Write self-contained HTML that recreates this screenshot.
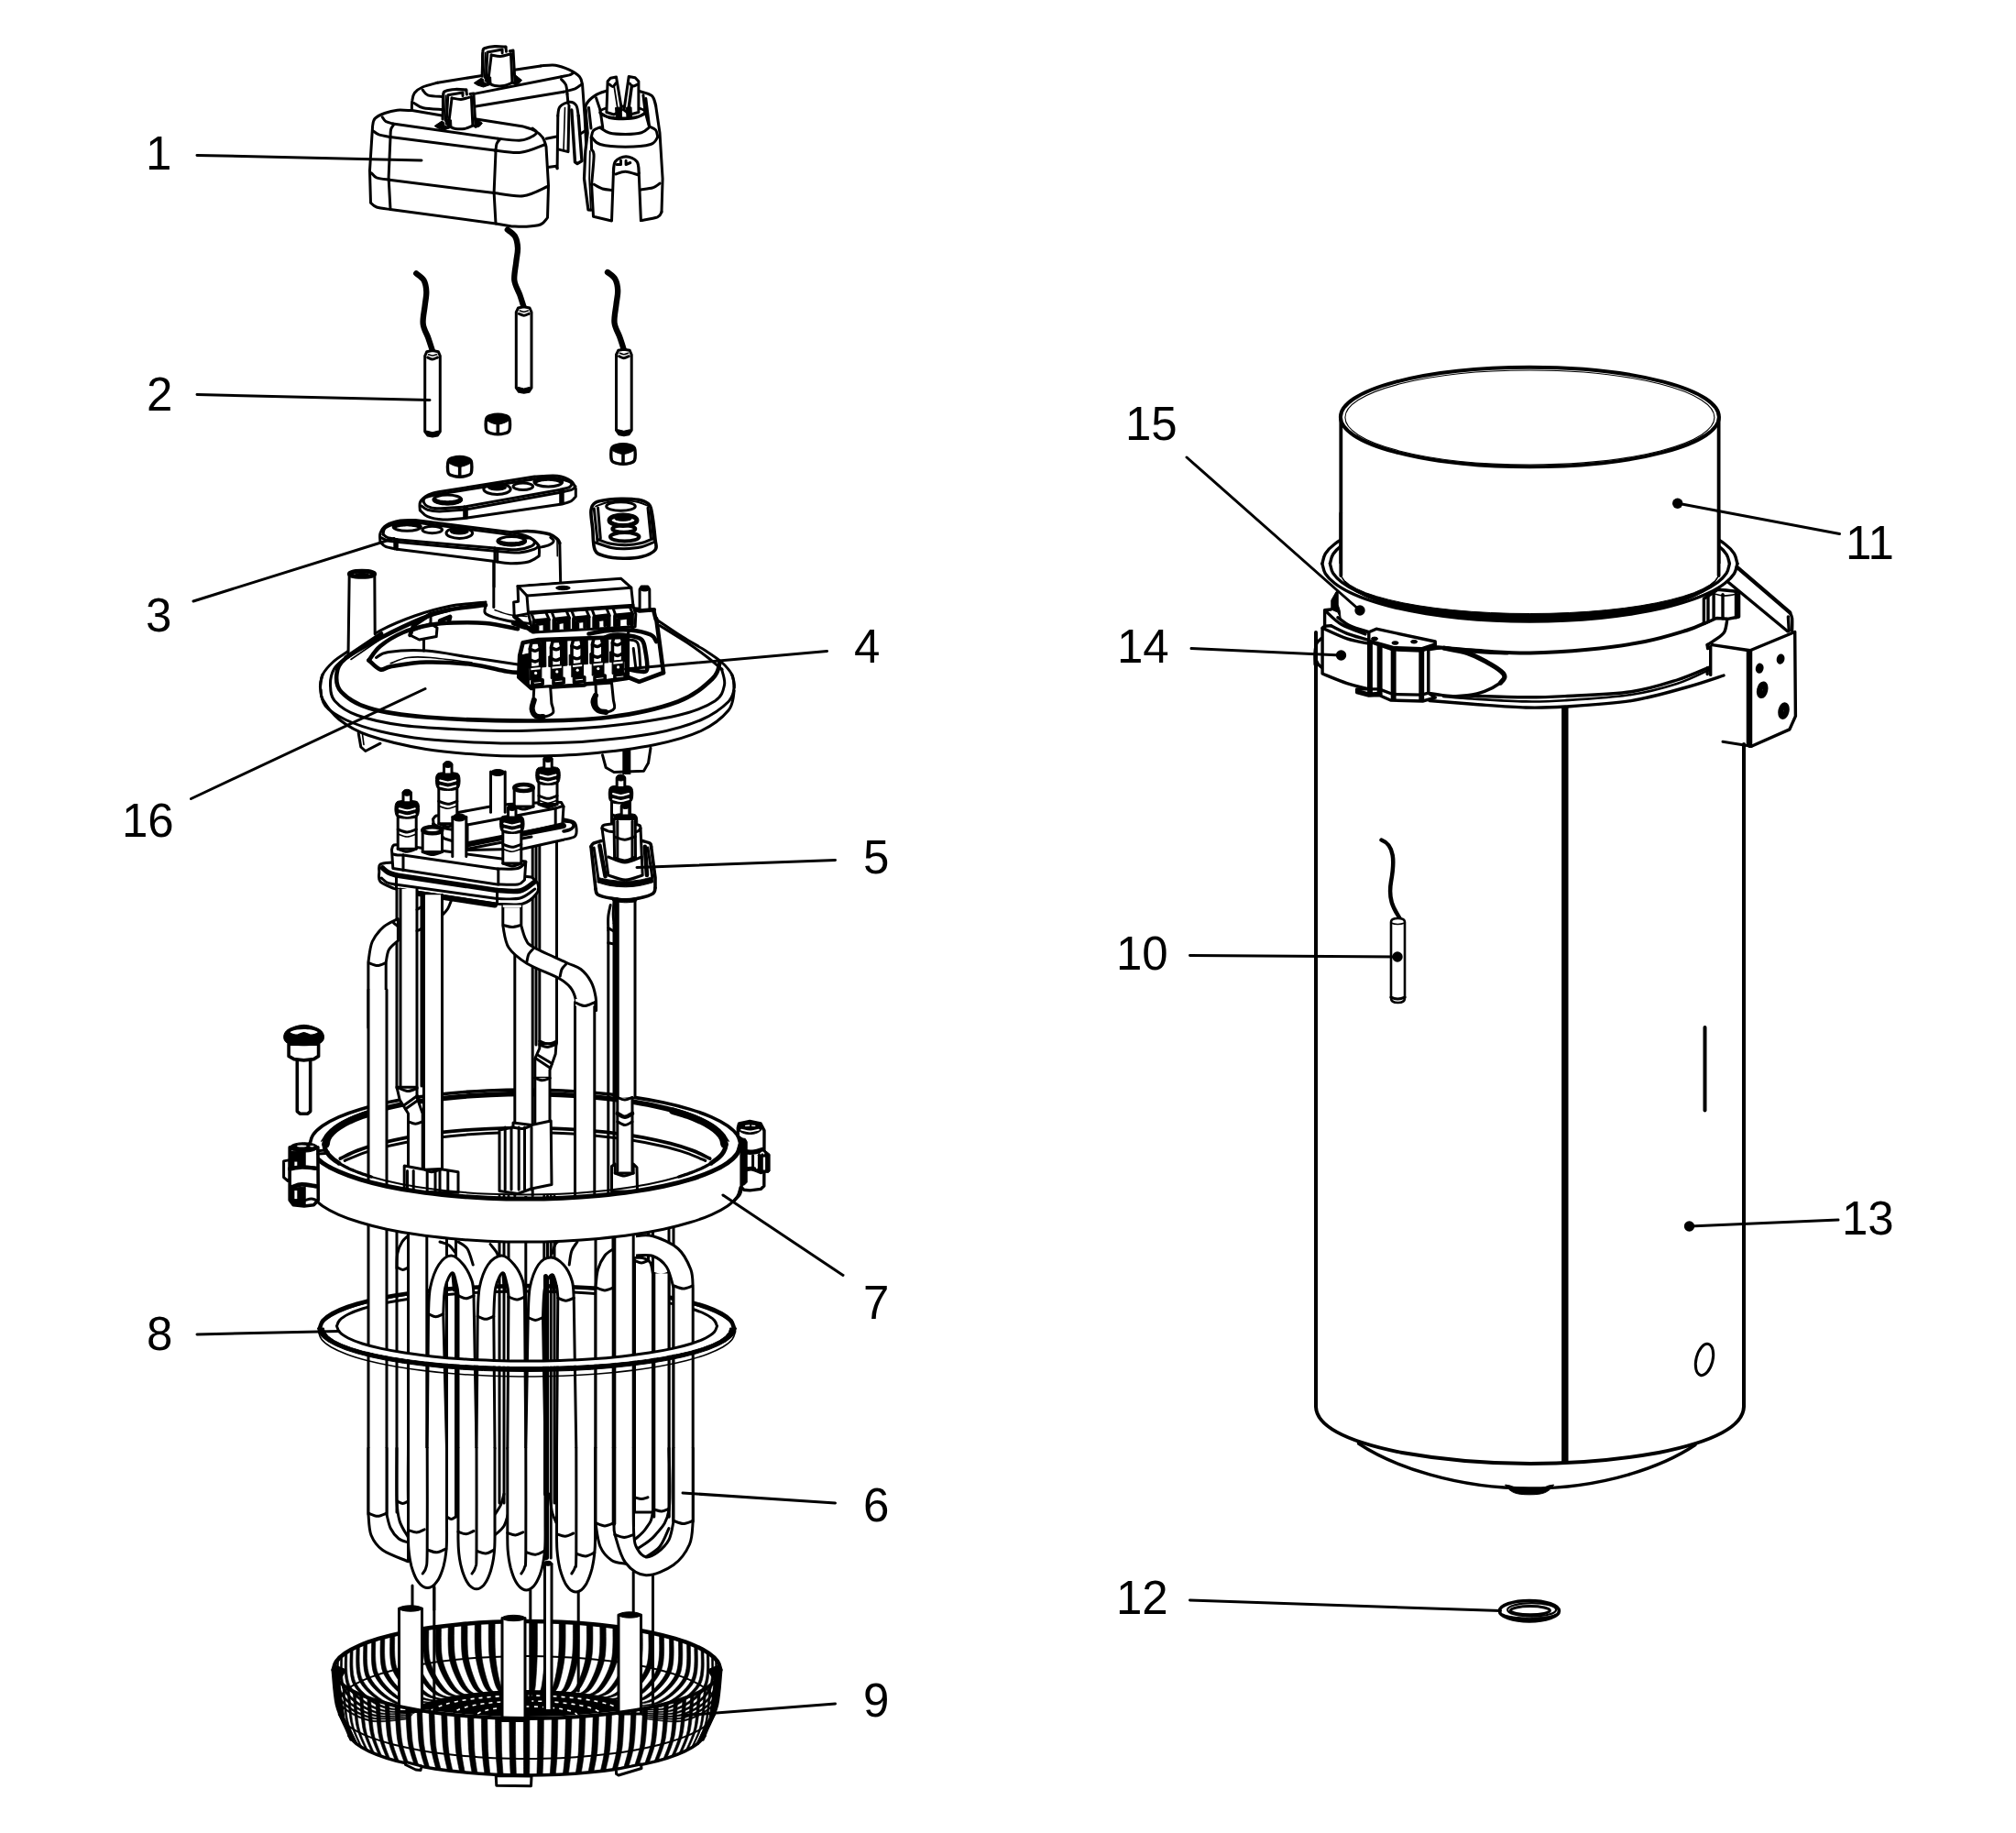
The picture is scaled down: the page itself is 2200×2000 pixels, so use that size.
<!DOCTYPE html>
<html><head><meta charset="utf-8">
<style>
html,body{margin:0;padding:0;background:#fff;}
body{width:2200px;height:2000px;overflow:hidden;font-family:"Liberation Sans",sans-serif;}
svg{display:block}
.l{fill:none;stroke:#000;stroke-width:3;stroke-linecap:round;stroke-linejoin:round}
.w{fill:#fff;stroke:#000;stroke-width:3;stroke-linecap:round;stroke-linejoin:round}
.n{fill:#fff;stroke:none}
.r .l,.r .w{stroke-width:3.4}
.k{fill:#000;stroke:#000;stroke-width:1;stroke-linejoin:round}
.t{font-family:"Liberation Sans",sans-serif;font-size:51px;fill:#000}
.ld{fill:none;stroke:#000;stroke-width:3;stroke-linecap:round}
</style></head><body>
<svg width="2200" height="2000" viewBox="0 0 2200 2000">
<rect width="2200" height="2000" fill="#fff"/>
<!--RING7, tubes, RING8, U-bends, BASKET-->
<path class="k" style="stroke-width:.6" d="M364,1819.2C364.7,1825.6 361.8,1847.5 368.3,1857.2C374.8,1867 390.1,1874.8 403.2,1877.9C416.4,1880.9 439.9,1875.9 447.2,1875.5L447.5,1874.6C440.2,1874.9 416.7,1879.7 403.6,1876.5C390.5,1873.3 375.3,1865.3 368.8,1855.5C362.2,1845.6 365.2,1823.8 364.5,1817.5Z"/>
<path class="k" style="stroke-width:.6" d="M365.4,1815.4C366.1,1821.7 363.1,1843.4 369.6,1853.4C376.1,1863.3 391.3,1871.5 404.4,1874.9C417.4,1878.2 440.7,1873.7 448,1873.5L448.6,1872.6C441.4,1872.7 418.2,1877 405.2,1873.5C392.2,1870 377.1,1861.6 370.6,1851.6C364.1,1841.6 367.1,1820 366.4,1813.6Z"/>
<path class="k" style="stroke-width:.6" d="M367.9,1811.5C368.6,1817.9 365.7,1839.5 372.1,1849.5C378.5,1859.6 393.5,1868.2 406.4,1871.9C419.3,1875.6 442.3,1871.5 449.5,1871.5L450.4,1870.6C443.3,1870.6 420.4,1874.4 407.6,1870.6C394.8,1866.8 379.9,1857.9 373.5,1847.8C367.2,1837.7 370.1,1816.1 369.4,1809.8Z"/>
<path class="k" style="stroke-width:.6" d="M371.5,1807.7C372.2,1814.1 369.3,1835.5 375.6,1845.7C381.9,1856 396.7,1865 409.3,1869C422,1872.9 444.7,1869.4 451.7,1869.5L452.9,1868.6C445.9,1868.4 423.5,1871.8 411,1867.7C398.4,1863.6 383.8,1854.3 377.6,1844.1C371.3,1833.8 374.2,1812.4 373.5,1806.1Z"/>
<path class="k" style="stroke-width:.6" d="M376.2,1804C376.9,1810.4 374.1,1831.7 380.2,1842C386.4,1852.4 400.8,1861.9 413.2,1866.1C425.6,1870.4 447.7,1867.3 454.6,1867.5L456.1,1866.7C449.2,1866.4 427.4,1869.2 415.2,1864.8C402.9,1860.5 388.7,1850.8 382.7,1840.4C376.6,1830 379.4,1808.7 378.7,1802.4Z"/>
<path class="k" style="stroke-width:.6" d="M382,1800.4C382.7,1806.8 379.9,1828 385.9,1838.4C391.9,1848.9 405.8,1858.8 417.9,1863.3C429.9,1867.9 451.4,1865.2 458.1,1865.6L459.8,1864.8C453.2,1864.3 432.1,1866.8 420.3,1862.1C408.4,1857.4 394.7,1847.4 388.8,1836.9C382.9,1826.3 385.6,1805.2 385,1798.9Z"/>
<path class="k" style="stroke-width:.6" d="M388.8,1797C389.4,1803.3 386.8,1824.3 392.6,1835C398.3,1845.6 411.8,1855.8 423.4,1860.6C435,1865.4 455.7,1863.2 462.2,1863.8L464.2,1863C457.9,1862.4 437.6,1864.4 426.2,1859.4C414.8,1854.5 401.6,1844.1 395.9,1833.4C390.2,1822.8 392.8,1801.8 392.2,1795.4Z"/>
<path class="k" style="stroke-width:.6" d="M396.6,1793.6C397.2,1799.9 394.7,1820.9 400.2,1831.6C405.7,1842.3 418.7,1853 429.8,1858C440.9,1863.1 460.7,1861.3 466.9,1862L469.2,1861.2C463.2,1860.5 443.8,1862.1 432.9,1856.9C422,1851.7 409.4,1840.9 404,1830.1C398.6,1819.3 401.1,1798.5 400.5,1792.1Z"/>
<path class="k" style="stroke-width:.6" d="M405.4,1790.4C406,1796.7 403.6,1817.5 408.8,1828.4C414.1,1839.3 426.3,1850.2 436.9,1855.6C447.5,1860.9 466.4,1859.5 472.2,1860.3L474.8,1859.6C469.1,1858.7 450.7,1859.9 440.4,1854.5C430.1,1849.1 418.1,1837.9 413,1827C407.9,1816.1 410.2,1795.3 409.7,1789Z"/>
<path class="k" style="stroke-width:.6" d="M415.1,1787.4C415.6,1793.7 413.4,1814.4 418.3,1825.4C423.3,1836.3 434.8,1847.7 444.8,1853.2C454.8,1858.8 472.6,1857.8 478.1,1858.7L480.9,1858C475.5,1857 458.3,1857.9 448.6,1852.2C438.9,1846.5 427.7,1835.1 422.8,1824.1C418,1813 420.2,1792.4 419.7,1786.1Z"/>
<path class="k" style="stroke-width:.6" d="M425.6,1784.5C426.1,1790.9 424,1811.4 428.6,1822.5C433.3,1833.6 444.1,1845.2 453.4,1851C462.7,1856.8 479.3,1856.2 484.5,1857.2L487.5,1856.6C482.5,1855.5 466.5,1855.9 457.5,1850.1C448.5,1844.2 438,1832.4 433.5,1821.3C429.1,1810.2 431.1,1789.6 430.6,1783.3Z"/>
<path class="k" style="stroke-width:.6" d="M437,1781.9C437.4,1788.2 435.5,1808.7 439.7,1819.9C444,1831.1 454,1843 462.6,1849C471.2,1855 486.6,1854.7 491.4,1855.8L494.6,1855.2C490,1854 475.2,1854.2 467,1848.1C458.7,1842 449.1,1830 445,1818.8C440.9,1807.5 442.8,1787.1 442.3,1780.8Z"/>
<path class="k" style="stroke-width:.6" d="M449,1779.5C449.5,1785.8 447.7,1806.2 451.6,1817.5C455.5,1828.7 464.6,1840.9 472.4,1847.1C480.3,1853.3 494.3,1853.3 498.7,1854.5L502.1,1854C497.9,1852.7 484.6,1852.6 477.1,1846.3C469.6,1840 460.9,1827.7 457.1,1816.4C453.4,1805.1 455.1,1784.8 454.7,1778.4Z"/>
<path class="k" style="stroke-width:.6" d="M461.8,1777.3C462.2,1783.6 460.6,1803.9 464.1,1815.3C467.6,1826.6 475.8,1839 482.8,1845.4C489.9,1851.7 502.5,1852 506.4,1853.4L510,1852.9C506.3,1851.5 494.4,1851.1 487.7,1844.7C481,1838.3 473.2,1825.7 469.9,1814.3C466.6,1802.9 468.1,1782.7 467.8,1776.3Z"/>
<path class="k" style="stroke-width:.6" d="M475.2,1775.3C475.5,1781.6 474.1,1801.9 477.2,1813.3C480.3,1824.7 487.5,1837.4 493.7,1843.9C499.9,1850.4 511,1850.9 514.5,1852.3L518.3,1851.9C515,1850.5 504.6,1849.8 498.8,1843.2C492.9,1836.7 486.2,1823.9 483.3,1812.5C480.4,1801 481.7,1780.8 481.4,1774.5Z"/>
<path class="k" style="stroke-width:.6" d="M489.1,1773.6C489.4,1779.9 488.1,1800.1 490.8,1811.6C493.5,1823.1 499.7,1835.9 505,1842.5C510.4,1849.2 520,1849.9 522.9,1851.4L526.8,1851.1C524.1,1849.6 515.2,1848.7 510.3,1842C505.3,1835.3 499.6,1822.4 497.1,1810.9C494.6,1799.4 495.8,1779.2 495.5,1772.9Z"/>
<path class="k" style="stroke-width:.6" d="M503.4,1772.1C503.7,1778.5 502.7,1798.6 504.9,1810.1C507.1,1821.7 512.3,1834.7 516.7,1841.4C521.2,1848.2 529.2,1849.1 531.6,1850.7L535.6,1850.4C533.4,1848.8 526.2,1847.8 522.1,1841C518.1,1834.2 513.4,1821.1 511.3,1809.6C509.3,1798 510.3,1777.9 510,1771.6Z"/>
<path class="k" style="stroke-width:.6" d="M518.2,1771C518.4,1777.3 517.6,1797.4 519.3,1809C521.1,1820.5 525.2,1833.7 528.7,1840.5C532.3,1847.4 538.6,1848.4 540.6,1850L544.7,1849.8C542.9,1848.2 537.4,1847 534.2,1840.2C531.1,1833.3 527.5,1820.1 525.9,1808.5C524.4,1796.9 525.1,1776.8 524.9,1770.5Z"/>
<path class="k" style="stroke-width:.6" d="M533.2,1770C533.4,1776.4 532.8,1796.4 534.1,1808C535.4,1819.7 538.4,1832.9 541,1839.8C543.6,1846.7 548.3,1847.9 549.7,1849.6L553.9,1849.4C552.6,1847.7 548.8,1846.5 546.6,1839.6C544.4,1832.6 541.9,1819.4 540.8,1807.7C539.7,1796.1 540.2,1776.1 540.1,1769.7Z"/>
<path class="k" style="stroke-width:.6" d="M548.5,1769.4C548.6,1775.8 548.2,1795.8 549.1,1807.4C549.9,1819.1 551.8,1832.4 553.4,1839.3C555.1,1846.3 558,1847.6 559,1849.2L563.2,1849.1C562.5,1847.5 560.3,1846.2 559.1,1839.2C557.9,1832.2 556.4,1818.9 555.8,1807.2C555.2,1795.6 555.5,1775.6 555.5,1769.2Z"/>
<path class="k" style="stroke-width:.6" d="M563.9,1769.1C564,1775.4 563.8,1795.4 564.2,1807.1C564.5,1818.7 565.3,1832.1 566,1839.1C566.7,1846.1 567.9,1847.4 568.3,1849L572.5,1849C572.4,1847.3 571.9,1846 571.7,1839C571.4,1832 571.1,1818.7 571,1807C570.9,1795.3 570.9,1775.3 570.9,1769Z"/>
<path class="k" style="stroke-width:.6" d="M579.4,1769C579.4,1775.3 579.5,1795.3 579.3,1807C579.2,1818.7 578.9,1832 578.6,1839C578.3,1846 577.8,1847.3 577.7,1849L581.9,1849C582.3,1847.4 583.6,1846.1 584.3,1839.1C585,1832.1 585.8,1818.7 586.2,1807.1C586.5,1795.4 586.3,1775.4 586.4,1769.1Z"/>
<path class="k" style="stroke-width:.6" d="M594.9,1769.2C594.8,1775.6 595.1,1795.6 594.5,1807.2C593.9,1818.9 592.4,1832.2 591.2,1839.2C589.9,1846.2 587.7,1847.5 587,1849.1L591.2,1849.2C592.2,1847.6 595.2,1846.3 596.8,1839.3C598.5,1832.4 600.4,1819.1 601.3,1807.4C602.1,1795.8 601.7,1775.8 601.8,1769.4Z"/>
<path class="k" style="stroke-width:.6" d="M610.2,1769.7C610.1,1776.1 610.6,1796.1 609.5,1807.7C608.4,1819.4 605.9,1832.6 603.7,1839.6C601.5,1846.5 597.6,1847.8 596.3,1849.4L600.5,1849.6C602,1847.9 606.6,1846.7 609.3,1839.8C611.9,1832.9 614.9,1819.7 616.2,1808.1C617.5,1796.4 616.9,1776.4 617.1,1770.1Z"/>
<path class="k" style="stroke-width:.6" d="M625.4,1770.5C625.2,1776.9 625.9,1796.9 624.4,1808.5C622.8,1820.1 619.2,1833.3 616,1840.2C612.9,1847.1 607.3,1848.2 605.5,1849.8L609.6,1850C611.6,1848.5 618,1847.4 621.5,1840.5C625.1,1833.7 629.2,1820.6 631,1809C632.7,1797.4 631.9,1777.3 632.1,1771Z"/>
<path class="k" style="stroke-width:.6" d="M640.3,1771.6C640.1,1777.9 641,1798 639,1809.6C636.9,1821.2 632.2,1834.2 628.2,1841C624.1,1847.8 616.8,1848.8 614.6,1850.4L618.5,1850.7C621,1849.1 629,1848.2 633.5,1841.4C638,1834.7 643.2,1821.7 645.4,1810.2C647.7,1798.6 646.6,1778.5 646.9,1772.2Z"/>
<path class="k" style="stroke-width:.6" d="M654.8,1772.9C654.6,1779.3 655.7,1799.4 653.2,1810.9C650.7,1822.4 645,1835.3 640,1842C635,1848.7 626.1,1849.6 623.4,1851.1L627.2,1851.4C630.2,1850 639.8,1849.2 645.2,1842.6C650.6,1835.9 656.8,1823.1 659.5,1811.6C662.2,1800.1 660.9,1779.9 661.2,1773.6Z"/>
<path class="k" style="stroke-width:.6" d="M668.9,1774.5C668.6,1780.9 669.9,1801.1 667,1812.5C664.1,1824 657.3,1836.7 651.5,1843.3C645.6,1849.8 635.2,1850.5 631.9,1851.9L635.7,1852.3C639.1,1850.9 650.3,1850.4 656.5,1843.9C662.8,1837.4 670,1824.8 673.1,1813.3C676.2,1801.9 674.8,1781.7 675.1,1775.3Z"/>
<path class="k" style="stroke-width:.6" d="M682.5,1776.4C682.2,1782.7 683.7,1803 680.4,1814.4C677,1825.8 669.3,1838.3 662.6,1844.7C655.9,1851.1 643.9,1851.5 640.2,1852.9L643.8,1853.4C647.7,1852.1 660.3,1851.8 667.4,1845.4C674.5,1839.1 682.7,1826.6 686.2,1815.3C689.7,1803.9 688.1,1783.6 688.5,1777.3Z"/>
<path class="k" style="stroke-width:.6" d="M695.6,1778.5C695.2,1784.8 696.9,1805.2 693.1,1816.5C689.4,1827.8 680.7,1840.1 673.2,1846.3C665.6,1852.6 652.2,1852.7 648.1,1854L651.5,1854.5C655.9,1853.3 669.9,1853.3 677.8,1847.1C685.6,1840.9 694.8,1828.8 698.7,1817.5C702.6,1806.2 700.8,1785.8 701.2,1779.5Z"/>
<path class="k" style="stroke-width:.6" d="M707.9,1780.8C707.5,1787.1 709.4,1807.6 705.3,1818.8C701.2,1830 691.5,1842.1 683.2,1848.1C675,1854.2 660.2,1854.1 655.6,1855.2L658.8,1855.8C663.6,1854.7 679,1855 687.6,1849C696.2,1843 706.2,1831.1 710.5,1819.9C714.8,1808.8 712.8,1788.3 713.3,1781.9Z"/>
<path class="k" style="stroke-width:.6" d="M719.6,1783.4C719.1,1789.7 721.2,1810.2 716.7,1821.4C712.2,1832.5 701.8,1844.2 692.7,1850.1C683.7,1856 667.6,1855.5 662.6,1856.6L665.7,1857.2C670.8,1856.2 687.5,1856.8 696.8,1851.1C706.1,1845.3 717,1833.7 721.6,1822.6C726.2,1811.5 724.1,1790.9 724.6,1784.6Z"/>
<path class="k" style="stroke-width:.6" d="M730.5,1786.1C730,1792.5 732.2,1813.1 727.4,1824.1C722.6,1835.1 711.3,1846.6 701.6,1852.2C691.9,1857.9 674.6,1857.1 669.2,1858L672,1858.7C677.6,1857.8 695.4,1858.8 705.4,1853.3C715.4,1847.7 727,1836.4 731.9,1825.4C736.9,1814.5 734.6,1793.8 735.1,1787.4Z"/>
<path class="k" style="stroke-width:.6" d="M740.6,1789.1C740,1795.4 742.4,1816.2 737.2,1827.1C732.1,1838 720.1,1849.1 709.8,1854.5C699.5,1860 681.1,1858.8 675.3,1859.6L677.9,1860.3C683.8,1859.6 702.7,1860.9 713.2,1855.6C723.8,1850.3 736.1,1839.3 741.4,1828.5C746.6,1817.6 744.2,1796.8 744.8,1790.5Z"/>
<path class="k" style="stroke-width:.6" d="M749.7,1792.2C749.1,1798.5 751.6,1819.4 746.2,1830.2C740.8,1841 728.1,1851.8 717.3,1857C706.4,1862.1 686.9,1860.5 680.9,1861.3L683.2,1862C689.4,1861.4 709.2,1863.1 720.4,1858.1C731.5,1853 744.4,1842.4 749.9,1831.7C755.5,1820.9 752.9,1800 753.5,1793.7Z"/>
<path class="k" style="stroke-width:.6" d="M757.9,1795.5C757.3,1801.8 759.9,1822.8 754.3,1833.5C748.6,1844.2 735.4,1854.6 724,1859.5C712.6,1864.4 692.2,1862.4 685.9,1863L687.9,1863.8C694.4,1863.3 715.1,1865.5 726.7,1860.7C738.3,1855.9 751.8,1845.6 757.6,1835C763.4,1824.4 760.7,1803.4 761.3,1797Z"/>
<path class="k" style="stroke-width:.6" d="M765.2,1798.9C764.6,1805.3 767.3,1826.4 761.4,1836.9C755.5,1847.5 741.7,1857.5 729.9,1862.2C718,1866.8 696.8,1864.4 690.2,1864.8L692,1865.7C698.7,1865.3 720.2,1867.9 732.2,1863.4C744.3,1858.9 758.3,1849 764.2,1838.5C770.2,1828 767.5,1806.9 768.1,1800.5Z"/>
<path class="k" style="stroke-width:.6" d="M771.4,1802.5C770.8,1808.8 773.5,1830.1 767.5,1840.5C761.4,1850.9 747.2,1860.5 734.9,1864.9C722.7,1869.3 700.8,1866.4 694,1866.7L695.5,1867.6C702.4,1867.3 724.5,1870.4 736.9,1866.2C749.3,1861.9 763.7,1852.5 769.9,1842.1C776,1831.8 773.2,1810.5 773.9,1804.1Z"/>
<path class="k" style="stroke-width:.6" d="M776.6,1806.2C775.9,1812.5 778.8,1833.9 772.5,1844.2C766.3,1854.4 751.7,1863.7 739.1,1867.7C726.6,1871.8 704.1,1868.5 697.1,1868.6L698.3,1869.5C705.4,1869.4 728,1873 740.7,1869C753.4,1865.1 768.2,1856 774.5,1845.8C780.8,1835.6 777.9,1814.2 778.6,1807.8Z"/>
<path class="k" style="stroke-width:.6" d="M780.7,1809.9C780,1816.2 782.9,1837.8 776.5,1847.9C770.2,1858 755.3,1866.9 742.5,1870.6C729.6,1874.4 706.8,1870.6 699.6,1870.6L700.5,1871.5C707.7,1871.6 730.7,1875.6 743.7,1872C756.6,1868.3 771.6,1859.7 778,1849.6C784.4,1839.5 781.5,1817.9 782.1,1811.6Z"/>
<path class="k" style="stroke-width:.6" d="M783.6,1813.7C782.9,1820 785.9,1841.7 779.5,1851.7C773,1861.7 757.9,1870.1 744.9,1873.6C731.9,1877.1 708.7,1872.8 701.4,1872.6L702,1873.5C709.3,1873.8 732.6,1878.3 745.7,1874.9C758.7,1871.6 773.9,1863.4 780.4,1853.4C786.9,1843.5 783.9,1821.8 784.6,1815.4Z"/>
<path class="k" style="stroke-width:.6" d="M785.5,1817.6C784.8,1823.9 787.8,1845.7 781.3,1855.6C774.8,1865.4 759.5,1873.4 746.4,1876.6C733.3,1879.8 709.9,1875 702.6,1874.7L702.8,1875.6C710.2,1876 733.6,1881 746.8,1877.9C759.9,1874.9 775.2,1867.1 781.7,1857.3C788.3,1847.5 785.3,1825.6 786,1819.3Z"/>
<path class="l" d="M368.8,1855.4C369.8,1853.9 372,1849.2 375.1,1846.3C378.2,1843.3 382.3,1840.4 387.4,1837.6C392.5,1834.8 398.6,1832.1 405.4,1829.6C412.3,1827.1 420.2,1824.7 428.6,1822.5C437.1,1820.4 446.5,1818.3 456.3,1816.6C466.1,1814.8 476.7,1813.3 487.5,1812C498.4,1810.7 509.9,1809.6 521.4,1808.8C533,1808 545,1807.5 557,1807.2C568.9,1806.9 581.1,1806.9 593,1807.2C605,1807.5 617,1808 628.6,1808.8C640.1,1809.6 651.6,1810.7 662.5,1812C673.3,1813.3 683.9,1814.8 693.7,1816.6C703.5,1818.3 712.9,1820.4 721.4,1822.5C729.8,1824.7 737.7,1827.1 744.6,1829.6C751.4,1832.1 757.5,1834.8 762.6,1837.6C767.7,1840.4 771.8,1843.3 774.9,1846.3C778,1849.2 780.2,1853.9 781.2,1855.4" style="stroke-width:2"/>
<clipPath id="rimclip"><ellipse cx="575" cy="1822" rx="209" ry="51"/></clipPath>
<g clip-path="url(#rimclip)"><ellipse cx="575" cy="1874" rx="130" ry="30" fill="#000"/>
<ellipse cx="575" cy="1872" rx="108" ry="22" fill="none" stroke="#fff" stroke-width="1.6" stroke-dasharray="4 5"/>
<ellipse cx="575" cy="1872" rx="82" ry="16" fill="none" stroke="#fff" stroke-width="1.6" stroke-dasharray="4 5"/>
<ellipse cx="575" cy="1872" rx="55" ry="10" fill="none" stroke="#fff" stroke-width="1.6" stroke-dasharray="4 5"/>
</g>
<path class="l" d="M363.8,1822C364.3,1820.5 364.8,1815.8 367,1812.8C369.1,1809.8 372.3,1806.8 376.5,1803.9C380.7,1801 385.9,1798.2 392.1,1795.5C398.2,1792.8 405.3,1790.3 413.2,1787.9C421,1785.6 429.8,1783.4 439.2,1781.4C448.6,1779.4 458.8,1777.6 469.4,1776.1C480,1774.6 491.3,1773.2 502.7,1772.2C514.2,1771.1 526.3,1770.3 538.3,1769.8C550.4,1769.3 562.8,1769 575,1769C587.2,1769 599.6,1769.3 611.7,1769.8C623.7,1770.3 635.8,1771.1 647.3,1772.2C658.7,1773.2 670,1774.6 680.6,1776.1C691.2,1777.6 701.4,1779.4 710.8,1781.4C720.2,1783.4 729,1785.6 736.8,1787.9C744.7,1790.3 751.8,1792.8 757.9,1795.5C764.1,1798.2 769.3,1801 773.5,1803.9C777.7,1806.8 780.9,1809.8 783,1812.8C785.2,1815.8 785.7,1820.5 786.2,1822" style="stroke-width:4.6"/>
<path class="n" d="M594.5,1706.2L602,1706.2L602,1865L594.5,1865Z"/>
<path class="l" d="M594.5,1706.2L594.5,1865"/>
<path class="l" d="M602,1706.2L602,1865"/>
<ellipse class="k" cx="598" cy="1705.8" rx="4.2" ry="2.5"/>
<path class="n" d="M450,1730L473.8,1730L473.8,1756.2L450,1756.2Z"/>
<path class="l" d="M450,1730L450,1756.2"/>
<path class="l" d="M473.8,1730L473.8,1756.2"/>
<path class="l" d="M473.8,1732.5L473.8,1867.5"/>
<path class="l" d="M578.8,1735L578.8,1870"/>
<path class="l" d="M691.2,1715L691.2,1760"/>
<path class="l" d="M712.5,1720L712.5,1860"/>
<path class="l" d="M631.2,1737L631.2,1845"/>
<path class="w" d="M435.5,1755L460.5,1755L460.5,1867.5L435.5,1867.5Z"/>
<ellipse class="k" cx="448" cy="1755" rx="12.5" ry="3.2"/>
<path class="w" d="M548,1765.5L573,1765.5L573,1877.5L548,1877.5Z"/>
<ellipse class="k" cx="560.5" cy="1765.5" rx="12.5" ry="3.2"/>
<path class="w" d="M675,1762L699.5,1762L699.5,1870L675,1870Z"/>
<ellipse class="k" cx="687.2" cy="1762" rx="12.2" ry="3.2"/>
<path class="k" style="stroke-width:.6" d="M786.2,1822.9C785.5,1829.3 784.5,1850.1 782,1860.9C779.4,1871.7 772.8,1883.4 771,1887.9L770.8,1889.4C772.6,1885 779.2,1873.4 781.8,1862.6C784.3,1851.8 785.3,1830.9 786,1824.6Z"/>
<path class="k" style="stroke-width:.6" d="M785.4,1826.8C784.7,1833.1 783.7,1854 781.1,1864.8C778.6,1875.6 772,1887.1 770.2,1891.5L769.5,1893.1C771.4,1888.7 777.9,1877.2 780.5,1866.5C783,1855.7 784,1834.8 784.7,1828.5Z"/>
<path class="k" style="stroke-width:.6" d="M783.4,1830.7C782.7,1837 781.7,1857.9 779.2,1868.7C776.7,1879.4 770.2,1890.7 768.4,1895.2L767.3,1896.7C769.1,1892.3 775.6,1881 778.1,1870.3C780.5,1859.6 781.5,1838.6 782.2,1832.3Z"/>
<path class="k" style="stroke-width:.6" d="M780.3,1834.5C779.6,1840.8 778.7,1861.7 776.2,1872.5C773.7,1883.2 767.3,1894.4 765.5,1898.8L764,1900.3C765.7,1895.9 772.1,1884.8 774.6,1874.1C777,1863.4 778,1842.4 778.7,1836.1Z"/>
<path class="k" style="stroke-width:.6" d="M776.1,1838.2C775.5,1844.5 774.5,1865.5 772.1,1876.2C769.7,1886.9 763.4,1897.9 761.6,1902.3L759.6,1903.8C761.4,1899.4 767.6,1888.4 770,1877.8C772.4,1867.1 773.3,1846.1 774,1839.8Z"/>
<path class="k" style="stroke-width:.6" d="M770.9,1841.9C770.2,1848.2 769.3,1869.2 766.9,1879.9C764.6,1890.5 758.4,1901.4 756.7,1905.7L754.3,1907.2C756,1902.9 762.1,1892 764.4,1881.4C766.7,1870.8 767.6,1849.7 768.3,1843.4Z"/>
<path class="k" style="stroke-width:.6" d="M764.5,1845.4C763.9,1851.7 763,1872.8 760.7,1883.4C758.5,1894 752.5,1904.8 750.9,1909.1L748,1910.5C749.7,1906.2 755.5,1895.5 757.8,1884.9C760,1874.3 760.9,1853.2 761.5,1846.9Z"/>
<path class="k" style="stroke-width:.6" d="M757.2,1848.8C756.6,1855.2 755.7,1876.2 753.5,1886.8C751.3,1897.4 745.6,1908.1 744.1,1912.3L740.8,1913.6C742.4,1909.4 748,1898.8 750.2,1888.2C752.3,1877.7 753.1,1856.6 753.7,1850.2Z"/>
<path class="k" style="stroke-width:.6" d="M748.9,1852.1C748.3,1858.4 747.5,1879.5 745.4,1890.1C743.3,1900.6 737.8,1911.2 736.3,1915.4L732.7,1916.7C734.2,1912.5 739.6,1902 741.6,1891.5C743.6,1880.9 744.5,1859.8 745,1853.5Z"/>
<path class="k" style="stroke-width:.6" d="M739.6,1855.2C739.1,1861.5 738.3,1882.7 736.3,1893.2C734.3,1903.7 729.2,1914.1 727.8,1918.3L723.8,1919.5C725.2,1915.4 730.2,1905 732.2,1894.5C734.1,1884 734.8,1862.8 735.4,1856.5Z"/>
<path class="k" style="stroke-width:.6" d="M729.5,1858.1C729,1864.5 728.2,1885.7 726.4,1896.1C724.5,1906.6 719.7,1916.9 718.3,1921.1L714.1,1922.2C715.4,1918.1 720.1,1907.8 721.9,1897.3C723.7,1886.9 724.4,1865.7 724.9,1859.3Z"/>
<path class="k" style="stroke-width:.6" d="M718.5,1860.9C718.1,1867.2 717.4,1888.4 715.6,1898.9C713.9,1909.4 709.4,1919.6 708.2,1923.7L703.6,1924.7C704.8,1920.6 709.1,1910.5 710.8,1900C712.5,1889.5 713.1,1868.3 713.6,1862Z"/>
<path class="k" style="stroke-width:.6" d="M706.8,1863.4C706.4,1869.8 705.7,1891 704.1,1901.4C702.6,1911.9 698.4,1922 697.3,1926.1L692.4,1927C693.5,1922.9 697.5,1912.9 699,1902.4C700.5,1892 701.1,1870.8 701.5,1864.4Z"/>
<path class="k" style="stroke-width:.6" d="M694.3,1865.7C693.9,1872.1 693.4,1893.3 691.9,1903.7C690.5,1914.2 686.8,1924.2 685.7,1928.3L680.6,1929.1C681.6,1925 685.1,1915.1 686.5,1904.7C687.9,1894.2 688.4,1873 688.8,1866.7Z"/>
<path class="k" style="stroke-width:.6" d="M681.3,1867.8C680.9,1874.1 680.4,1895.4 679.1,1905.8C677.8,1916.2 674.5,1926.1 673.6,1930.2L668.2,1931C669.1,1926.9 672.2,1917 673.4,1906.6C674.6,1896.2 675.1,1875 675.5,1868.6Z"/>
<path class="k" style="stroke-width:.6" d="M667.6,1869.6C667.3,1876 666.9,1897.3 665.7,1907.6C664.6,1918 661.7,1927.9 660.9,1931.9L655.3,1932.6C656.1,1928.6 658.8,1918.7 659.8,1908.3C660.9,1898 661.3,1876.7 661.6,1870.3Z"/>
<path class="k" style="stroke-width:.6" d="M653.5,1871.2C653.2,1877.5 652.8,1898.8 651.9,1909.2C650.9,1919.6 648.5,1929.4 647.8,1933.4L642,1934C642.6,1930 644.9,1920.2 645.8,1909.8C646.6,1899.4 647,1878.1 647.2,1871.8Z"/>
<path class="k" style="stroke-width:.6" d="M638.9,1872.5C638.7,1878.9 638.4,1900.2 637.6,1910.5C636.8,1920.9 634.8,1930.6 634.3,1934.7L628.3,1935.1C628.8,1931.1 630.6,1921.4 631.3,1911C632,1900.6 632.3,1879.3 632.5,1873Z"/>
<path class="k" style="stroke-width:.6" d="M624,1873.6C623.8,1879.9 623.6,1901.2 623,1911.6C622.4,1921.9 620.8,1931.6 620.4,1935.6L614.4,1936C614.8,1932 616.1,1922.3 616.6,1911.9C617.1,1901.6 617.3,1880.3 617.5,1873.9Z"/>
<path class="k" style="stroke-width:.6" d="M608.8,1874.3C608.7,1880.7 608.5,1902 608.1,1912.3C607.7,1922.7 606.6,1932.4 606.3,1936.4L600.2,1936.6C600.5,1932.6 601.3,1922.9 601.6,1912.6C602,1902.2 602.1,1880.9 602.2,1874.6Z"/>
<path class="k" style="stroke-width:.6" d="M593.4,1874.8C593.3,1881.1 593.3,1902.5 593,1912.8C592.8,1923.1 592.2,1932.8 592.1,1936.8L585.9,1936.9C586,1932.9 586.4,1923.3 586.5,1912.9C586.7,1902.6 586.7,1881.3 586.8,1874.9Z"/>
<path class="k" style="stroke-width:.6" d="M577.9,1875C577.9,1881.3 577.9,1902.7 577.9,1913C577.9,1923.3 577.8,1933 577.7,1937L571.6,1937C571.5,1933 571.4,1923.3 571.4,1913C571.3,1902.7 571.3,1881.3 571.3,1875Z"/>
<path class="k" style="stroke-width:.6" d="M562.5,1874.9C562.5,1881.2 562.6,1902.6 562.7,1912.9C562.9,1923.2 563.3,1932.9 563.4,1936.9L557.2,1936.8C557,1932.8 556.4,1923.1 556.2,1912.8C556,1902.4 555.9,1881.1 555.8,1874.8Z"/>
<path class="k" style="stroke-width:.6" d="M547.1,1874.5C547.2,1880.9 547.3,1902.2 547.6,1912.5C548,1922.9 548.8,1932.6 549.1,1936.6L543,1936.3C542.7,1932.3 541.6,1922.6 541.2,1912.3C540.8,1901.9 540.6,1880.6 540.5,1874.3Z"/>
<path class="k" style="stroke-width:.6" d="M531.8,1873.9C531.9,1880.2 532.1,1901.5 532.7,1911.9C533.2,1922.2 534.5,1931.9 534.9,1935.9L528.9,1935.6C528.5,1931.6 526.9,1921.9 526.3,1911.5C525.7,1901.2 525.5,1879.8 525.3,1873.5Z"/>
<path class="k" style="stroke-width:.6" d="M516.8,1872.9C517,1879.3 517.2,1900.6 517.9,1910.9C518.6,1921.3 520.5,1931 521,1935.1L515.1,1934.6C514.5,1930.6 512.5,1920.8 511.7,1910.5C510.9,1900.1 510.6,1878.8 510.4,1872.5Z"/>
<path class="k" style="stroke-width:.6" d="M502.1,1871.7C502.3,1878.1 502.6,1899.4 503.5,1909.7C504.4,1920.1 506.7,1929.9 507.3,1933.9L501.6,1933.4C500.9,1929.3 498.4,1919.5 497.4,1909.1C496.5,1898.8 496.1,1877.5 495.8,1871.1Z"/>
<path class="k" style="stroke-width:.6" d="M487.7,1870.3C488,1876.6 488.4,1897.9 489.5,1908.3C490.5,1918.6 493.3,1928.5 494,1932.5L488.4,1931.9C487.6,1927.8 484.7,1917.9 483.6,1907.6C482.5,1897.2 482,1875.9 481.7,1869.6Z"/>
<path class="k" style="stroke-width:.6" d="M473.9,1868.5C474.2,1874.9 474.7,1896.1 475.9,1906.5C477.1,1916.9 480.3,1926.8 481.2,1930.9L475.8,1930.1C474.9,1926.1 471.5,1916.1 470.2,1905.7C468.9,1895.3 468.4,1874 468.1,1867.7Z"/>
<path class="k" style="stroke-width:.6" d="M460.6,1866.6C460.9,1872.9 461.5,1894.1 462.9,1904.6C464.2,1915 467.8,1924.9 468.8,1929L463.7,1928.2C462.6,1924.1 458.9,1914 457.4,1903.6C456,1893.2 455.4,1872 455,1865.6Z"/>
<path class="k" style="stroke-width:.6" d="M447.9,1864.3C448.3,1870.7 448.9,1891.9 450.4,1902.3C452,1912.8 455.9,1922.8 457,1926.9L452.2,1926C451,1921.9 446.9,1911.7 445.3,1901.3C443.7,1890.9 443.1,1869.6 442.6,1863.3Z"/>
<path class="k" style="stroke-width:.6" d="M435.9,1861.9C436.3,1868.2 437,1889.4 438.7,1899.9C440.3,1910.3 444.7,1920.5 445.9,1924.6L441.3,1923.6C440.1,1919.4 435.5,1909.2 433.8,1898.8C432.1,1888.3 431.4,1867.1 430.9,1860.8Z"/>
<path class="k" style="stroke-width:.6" d="M424.6,1859.2C425.1,1865.5 425.8,1886.7 427.6,1897.2C429.4,1907.7 434.1,1918 435.4,1922.1L431.2,1921C429.8,1916.8 425,1906.5 423.1,1896C421.2,1885.5 420.5,1864.3 420,1858Z"/>
<path class="k" style="stroke-width:.6" d="M414.1,1856.4C414.7,1862.7 415.4,1883.8 417.4,1894.4C419.3,1904.9 424.3,1915.2 425.7,1919.4L421.8,1918.2C420.4,1914 415.2,1903.6 413.2,1893.1C411.2,1882.5 410.4,1861.4 409.9,1855.1Z"/>
<path class="k" style="stroke-width:.6" d="M404.5,1853.3C405.1,1859.6 405.9,1880.8 408,1891.3C410,1901.8 415.4,1912.3 416.8,1916.5L413.3,1915.2C411.8,1911 406.3,1900.5 404.2,1889.9C402.1,1879.4 401.3,1858.3 400.7,1851.9Z"/>
<path class="k" style="stroke-width:.6" d="M395.8,1850.1C396.5,1856.4 397.3,1877.5 399.5,1888.1C401.6,1898.7 407.2,1909.3 408.8,1913.5L405.6,1912.1C404,1907.9 398.3,1897.2 396.1,1886.7C393.9,1876.1 393,1855 392.4,1848.7Z"/>
<path class="k" style="stroke-width:.6" d="M388.1,1846.7C388.8,1853.1 389.6,1874.1 391.9,1884.7C394.1,1895.3 400,1906.1 401.6,1910.3L398.8,1908.9C397.2,1904.6 391.2,1893.8 388.9,1883.2C386.7,1872.6 385.8,1851.6 385.1,1845.2Z"/>
<path class="k" style="stroke-width:.6" d="M381.4,1843.2C382.1,1849.6 383,1870.6 385.3,1881.2C387.6,1891.9 393.7,1902.7 395.4,1907L393,1905.6C391.3,1901.2 385.2,1890.3 382.8,1879.7C380.4,1869 379.5,1848 378.8,1841.7Z"/>
<path class="k" style="stroke-width:.6" d="M375.7,1839.6C376.4,1845.9 377.4,1866.9 379.8,1877.6C382.2,1888.3 388.4,1899.3 390.1,1903.6L388.2,1902.1C386.4,1897.8 380.1,1886.7 377.7,1876C375.3,1865.3 374.3,1844.4 373.6,1838Z"/>
<path class="k" style="stroke-width:.6" d="M371.1,1835.9C371.8,1842.2 372.8,1863.2 375.2,1873.9C377.7,1884.6 384.1,1895.7 385.9,1900.1L384.3,1898.6C382.5,1894.2 376.1,1883 373.6,1872.3C371.2,1861.6 370.2,1840.6 369.5,1834.3Z"/>
<path class="k" style="stroke-width:.6" d="M367.6,1832.1C368.3,1838.4 369.3,1859.4 371.8,1870.1C374.3,1880.9 380.8,1892.1 382.6,1896.5L381.5,1895C379.7,1890.6 373.2,1879.2 370.7,1868.5C368.2,1857.7 367.2,1836.8 366.5,1830.5Z"/>
<path class="k" style="stroke-width:.6" d="M365.2,1828.3C365.9,1834.6 366.9,1855.5 369.5,1866.3C372,1877 378.6,1888.5 380.4,1892.9L379.7,1891.4C377.9,1886.9 371.3,1875.4 368.8,1864.6C366.3,1853.8 365.3,1832.9 364.6,1826.6Z"/>
<path class="k" style="stroke-width:.6" d="M364,1824.4C364.7,1830.7 365.7,1851.6 368.2,1862.4C370.8,1873.2 377.4,1884.8 379.2,1889.3L379,1887.7C377.2,1883.2 370.6,1871.6 368,1860.7C365.5,1849.9 364.5,1829.1 363.8,1822.7Z"/>
<path class="l" d="M780.2,1870.6C779.2,1872.1 777.1,1876.8 774,1879.7C770.9,1882.7 766.7,1885.6 761.7,1888.4C756.7,1891.2 750.6,1893.9 743.7,1896.4C736.9,1898.9 729.1,1901.3 720.7,1903.5C712.2,1905.6 702.9,1907.7 693.2,1909.4C683.4,1911.2 672.9,1912.7 662.1,1914C651.3,1915.3 639.8,1916.4 628.3,1917.2C616.8,1918 604.8,1918.5 593,1918.8C581.1,1919.1 568.9,1919.1 557,1918.8C545.2,1918.5 533.2,1918 521.7,1917.2C510.2,1916.4 498.7,1915.3 487.9,1914C477.1,1912.7 466.6,1911.2 456.8,1909.4C447.1,1907.7 437.8,1905.6 429.3,1903.5C420.9,1901.3 413.1,1898.9 406.3,1896.4C399.4,1893.9 393.3,1891.2 388.3,1888.4C383.3,1885.6 379.1,1882.7 376,1879.7C372.9,1876.8 370.8,1872.1 369.8,1870.6" style="stroke-width:2"/>
<path class="l" d="M786.2,1822C785.7,1823.5 785.2,1828.2 783,1831.2C780.9,1834.2 777.7,1837.2 773.5,1840.1C769.3,1843 764.1,1845.8 757.9,1848.5C751.8,1851.2 744.7,1853.7 736.8,1856.1C729,1858.4 720.2,1860.6 710.8,1862.6C701.4,1864.6 691.2,1866.4 680.6,1867.9C670,1869.4 658.7,1870.8 647.3,1871.8C635.8,1872.9 623.7,1873.7 611.7,1874.2C599.6,1874.7 587.2,1875 575,1875C562.8,1875 550.4,1874.7 538.3,1874.2C526.3,1873.7 514.2,1872.9 502.7,1871.8C491.3,1870.8 480,1869.4 469.4,1867.9C458.8,1866.4 448.6,1864.6 439.2,1862.6C429.8,1860.6 421,1858.4 413.2,1856.1C405.3,1853.7 398.2,1851.2 392.1,1848.5C385.9,1845.8 380.7,1843 376.5,1840.1C372.3,1837.2 369.1,1834.2 367,1831.2C364.8,1828.2 364.3,1823.5 363.8,1822" style="stroke-width:4"/>
<path class="l" d="M786.2,1822C785.5,1828.3 784.5,1849.2 782,1860C779.5,1870.8 773.5,1880.8 771,1887C768.5,1893.2 767.4,1895.7 766.7,1897.4" style="stroke-width:4.6"/>
<path class="l" d="M363.8,1822C364.5,1828.3 365.5,1849.2 368,1860C370.5,1870.8 376.5,1880.8 379,1887C381.5,1893.2 382.6,1895.7 383.3,1897.4" style="stroke-width:4.6"/>
<path class="l" d="M769.1,1894C767.8,1895.4 764.8,1899.8 761.1,1902.7C757.5,1905.5 752.8,1908.3 747.2,1910.9C741.7,1913.5 735.1,1916 727.9,1918.3C720.6,1920.6 712.4,1922.8 703.6,1924.7C694.8,1926.7 685.2,1928.5 675.2,1930C665.2,1931.5 654.5,1932.8 643.6,1933.8C632.8,1934.9 621.3,1935.7 609.9,1936.2C598.4,1936.7 586.6,1937 575,1937C563.4,1937 551.6,1936.7 540.1,1936.2C528.7,1935.7 517.2,1934.9 506.4,1933.8C495.5,1932.8 484.8,1931.5 474.8,1930C464.8,1928.5 455.2,1926.7 446.4,1924.7C437.6,1922.8 429.4,1920.6 422.1,1918.3C414.9,1916 408.3,1913.5 402.8,1910.9C397.2,1908.3 392.5,1905.5 388.9,1902.7C385.2,1899.8 382.2,1895.4 380.9,1894" style="stroke-width:3.4"/>
<path class="k" d="M785.1,1816.5L786.2,1822L782,1860L770.9,1888.7L759.2,1904.1L774,1874.6L780,1834.8L772,1822Z"/>
<path class="k" d="M364.9,1816.5L363.8,1822L368,1860L379.1,1888.7L390.8,1904.1L376,1874.6L370,1834.8L378,1822Z"/>
<path class="w" d="M541.2,1937.5L580,1938L579.5,1948.8L541.8,1948.2Z"/>
<path class="w" d="M443,1922.5L460,1927L459,1931.5L453.8,1931L442.5,1925.5Z"/>
<path class="w" d="M672.5,1930.5L699.5,1925L700,1929.5L675,1937L672.5,1935.5Z"/>
<path class="l" d="M349,1449C349.6,1447.7 350.2,1443.6 352.4,1441C354.7,1438.4 358.2,1435.8 362.6,1433.3C367.1,1430.8 372.7,1428.3 379.3,1426C385.8,1423.7 393.5,1421.5 401.9,1419.4C410.3,1417.4 419.7,1415.5 429.7,1413.8C439.8,1412.1 450.7,1410.5 462,1409.2C473.3,1407.8 485.4,1406.7 497.7,1405.8C510,1404.9 522.9,1404.2 535.8,1403.7C548.6,1403.2 561.9,1403 575,1403C588.1,1403 601.4,1403.2 614.2,1403.7C627.1,1404.2 640,1404.9 652.3,1405.8C664.6,1406.7 676.7,1407.8 688,1409.2C699.3,1410.5 710.2,1412.1 720.3,1413.8C730.3,1415.5 739.7,1417.4 748.1,1419.4C756.5,1421.5 764.2,1423.7 770.7,1426C777.3,1428.3 782.9,1430.8 787.4,1433.3C791.8,1435.8 795.3,1438.4 797.6,1441C799.8,1443.6 800.4,1447.7 801,1449" style="stroke-width:4.6"/>
<path class="l" d="M367.5,1447C368,1445.9 368.6,1442.6 370.7,1440.4C372.7,1438.2 375.9,1436.1 380,1434C384.1,1431.9 389.3,1429.9 395.3,1428C401.3,1426.1 408.3,1424.3 416,1422.6C423.8,1420.9 432.4,1419.3 441.6,1417.9C450.8,1416.5 460.8,1415.2 471.2,1414.1C481.7,1413 492.7,1412 504,1411.3C515.3,1410.5 527.1,1410 539,1409.6C550.8,1409.2 563,1409 575,1409C587,1409 599.2,1409.2 611,1409.6C622.9,1410 634.7,1410.5 646,1411.3C657.3,1412 668.3,1413 678.8,1414.1C689.2,1415.2 699.2,1416.5 708.4,1417.9C717.6,1419.3 726.2,1420.9 734,1422.6C741.7,1424.3 748.7,1426.1 754.7,1428C760.7,1429.9 765.9,1431.9 770,1434C774.1,1436.1 777.3,1438.2 779.3,1440.4C781.4,1442.6 782,1445.9 782.5,1447"/>
<path class="l" d="M347.5,1453C348.1,1451.6 348.7,1447.3 351,1444.5C353.2,1441.7 356.7,1438.9 361.2,1436.2C365.7,1433.6 371.4,1431 378,1428.5C384.6,1426 392.3,1423.7 400.7,1421.5C409.2,1419.3 418.7,1417.3 428.8,1415.5C438.9,1413.6 449.8,1412 461.2,1410.6C472.7,1409.1 484.8,1407.9 497.2,1407C509.6,1406 522.5,1405.2 535.5,1404.7C548.5,1404.3 561.8,1404 575,1404C588.2,1404 601.5,1404.3 614.5,1404.7C627.5,1405.2 640.4,1406 652.8,1407C665.2,1407.9 677.3,1409.1 688.8,1410.6C700.2,1412 711.1,1413.6 721.2,1415.5C731.3,1417.3 740.8,1419.3 749.3,1421.5C757.7,1423.7 765.4,1426 772,1428.5C778.6,1431 784.3,1433.6 788.8,1436.2C793.3,1438.9 796.8,1441.7 799,1444.5C801.3,1447.3 801.9,1451.6 802.5,1453" style="stroke-width:1.6"/>
<path class="l" d="M433,1305L433,1650"/>
<path class="l" d="M445.5,1305L445.5,1650"/>
<path class="l" d="M487.5,1305L487.5,1655"/>
<path class="l" d="M497.5,1305L497.5,1655"/>
<path class="l" d="M545,1305L545,1640"/>
<path class="l" d="M550,1305L550,1640"/>
<path class="l" d="M555,1305L555,1668"/>
<path class="l" d="M573.8,1305L573.8,1668"/>
<path class="l" d="M593.8,1305L593.8,1700"/>
<path class="l" d="M597.5,1305L597.5,1700"/>
<path class="l" d="M601.2,1305L601.2,1700"/>
<path class="l" d="M605,1305L605,1640"/>
<path class="l" d="M650,1305L650,1662"/>
<path class="l" d="M707.5,1305L707.5,1640"/>
<path class="l" d="M712.5,1305L712.5,1648"/>
<path class="l" d="M730,1305L730,1655"/>
<path class="l" d="M735,1305L735,1660"/>
<path class="l" d="M433,1383.8C433.1,1381 432.8,1372.3 433.8,1367.5C434.7,1362.7 436.8,1358.2 438.8,1355C440.7,1351.8 444.4,1349.2 445.5,1348"/>
<path class="l" d="M445.5,1383.8C445.8,1381.5 445.8,1374 447,1370C448.2,1366 451.6,1361.7 452.5,1360"/>
<path class="l" d="M433.8,1383C434.7,1383.4 437.5,1385.5 439.5,1385.5C441.5,1385.5 444.5,1383.4 445.5,1383"/>
<path class="l" d="M480,1355C481.7,1355.6 487.1,1356.7 490,1358.8C492.9,1360.8 496.2,1366 497.5,1367.5"/>
<path class="l" d="M500,1355C501.7,1356.2 507.3,1358.3 510,1362.5C512.7,1366.7 515.2,1377.1 516.2,1380"/>
<path class="l" d="M535,1357.5C536.2,1359.2 540.8,1363.8 542.5,1367.5C544.2,1371.2 544.6,1377.9 545,1380"/>
<path class="l" d="M602.5,1367.5C603.1,1365.8 604.6,1360 606.2,1357.5C607.9,1355 611.5,1353.3 612.5,1352.5"/>
<path class="l" d="M621.2,1380C621.7,1377.5 622.3,1369.2 623.8,1365C625.2,1360.8 629,1356.7 630,1355"/>
<path class="n" d="M402,1295L422,1295L422,1652L402,1652Z"/>
<path class="l" d="M402,1295L402,1652"/>
<path class="l" d="M422,1295L422,1652"/>
<path class="n" d="M445.5,1305L465.8,1305L465.8,1580.5L445.5,1580.5Z"/>
<path class="l" d="M445.5,1305L445.5,1580.5"/>
<path class="l" d="M465.8,1305L465.8,1580.5"/>
<path class="n" d="M670,1305L691.2,1305L691.2,1665L670,1665Z"/>
<path class="l" d="M670,1305L670,1665"/>
<path class="l" d="M691.2,1305L691.2,1665"/>
<path class="l" d="M670,1305L670,1665" style="stroke-width:4.6"/>
<path class="w" d="M756.2,1660L756.2,1405C755.8,1401.7 756.5,1392.1 753.8,1385C751,1377.9 746.9,1368.5 740,1362.5C733.1,1356.5 720.4,1351 712.5,1348.8C704.6,1346.5 695.8,1348.8 692.5,1348.8L692.5,1370C695.8,1370.1 706.7,1368.4 712.5,1370.5C718.3,1372.6 723.8,1376.8 727.5,1382.5C731.2,1388.2 733.8,1401.2 735,1405L735,1660Z"/>
<path class="n" d="M692,1347.5L694,1347.5L694,1371.5L692,1371.5Z"/>
<path class="l" d="M735.5,1403C737.2,1403.5 742.1,1406 745.5,1406C748.9,1406 754,1403.5 755.8,1403"/>
<path class="w" d="M712.5,1650L712.5,1390C712,1387.9 711.4,1380.4 709.5,1377.5C707.6,1374.6 704.1,1373.3 701.2,1372.5C698.4,1371.7 694,1372.5 692.5,1372.5L692.5,1650Z"/>
<path class="l" d="M713.8,1389.5C715,1389.8 718.6,1391.6 721.2,1391.5C723.9,1391.4 728.1,1389.4 729.5,1389"/>
<path class="n" d="M713.8,1389.5L730,1389.5L730,1655L713.8,1655Z"/>
<path class="l" d="M713.8,1389.5L713.8,1655"/>
<path class="l" d="M730,1389.5L730,1655"/>
<path class="l" d="M692.5,1375.5C693.8,1375.9 697.6,1378 700,1378C702.4,1378 705.8,1375.9 707,1375.5"/>
<path class="w" d="M650,1662L650,1405C650.4,1401.7 650.8,1390.8 652.5,1385C654.2,1379.2 657.1,1373.8 660,1370C662.9,1366.2 668.3,1363.8 670,1362.5L670,1662Z"/>
<path class="l" d="M650.5,1405C652.1,1405.5 656.8,1408 660,1408C663.2,1408 667.9,1405.5 669.5,1405"/>
<path class="n" d="M670,1305L691.2,1305L691.2,1665L670,1665Z"/>
<path class="l" d="M670,1305L670,1665"/>
<path class="l" d="M691.2,1305L691.2,1665"/>
<path class="l" d="M670,1305L670,1665" style="stroke-width:4.6"/>
<path class="n" d="M466.2,1580.5L467.5,1433.8C467.8,1429 467.6,1414 469.5,1405C471.4,1396 474.9,1385.8 478.8,1380C482.6,1374.2 487.9,1370 492.4,1370C496.9,1370 502,1375.4 505.8,1380C509.5,1384.6 513.1,1391.9 515,1397.5C516.9,1403.1 516.7,1411 517,1413.8L520,1580.5L500,1580.5L500,1412.5C499.8,1410.8 499.6,1406.5 498.5,1402.5C497.4,1398.5 495.8,1388.3 493.6,1388.8C491.5,1389.2 487.4,1397.5 485.8,1405C484.1,1412.5 484.1,1429 483.8,1433.8L487.5,1580.5Z"/>
<path class="l" d="M466.2,1580.5L467.5,1433.8C467.8,1429 467.6,1414 469.5,1405C471.4,1396 474.9,1385.8 478.8,1380C482.6,1374.2 487.9,1370 492.4,1370C496.9,1370 502,1375.4 505.8,1380C509.5,1384.6 513.1,1391.9 515,1397.5C516.9,1403.1 516.7,1411 517,1413.8L520,1580.5"/>
<path class="l" d="M500,1580.5L500,1412.5C499.8,1410.8 499.6,1406.5 498.5,1402.5C497.4,1398.5 495.8,1388.3 493.6,1388.8C491.5,1389.2 487.4,1397.5 485.8,1405C484.1,1412.5 484.1,1429 483.8,1433.8L487.5,1580.5"/>
<path class="l" d="M467.5,1433.8C468.9,1434.2 472.9,1436.8 475.6,1436.8C478.3,1436.8 482.4,1434.2 483.8,1433.8"/>
<path class="l" d="M500,1413.8C501.4,1414.2 505.7,1416.8 508.5,1416.8C511.3,1416.8 515.6,1414.2 517,1413.8"/>
<path class="l" d="M494.4,1390L495.9,1407.5" style="stroke-width:4"/>
<path class="n" d="M520,1580.5L521.2,1436.2C521.6,1431 521.4,1414.4 523.2,1405C525.1,1395.6 528.5,1385.8 532.5,1380C536.5,1374.2 542.6,1370 547.4,1370C552.2,1370 557.4,1375.4 561.2,1380C565.1,1384.6 568.6,1391.7 570.5,1397.5C572.4,1403.3 572.2,1412.1 572.5,1415L573.8,1580.5L553.8,1580.5L555,1413.8C554.8,1411.9 554.6,1406.7 553.5,1402.5C552.4,1398.3 550.8,1388.3 548.6,1388.8C546.5,1389.2 542.4,1397.1 540.8,1405C539.1,1412.9 539.1,1431 538.8,1436.2L540,1580.5Z"/>
<path class="l" d="M520,1580.5L521.2,1436.2C521.6,1431 521.4,1414.4 523.2,1405C525.1,1395.6 528.5,1385.8 532.5,1380C536.5,1374.2 542.6,1370 547.4,1370C552.2,1370 557.4,1375.4 561.2,1380C565.1,1384.6 568.6,1391.7 570.5,1397.5C572.4,1403.3 572.2,1412.1 572.5,1415L573.8,1580.5"/>
<path class="l" d="M553.8,1580.5L555,1413.8C554.8,1411.9 554.6,1406.7 553.5,1402.5C552.4,1398.3 550.8,1388.3 548.6,1388.8C546.5,1389.2 542.4,1397.1 540.8,1405C539.1,1412.9 539.1,1431 538.8,1436.2L540,1580.5"/>
<path class="l" d="M521.2,1436.2C522.7,1436.8 527.1,1439.2 530,1439.2C532.9,1439.2 537.3,1436.8 538.8,1436.2"/>
<path class="l" d="M555,1415C556.5,1415.5 560.8,1418 563.8,1418C566.7,1418 571,1415.5 572.5,1415"/>
<path class="l" d="M549.4,1390L550.9,1407.5" style="stroke-width:4"/>
<path class="n" d="M573.8,1580.5L576.2,1437.5C576.6,1432.1 576.4,1414.6 578.2,1405C580.1,1395.4 583.7,1385.5 587.5,1380C591.3,1374.5 596.5,1372 601.1,1372C605.7,1372 611.1,1375.8 615,1380C618.9,1384.2 622.4,1391.5 624.2,1397.5C626.1,1403.5 625.9,1413.1 626.2,1416.2L628.8,1580.5L607.5,1580.5L608.8,1415C608.5,1412.9 608.3,1406.5 607.2,1402.5C606.2,1398.5 604.5,1390.3 602.4,1390.8C600.2,1391.2 596.1,1397.2 594.5,1405C592.9,1412.8 592.8,1432.1 592.5,1437.5L595,1580.5Z"/>
<path class="l" d="M573.8,1580.5L576.2,1437.5C576.6,1432.1 576.4,1414.6 578.2,1405C580.1,1395.4 583.7,1385.5 587.5,1380C591.3,1374.5 596.5,1372 601.1,1372C605.7,1372 611.1,1375.8 615,1380C618.9,1384.2 622.4,1391.5 624.2,1397.5C626.1,1403.5 625.9,1413.1 626.2,1416.2L628.8,1580.5"/>
<path class="l" d="M607.5,1580.5L608.8,1415C608.5,1412.9 608.3,1406.5 607.2,1402.5C606.2,1398.5 604.5,1390.3 602.4,1390.8C600.2,1391.2 596.1,1397.2 594.5,1405C592.9,1412.8 592.8,1432.1 592.5,1437.5L595,1580.5"/>
<path class="l" d="M576.2,1437.5C577.6,1438 581.7,1440.5 584.4,1440.5C587.1,1440.5 591.1,1438 592.5,1437.5"/>
<path class="l" d="M608.8,1416.2C610.2,1416.8 614.6,1419.2 617.5,1419.2C620.4,1419.2 624.8,1416.8 626.2,1416.2"/>
<path class="l" d="M603.1,1392L604.6,1409.5" style="stroke-width:4"/>
<path class="l" d="M595.5,1392.5L595.5,1700" style="stroke-width:5"/>
<path class="l" d="M802.5,1453C801.9,1454.4 801.3,1458.7 799,1461.5C796.8,1464.3 793.3,1467.1 788.8,1469.8C784.3,1472.4 778.6,1475 772,1477.5C765.4,1480 757.7,1482.3 749.3,1484.5C740.8,1486.7 731.3,1488.7 721.2,1490.5C711.1,1492.4 700.2,1494 688.8,1495.4C677.3,1496.9 665.2,1498.1 652.8,1499C640.4,1500 627.5,1500.8 614.5,1501.3C601.5,1501.7 588.2,1502 575,1502C561.8,1502 548.5,1501.7 535.5,1501.3C522.5,1500.8 509.6,1500 497.2,1499C484.8,1498.1 472.7,1496.9 461.3,1495.4C449.8,1494 438.9,1492.4 428.8,1490.5C418.7,1488.7 409.2,1486.7 400.7,1484.5C392.3,1482.3 384.6,1480 378,1477.5C371.4,1475 365.7,1472.4 361.2,1469.8C356.7,1467.1 353.2,1464.3 351,1461.5C348.7,1458.7 348.1,1454.4 347.5,1453" style="stroke-width:1.6"/>
<path class="k" d="M803.5,1449L802.2,1454L798.5,1458.9L792.3,1463.7L783.7,1468.3L772.9,1472.8L759.9,1476.9L744.8,1480.8L727.9,1484.3L709.3,1487.4L689.2,1490.1L667.9,1492.4L645.6,1494.2L622.5,1495.5L598.9,1496.2L575,1496.5L551.1,1496.2L527.5,1495.5L504.4,1494.2L482.1,1492.4L460.8,1490.1L440.7,1487.4L422.1,1484.3L405.2,1480.8L390.1,1476.9L377.1,1472.8L366.3,1468.3L357.7,1463.7L351.5,1458.9L347.8,1454L346.5,1449L353.5,1449L354.7,1453.4L358.3,1457.8L364.3,1462.1L372.6,1466.3L383.2,1470.2L395.8,1474L410.4,1477.4L426.8,1480.6L444.8,1483.4L464.3,1485.8L484.9,1487.8L506.6,1489.4L528.9,1490.6L551.8,1491.3L575,1491.5L598.2,1491.3L621.1,1490.6L643.4,1489.4L665.1,1487.8L685.8,1485.8L705.2,1483.4L723.2,1480.6L739.6,1477.4L754.2,1474L766.8,1470.2L777.4,1466.3L785.7,1462.1L791.7,1457.8L795.3,1453.4L796.5,1449Z"/>
<path class="n" d="M796,1449L794.8,1453.4L791.2,1457.7L785.2,1462L776.9,1466.1L766.4,1470L753.8,1473.7L739.2,1477.1L722.9,1480.2L704.9,1483L685.5,1485.4L664.9,1487.4L643.3,1488.9L620.9,1490.1L598.1,1490.8L575,1491L551.9,1490.8L529.1,1490.1L506.7,1488.9L485.1,1487.4L464.5,1485.4L445.1,1483L427.1,1480.2L410.8,1477.1L396.2,1473.7L383.6,1470L373.1,1466.1L364.8,1462L358.8,1457.7L355.2,1453.4L354,1449L367.5,1447L368.6,1451L372,1454.9L377.7,1458.7L385.4,1462.5L395.3,1466L407.1,1469.3L420.8,1472.4L436.2,1475.2L453,1477.7L471.3,1479.9L490.6,1481.7L510.9,1483.1L531.9,1484.2L553.3,1484.8L575,1485L596.7,1484.8L618.1,1484.2L639.1,1483.1L659.4,1481.7L678.8,1479.9L697,1477.7L713.8,1475.2L729.2,1472.4L742.9,1469.3L754.7,1466L764.6,1462.5L772.3,1458.7L778,1454.9L781.4,1451L782.5,1447Z"/>
<path class="l" d="M782.5,1447C782,1448.1 781.4,1451.4 779.3,1453.6C777.3,1455.8 774.1,1457.9 770,1460C765.9,1462.1 760.7,1464.1 754.7,1466C748.7,1467.9 741.7,1469.7 734,1471.4C726.2,1473.1 717.6,1474.7 708.4,1476.1C699.2,1477.5 689.2,1478.8 678.8,1479.9C668.3,1481 657.3,1482 646,1482.7C634.7,1483.5 622.9,1484 611,1484.4C599.2,1484.8 587,1485 575,1485C563,1485 550.8,1484.8 539,1484.4C527.1,1484 515.3,1483.5 504,1482.7C492.7,1482 481.7,1481 471.3,1479.9C460.8,1478.8 450.8,1477.5 441.6,1476.1C432.4,1474.7 423.8,1473.1 416,1471.4C408.3,1469.7 401.3,1467.9 395.3,1466C389.3,1464.1 384.1,1462.1 380,1460C375.9,1457.9 372.7,1455.8 370.7,1453.6C368.6,1451.4 368,1448.1 367.5,1447"/>
<path class="l" d="M433,1580C433,1589.6 432.5,1624.2 433,1637.5C433.5,1650.8 434.2,1653.3 436.2,1660C438.3,1666.7 444,1674.6 445.5,1677.5"/>
<path class="l" d="M445.5,1580C445.5,1589.6 445,1625 445.5,1637.5C446,1650 447.2,1650.4 448.8,1655C450.3,1659.6 454,1663.3 455,1665"/>
<path class="l" d="M433.5,1638C434.5,1638.4 437.5,1640.5 439.5,1640.5C441.5,1640.5 444.5,1638.4 445.5,1638"/>
<path class="l" d="M487.5,1655C488.3,1655.4 490.8,1657.5 492.5,1657.5C494.2,1657.5 496.7,1655.4 497.5,1655"/>
<path class="l" d="M540,1652.5C541,1650.8 544.6,1646.2 546.2,1642.5C547.9,1638.8 549.4,1632.1 550,1630"/>
<path class="l" d="M540,1675C541.7,1673.3 547.5,1669.2 550,1665C552.5,1660.8 554.2,1652.5 555,1650"/>
<path class="l" d="M600,1630C600.4,1633.3 601.2,1644.6 602.5,1650C603.8,1655.4 606.7,1660.4 607.5,1662.5"/>
<path class="n" d="M402,1580L402,1652.5C402.5,1656.2 402.4,1668.5 405,1675C407.6,1681.5 410.8,1686.5 417.5,1691.2C424.2,1696 440.8,1701.7 445.5,1703.8L445.5,1683C443.8,1682.3 438.2,1681.3 435,1678.8C431.8,1676.2 428.4,1671.9 426.2,1667.5C424.1,1663.1 422.7,1655 422,1652.5L422,1580Z"/>
<path class="l" d="M402,1580L402,1652.5C402.5,1656.2 402.4,1668.5 405,1675C407.6,1681.5 410.8,1686.5 417.5,1691.2C424.2,1696 440.8,1701.7 445.5,1703.8L445.5,1683C443.8,1682.3 438.2,1681.3 435,1678.8C431.8,1676.2 428.4,1671.9 426.2,1667.5C424.1,1663.1 422.7,1655 422,1652.5L422,1580"/>
<path class="l" d="M402.5,1651.2C404.1,1651.8 408.8,1654.2 412,1654.2C415.2,1654.2 419.9,1651.8 421.5,1651.2"/>
<path class="n" d="M650,1580L650,1662.5C650.8,1666.7 652.1,1680.8 655,1687.5C657.9,1694.2 662.9,1699.4 667.5,1702.5C672.1,1705.6 680,1705.6 682.5,1706.2L682.5,1687.5C681.2,1686.2 677,1683.8 675,1680C673,1676.2 671.2,1667.5 670.5,1665L670,1580Z"/>
<path class="l" d="M650,1580L650,1662.5C650.8,1666.7 652.1,1680.8 655,1687.5C657.9,1694.2 662.9,1699.4 667.5,1702.5C672.1,1705.6 680,1705.6 682.5,1706.2L682.5,1687.5C681.2,1686.2 677,1683.8 675,1680C673,1676.2 671.2,1667.5 670.5,1665L670,1580"/>
<path class="l" d="M650.5,1662C652.1,1662.5 656.8,1665 660,1665C663.2,1665 667.9,1662.5 669.5,1662"/>
<path class="l" d="M692.5,1680C694.6,1677.9 701.7,1672.9 705,1667.5C708.3,1662.1 711.2,1662.1 712.5,1647.5C713.8,1632.9 712.5,1591.2 712.5,1580"/>
<path class="l" d="M695.5,1690C698.8,1687.5 709.2,1682.1 715,1675C720.8,1667.9 727.5,1663.3 730,1647.5C732.5,1631.7 730,1591.2 730,1580"/>
<path class="l" d="M692.5,1633.8C693.8,1634 697.6,1635.5 700,1635.5C702.4,1635.5 705.8,1634 707,1633.8"/>
<path class="l" d="M713.8,1647C715.1,1647.3 719.4,1649.1 722,1649C724.6,1648.9 728.2,1646.9 729.5,1646.5"/>
<path class="n" d="M756.2,1580L756.2,1660C755.6,1664.2 756,1677.1 752.5,1685C749,1692.9 742.9,1701.9 735,1707.5C727.1,1713.1 713.8,1719.2 705,1718.8C696.2,1718.3 688.1,1712.3 682.5,1705C676.9,1697.7 673.3,1682.1 671.2,1675C669.2,1667.9 670.2,1664.6 670,1662.5L670,1580L691.2,1580L691.2,1632.5C691.3,1639.6 691,1665.4 691.8,1675C692.5,1684.6 693.3,1686 695.5,1690C697.7,1694 701.3,1698.1 705,1698.8C708.7,1699.4 713.3,1696.9 717.5,1693.8C721.7,1690.6 727.1,1685.6 730,1680C732.9,1674.4 734.2,1663.3 735,1660L735,1580Z"/>
<path class="l" d="M756.2,1580L756.2,1660C755.6,1664.2 756,1677.1 752.5,1685C749,1692.9 742.9,1701.9 735,1707.5C727.1,1713.1 713.8,1719.2 705,1718.8C696.2,1718.3 688.1,1712.3 682.5,1705C676.9,1697.7 673.3,1682.1 671.2,1675C669.2,1667.9 670.2,1664.6 670,1662.5L670,1580"/>
<path class="l" d="M691.2,1580L691.2,1632.5C691.3,1639.6 691,1665.4 691.8,1675C692.5,1684.6 693.3,1686 695.5,1690C697.7,1694 701.3,1698.1 705,1698.8C708.7,1699.4 713.3,1696.9 717.5,1693.8C721.7,1690.6 727.1,1685.6 730,1680C732.9,1674.4 734.2,1663.3 735,1660L735,1580"/>
<path class="l" d="M735.5,1659.5C737.2,1660 742.1,1662.5 745.5,1662.5C748.9,1662.5 754,1660 755.8,1659.5"/>
<path class="l" d="M670.8,1674.5C672.5,1675 677.8,1677.5 681.2,1677.5C684.7,1677.5 689.8,1675 691.5,1674.5"/>
<path class="l" d="M670,1580L670,1662.5" style="stroke-width:4.6"/>
<path class="l" d="M705,1698.8C707.5,1696.9 715.8,1692.7 720,1687.5C724.2,1682.3 728.3,1670.8 730,1667.5"/>
<path class="n" d="M445.5,1580L445.5,1669.5C445.5,1671.2 445.4,1676.5 445.5,1680C445.6,1683.5 445.6,1686.9 445.9,1690.2C446.2,1693.6 446.6,1696.9 447.1,1700.1C447.6,1703.2 448.3,1706.3 449,1709.2C449.8,1712 450.7,1714.7 451.7,1717.1C452.6,1719.5 453.7,1721.8 454.8,1723.7C456,1725.5 457.2,1727.2 458.5,1728.5C459.7,1729.8 461.1,1730.8 462.4,1731.5C463.7,1732.2 465.1,1732.5 466.5,1732.5C467.9,1732.5 469.3,1732.2 470.6,1731.5C471.9,1730.8 473.3,1729.8 474.5,1728.5C475.8,1727.2 477,1725.5 478.2,1723.7C479.3,1721.8 480.4,1719.5 481.3,1717.1C482.3,1714.7 483.2,1712 484,1709.2C484.7,1706.3 485.4,1703.2 485.9,1700.1C486.4,1696.9 486.8,1693.6 487.1,1690.2C487.4,1686.9 487.4,1684.6 487.5,1680C487.6,1675.4 487.5,1665.4 487.5,1662.5L487.5,1580Z"/>
<path class="l" d="M445.5,1580L445.5,1669.5C445.5,1671.2 445.4,1676.5 445.5,1680C445.6,1683.5 445.6,1686.9 445.9,1690.2C446.2,1693.6 446.6,1696.9 447.1,1700.1C447.6,1703.2 448.3,1706.3 449,1709.2C449.8,1712 450.7,1714.7 451.7,1717.1C452.6,1719.5 453.7,1721.8 454.8,1723.7C456,1725.5 457.2,1727.2 458.5,1728.5C459.7,1729.8 461.1,1730.8 462.4,1731.5C463.7,1732.2 465.1,1732.5 466.5,1732.5C467.9,1732.5 469.3,1732.2 470.6,1731.5C471.9,1730.8 473.3,1729.8 474.5,1728.5C475.8,1727.2 477,1725.5 478.2,1723.7C479.3,1721.8 480.4,1719.5 481.3,1717.1C482.3,1714.7 483.2,1712 484,1709.2C484.7,1706.3 485.4,1703.2 485.9,1700.1C486.4,1696.9 486.8,1693.6 487.1,1690.2C487.4,1686.9 487.4,1684.6 487.5,1680C487.6,1675.4 487.5,1665.4 487.5,1662.5L487.5,1580"/>
<path class="l" d="M466.2,1580C466.2,1598.5 466.5,1669.6 466.2,1691.2C466,1712.9 465.8,1705.7 465,1710C464.2,1714.3 461.9,1715.8 461.2,1717"/>
<path class="l" d="M445.5,1669.5C447,1669.9 451.7,1672.1 454.6,1672C457.6,1671.9 461.8,1669.3 463.2,1668.8"/>
<path class="l" d="M467,1691.2C468.6,1691.7 473.6,1694 476.9,1693.8C480.2,1693.5 485.1,1690.4 486.8,1689.8"/>
<path class="n" d="M500,1580L500,1671.2C500,1672.7 499.9,1676.8 500,1680C500.1,1683.2 500.1,1687.1 500.4,1690.5C500.6,1693.9 501,1697.3 501.5,1700.6C502,1703.8 502.6,1707 503.4,1709.9C504.1,1712.8 504.9,1715.5 505.9,1718C506.8,1720.5 507.8,1722.7 508.9,1724.7C510,1726.6 511.1,1728.3 512.3,1729.7C513.5,1731 514.8,1732 516.1,1732.7C517.4,1733.4 518.7,1733.8 520,1733.8C521.3,1733.8 522.6,1733.4 523.9,1732.7C525.2,1732 526.5,1731 527.7,1729.7C528.9,1728.3 530,1726.6 531.1,1724.7C532.2,1722.7 533.2,1720.5 534.1,1718C535.1,1715.5 535.9,1712.8 536.6,1709.9C537.4,1707 538,1703.8 538.5,1700.6C539,1697.3 539.4,1693.9 539.6,1690.5C539.9,1687.1 539.9,1684.7 540,1680C540.1,1675.3 540,1665.4 540,1662.5L540,1580Z"/>
<path class="l" d="M500,1580L500,1671.2C500,1672.7 499.9,1676.8 500,1680C500.1,1683.2 500.1,1687.1 500.4,1690.5C500.6,1693.9 501,1697.3 501.5,1700.6C502,1703.8 502.6,1707 503.4,1709.9C504.1,1712.8 504.9,1715.5 505.9,1718C506.8,1720.5 507.8,1722.7 508.9,1724.7C510,1726.6 511.1,1728.3 512.3,1729.7C513.5,1731 514.8,1732 516.1,1732.7C517.4,1733.4 518.7,1733.8 520,1733.8C521.3,1733.8 522.6,1733.4 523.9,1732.7C525.2,1732 526.5,1731 527.7,1729.7C528.9,1728.3 530,1726.6 531.1,1724.7C532.2,1722.7 533.2,1720.5 534.1,1718C535.1,1715.5 535.9,1712.8 536.6,1709.9C537.4,1707 538,1703.8 538.5,1700.6C539,1697.3 539.4,1693.9 539.6,1690.5C539.9,1687.1 539.9,1684.7 540,1680C540.1,1675.3 540,1665.4 540,1662.5L540,1580"/>
<path class="l" d="M520,1580C520,1598.8 520.2,1670.8 520,1692.5C519.8,1714.2 519.6,1705.9 518.8,1710C517.9,1714.1 515.6,1715.8 515,1717"/>
<path class="l" d="M500,1671.2C501.5,1671.7 505.9,1673.9 508.8,1673.8C511.6,1673.6 515.6,1671 517,1670.5"/>
<path class="l" d="M520.8,1692.5C522.3,1692.9 526.9,1695.2 530,1695C533.1,1694.8 537.7,1691.7 539.2,1691"/>
<path class="n" d="M553.8,1580L553.8,1672.5C553.8,1673.8 553.7,1677 553.8,1680C553.8,1683 553.9,1687.2 554.1,1690.7C554.4,1694.2 554.8,1697.7 555.3,1701C555.8,1704.4 556.5,1707.6 557.2,1710.6C558,1713.5 558.8,1716.4 559.8,1718.9C560.7,1721.4 561.8,1723.7 562.9,1725.7C564,1727.7 565.2,1729.4 566.5,1730.8C567.7,1732.2 569,1733.2 570.4,1733.9C571.7,1734.6 573,1735 574.4,1735C575.7,1735 577.1,1734.6 578.4,1733.9C579.7,1733.2 581,1732.2 582.3,1730.8C583.5,1729.4 584.7,1727.7 585.8,1725.7C586.9,1723.7 588,1721.4 589,1718.9C589.9,1716.4 590.8,1713.5 591.5,1710.6C592.3,1707.6 592.9,1704.4 593.4,1701C593.9,1697.7 594.3,1694.2 594.6,1690.7C594.9,1687.2 594.9,1684.7 595,1680C595.1,1675.3 595,1665.4 595,1662.5L595,1580Z"/>
<path class="l" d="M553.8,1580L553.8,1672.5C553.8,1673.8 553.7,1677 553.8,1680C553.8,1683 553.9,1687.2 554.1,1690.7C554.4,1694.2 554.8,1697.7 555.3,1701C555.8,1704.4 556.5,1707.6 557.2,1710.6C558,1713.5 558.8,1716.4 559.8,1718.9C560.7,1721.4 561.8,1723.7 562.9,1725.7C564,1727.7 565.2,1729.4 566.5,1730.8C567.7,1732.2 569,1733.2 570.4,1733.9C571.7,1734.6 573,1735 574.4,1735C575.7,1735 577.1,1734.6 578.4,1733.9C579.7,1733.2 581,1732.2 582.3,1730.8C583.5,1729.4 584.7,1727.7 585.8,1725.7C586.9,1723.7 588,1721.4 589,1718.9C589.9,1716.4 590.8,1713.5 591.5,1710.6C592.3,1707.6 592.9,1704.4 593.4,1701C593.9,1697.7 594.3,1694.2 594.6,1690.7C594.9,1687.2 594.9,1684.7 595,1680C595.1,1675.3 595,1665.4 595,1662.5L595,1580"/>
<path class="l" d="M573.8,1580C573.8,1599 574,1672.1 573.8,1693.8C573.5,1715.4 573.3,1706.1 572.5,1710C571.7,1713.9 569.4,1715.8 568.8,1717"/>
<path class="l" d="M553.8,1672.5C555.2,1672.9 559.7,1675.1 562.5,1675C565.3,1674.9 569.4,1672.3 570.8,1671.8"/>
<path class="l" d="M574.5,1693.8C576.1,1694.2 581.1,1696.5 584.4,1696.2C587.7,1696 592.6,1692.9 594.2,1692.2"/>
<path class="n" d="M607.5,1580L607.5,1673.8C607.5,1674.8 607.4,1677.1 607.5,1680C607.6,1682.9 607.6,1687.5 607.9,1691.1C608.2,1694.8 608.6,1698.4 609.1,1701.8C609.6,1705.2 610.3,1708.6 611,1711.7C611.8,1714.7 612.7,1717.7 613.7,1720.3C614.6,1722.9 615.7,1725.3 616.8,1727.4C618,1729.5 619.2,1731.2 620.5,1732.7C621.7,1734.1 623.1,1735.2 624.4,1735.9C625.7,1736.6 627.1,1737 628.5,1737C629.9,1737 631.3,1736.6 632.6,1735.9C633.9,1735.2 635.3,1734.1 636.5,1732.7C637.8,1731.2 639,1729.5 640.2,1727.4C641.3,1725.3 642.4,1722.9 643.3,1720.3C644.3,1717.7 645.2,1714.7 646,1711.7C646.7,1708.6 647.4,1705.2 647.9,1701.8C648.4,1698.4 648.8,1694.8 649.1,1691.1C649.4,1687.5 649.4,1684.8 649.5,1680C649.6,1675.2 649.5,1665.4 649.5,1662.5L649.5,1580Z"/>
<path class="l" d="M607.5,1580L607.5,1673.8C607.5,1674.8 607.4,1677.1 607.5,1680C607.6,1682.9 607.6,1687.5 607.9,1691.1C608.2,1694.8 608.6,1698.4 609.1,1701.8C609.6,1705.2 610.3,1708.6 611,1711.7C611.8,1714.7 612.7,1717.7 613.7,1720.3C614.6,1722.9 615.7,1725.3 616.8,1727.4C618,1729.5 619.2,1731.2 620.5,1732.7C621.7,1734.1 623.1,1735.2 624.4,1735.9C625.7,1736.6 627.1,1737 628.5,1737C629.9,1737 631.3,1736.6 632.6,1735.9C633.9,1735.2 635.3,1734.1 636.5,1732.7C637.8,1731.2 639,1729.5 640.2,1727.4C641.3,1725.3 642.4,1722.9 643.3,1720.3C644.3,1717.7 645.2,1714.7 646,1711.7C646.7,1708.6 647.4,1705.2 647.9,1701.8C648.4,1698.4 648.8,1694.8 649.1,1691.1C649.4,1687.5 649.4,1684.8 649.5,1680C649.6,1675.2 649.5,1665.4 649.5,1662.5L649.5,1580"/>
<path class="l" d="M628.8,1580C628.8,1599.2 629,1673.8 628.8,1695.5C628.5,1717.2 628.3,1706.4 627.5,1710C626.7,1713.6 624.4,1715.8 623.8,1717"/>
<path class="l" d="M607.5,1673.8C609.1,1674.2 613.8,1676.4 616.9,1676.2C619.9,1676.1 624.3,1673.5 625.8,1673"/>
<path class="l" d="M629.5,1695.5C631.1,1695.9 635.9,1698.2 639.1,1698C642.3,1697.8 647.1,1694.7 648.8,1694"/>
<path class="l" d="M595.5,1580L595.5,1630" style="stroke-width:5"/>
<!--RING7 back-->
<path class="l" d="M338,1248.6C338.6,1246.9 339.2,1241.7 341.6,1238.3C343.9,1234.9 347.5,1231.5 352.2,1228.2C356.8,1225 362.7,1221.8 369.5,1218.8C376.3,1215.9 384.2,1213 393,1210.4C401.7,1207.7 411.5,1205.2 421.9,1203C432.4,1200.8 443.7,1198.8 455.5,1197.1C467.3,1195.3 479.8,1193.9 492.6,1192.7C505.4,1191.5 518.8,1190.6 532.2,1190C545.6,1189.4 559.4,1189.1 573,1189.1C586.6,1189.1 600.4,1189.4 613.8,1190C627.2,1190.6 640.6,1191.5 653.4,1192.7C666.2,1193.9 678.7,1195.3 690.5,1197.1C702.3,1198.8 713.6,1200.8 724.1,1203C734.5,1205.2 744.3,1207.7 753,1210.4C761.8,1213 769.7,1215.9 776.5,1218.8C783.3,1221.8 789.2,1225 793.8,1228.2C798.5,1231.5 802.1,1234.9 804.4,1238.3C806.8,1241.7 807.4,1246.9 808,1248.6" style="stroke-width:3.6"/>
<path class="l" d="M354,1248.6C354.6,1247 355.1,1242.2 357.3,1239C359.5,1235.9 362.9,1232.8 367.2,1229.8C371.5,1226.8 377,1223.9 383.3,1221.1C389.7,1218.3 397.1,1215.7 405.2,1213.2C413.4,1210.8 422.5,1208.5 432.2,1206.5C441.9,1204.4 452.5,1202.6 463.5,1201C474.5,1199.4 486.2,1198 498.1,1196.9C510,1195.8 522.5,1195 535,1194.4C547.5,1193.9 560.3,1193.6 573,1193.6C585.7,1193.6 598.5,1193.9 611,1194.4C623.5,1195 636,1195.8 647.9,1196.9C659.8,1198 671.5,1199.4 682.5,1201C693.5,1202.6 704.1,1204.4 713.8,1206.5C723.5,1208.5 732.6,1210.8 740.8,1213.2C748.9,1215.7 756.3,1218.3 762.7,1221.1C769,1223.9 774.5,1226.8 778.8,1229.8C783.1,1232.8 786.5,1235.9 788.7,1239C790.9,1242.2 791.4,1247 792,1248.6" style="stroke-width:5.5"/>
<path class="l" d="M350.8,1245.2C352,1243.6 354.3,1238.6 357.6,1235.5C360.9,1232.3 365.4,1229.2 370.9,1226.2C376.3,1223.3 382.9,1220.4 390.3,1217.7C397.7,1215 406.2,1212.5 415.3,1210.1C424.4,1207.8 434.5,1205.7 445.1,1203.8C455.7,1201.9 467.1,1200.3 478.8,1198.9C490.5,1197.5 502.8,1196.4 515.3,1195.5C527.8,1194.7 540.7,1194.1 553.6,1193.8C566.4,1193.5 579.6,1193.5 592.4,1193.8C605.3,1194.1 618.2,1194.7 630.7,1195.5C643.2,1196.4 655.5,1197.5 667.2,1198.9C678.9,1200.3 690.3,1201.9 700.9,1203.8C711.5,1205.7 721.6,1207.8 730.7,1210.1C739.8,1212.5 748.3,1215 755.7,1217.7C763.1,1220.4 769.7,1223.3 775.1,1226.2C780.6,1229.2 785.1,1232.3 788.4,1235.5C791.7,1238.6 794,1243.6 795.2,1245.2" style="stroke-width:1.4"/>
<path class="l" d="M356,1248.6C356.3,1247.5 356.5,1244.2 357.6,1242C358.7,1239.8 360.3,1237.6 362.5,1235.4C364.6,1233.3 367.3,1231.1 370.5,1229.1C373.7,1227 377.4,1225 381.5,1223C385.7,1221.1 390.3,1219.2 395.4,1217.3C400.5,1215.5 409.2,1213 412,1212.1" style="stroke-width:7.5"/>
<path class="l" d="M734,1212.1C736.8,1213 745.5,1215.5 750.6,1217.3C755.7,1219.2 760.3,1221.1 764.5,1223C768.6,1225 772.3,1227 775.5,1229.1C778.7,1231.1 781.4,1233.3 783.5,1235.4C785.7,1237.6 787.3,1239.8 788.4,1242C789.5,1244.2 789.7,1247.5 790,1248.6" style="stroke-width:7.5"/>
<path class="l" d="M371.4,1264.1C374.5,1262.7 382.8,1258.1 390,1255.4C397.1,1252.7 405.4,1250 414.4,1247.7C423.5,1245.3 433.5,1243.1 444,1241.1C454.6,1239.2 466,1237.5 477.8,1236.1C489.6,1234.6 502,1233.5 514.6,1232.6C527.2,1231.7 540.3,1231.1 553.3,1230.8C566.3,1230.5 579.7,1230.5 592.7,1230.8C605.7,1231.1 618.8,1231.7 631.4,1232.6C644,1233.5 656.4,1234.6 668.2,1236.1C680,1237.5 691.4,1239.2 702,1241.1C712.5,1243.1 722.5,1245.3 731.6,1247.7C740.6,1250 748.9,1252.7 756,1255.4C763.2,1258.1 771.5,1262.7 774.6,1264.1" style="stroke-width:3.8"/>
<path class="l" d="M376.2,1266.5C379.7,1265 389.3,1260.5 397.3,1257.8C405.4,1255 414.6,1252.5 424.6,1250.2C434.5,1247.9 445.5,1245.8 456.9,1244C468.4,1242.2 480.7,1240.6 493.3,1239.4C505.9,1238.1 519.2,1237.2 532.5,1236.6C545.7,1235.9 559.5,1235.6 573,1235.6C586.5,1235.6 600.3,1235.9 613.5,1236.6C626.8,1237.2 640.1,1238.1 652.7,1239.4C665.3,1240.6 677.6,1242.2 689.1,1244C700.5,1245.8 711.5,1247.9 721.4,1250.2C731.4,1252.5 740.6,1255 748.7,1257.8C756.7,1260.5 766.3,1265 769.8,1266.5"/>
<!--FLANGES 5 + tubes upper-->
<path class="n" d="M561.8,922.5L581.2,922.5L581.2,1305L561.8,1305Z"/>
<path class="l" d="M561.8,922.5L561.8,1305"/>
<path class="l" d="M581.2,922.5L581.2,1305"/>
<path class="l" d="M585,922.5L585,1140"/>
<path class="n" d="M588.8,902.5L607.5,902.5L607.5,1138L588.8,1138Z"/>
<path class="l" d="M588.8,902.5L588.8,1138"/>
<path class="l" d="M607.5,902.5L607.5,1138"/>
<path class="l" d="M588.8,1136C590.3,1136.5 595,1139 598.1,1139C601.2,1139 605.9,1136.5 607.5,1136"/>
<path class="w" d="M588.8,1138.8L607,1138.8L606.2,1150L600,1167.5L600,1176.2L583.8,1176.2L583.8,1155L588.8,1143.8Z"/>
<path class="l" d="M588.8,1140C590.2,1140.4 594.5,1142.6 597.5,1142.5C600.5,1142.4 605.4,1140 607,1139.5"/>
<path class="l" d="M585,1155L600,1165"/>
<path class="l" d="M587,1151.2L602.5,1160.5"/>
<path class="n" d="M583.8,1176.2L600,1176.2L600,1230L583.8,1230Z"/>
<path class="l" d="M583.8,1176.2L583.8,1230"/>
<path class="l" d="M600,1176.2L600,1230"/>
<path class="l" d="M583.8,1176.2C585.1,1176.7 589.2,1178.8 591.9,1178.8C594.6,1178.8 598.6,1176.7 600,1176.2"/>
<path class="w" d="M510,927.5L570,926.2L615,916.2C617.1,915.6 625.2,914.6 627.5,912.5C629.8,910.4 629.2,906.3 629,903.8C628.8,901.2 628.6,898.7 626.2,897C623.9,895.3 616.9,894.3 615,893.8L510,912.5Z"/>
<path class="l" d="M510,926.2L580,913"/>
<path class="l" d="M615,896C616.2,896.1 620.7,895.9 622.5,896.5C624.3,897.1 625.6,898.4 626,899.5C626.4,900.6 625.8,902 625,903C624.2,904 622.9,904.8 621.2,905.5C619.6,906.2 616,906.8 615,907" style="stroke-width:3.6"/>
<path class="w" d="M473.8,903.8L472.5,893.8C473.1,893.1 474.2,890.8 476.2,890C478.3,889.2 483.5,889.2 485,889L500,886.5L535,880L555,877.5L605,875L612.5,875.5L615,880L613.8,898.8L510,922.5L485,915Z"/>
<path class="l" d="M510,900L606.2,882"/>
<path class="l" d="M606.2,882C607.3,881.7 611,880.3 612.5,880C614,879.7 614.6,880 615,880"/>
<path class="l" d="M500,886.5L500,891.2L510,900L510,922.5"/>
<path class="l" d="M606.2,882L606.2,900"/>
<path class="l" d="M472.5,898.8C473.8,899.4 476.2,901.4 480,902.5C483.8,903.6 492.5,905 495,905.5"/>
<path class="l" d="M510,921.2L615,901" style="stroke-width:6"/>
<path class="w" d="M588,852L608,852L608,877.5L588,877.5Z"/>
<path class="l" d="M588,877.5C589.7,878 594.7,880.5 598,880.5C601.3,880.5 606.3,878 608,877.5"/>
<path class="l" d="M588,868.2C589.7,868.8 594.7,871.2 598,871.2C601.3,871.2 606.3,868.8 608,868.2"/>
<path class="l" d="M588,873.2C589.7,873.8 594.7,876.2 598,876.2C601.3,876.2 606.3,873.8 608,873.2" style="stroke-width:1.6"/>
<path class="k" d="M585.5,840C586.4,837.9 587.2,837.5 590.5,837C593.8,836.5 602.2,836.5 605.5,837C608.8,837.5 609.6,837.9 610.5,840C611.4,842.1 611.4,847 611,849.5C610.6,852 610.2,853.8 608,855C605.8,856.2 601.3,856.5 598,856.5C594.7,856.5 590.2,856.2 588,855C585.8,853.8 585.4,852 585,849.5C584.6,847 584.6,842.1 585.5,840Z"/>
<path class="l" d="M589.5,845.5C590.9,845.8 595.2,847.5 598,847.5C600.8,847.5 605.1,845.8 606.5,845.5" style="stroke:#fff;stroke-width:2"/>
<path class="l" d="M589.5,851.5C590.9,851.8 595.2,853.5 598,853.5C600.8,853.5 605.1,851.8 606.5,851.5" style="stroke:#fff;stroke-width:2"/>
<path class="w" d="M593.8,828.2L602.2,828.2L602.2,839L593.8,839Z"/>
<ellipse class="k" cx="598" cy="828" rx="5" ry="3.5"/>
<path class="n" d="M535.5,842L551.2,842L551.2,886.2L535.5,886.2Z"/>
<path class="l" d="M535.5,842L535.5,886.2"/>
<path class="l" d="M551.2,842L551.2,886.2"/>
<ellipse class="k" cx="543.2" cy="843" rx="7.8" ry="3.5"/>
<path class="w" d="M561.2,860L582,860L582,880L561.2,880Z"/>
<ellipse class="w" cx="571.5" cy="859.5" rx="10.2" ry="3.5" style="stroke-width:4.6"/>
<path class="l" d="M561.2,880C563,880.5 568,883 571.5,883C575,883 580.2,880.5 582,880"/>
<path class="w" d="M478.8,858L498.8,858L498.8,898.8L478.8,898.8Z"/>
<path class="l" d="M478.8,898.8C480.4,899.2 485.4,901.8 488.8,901.8C492.1,901.8 497.1,899.2 498.8,898.8"/>
<path class="l" d="M478.8,874.2C480.4,874.8 485.4,877.2 488.8,877.2C492.1,877.2 497.1,874.8 498.8,874.2"/>
<path class="l" d="M478.8,879.2C480.4,879.8 485.4,882.2 488.8,882.2C492.1,882.2 497.1,879.8 498.8,879.2" style="stroke-width:1.6"/>
<path class="k" d="M476.2,846C477.2,843.9 477.9,843.5 481.2,843C484.6,842.5 492.9,842.5 496.2,843C499.6,843.5 500.3,843.9 501.2,846C502.2,848.1 502.2,853 501.8,855.5C501.3,858 500.9,859.8 498.8,861C496.6,862.2 492.1,862.5 488.8,862.5C485.4,862.5 480.9,862.2 478.8,861C476.6,859.8 476.2,858 475.8,855.5C475.3,853 475.3,848.1 476.2,846Z"/>
<path class="l" d="M480.2,851.5C481.7,851.8 485.9,853.5 488.8,853.5C491.6,853.5 495.8,851.8 497.2,851.5" style="stroke:#fff;stroke-width:2"/>
<path class="l" d="M480.2,857.5C481.7,857.8 485.9,859.5 488.8,859.5C491.6,859.5 495.8,857.8 497.2,857.5" style="stroke:#fff;stroke-width:2"/>
<path class="w" d="M484.5,834.2L493,834.2L493,845L484.5,845Z"/>
<ellipse class="k" cx="488.8" cy="834" rx="5" ry="3.5"/>
<path class="w" d="M427.5,941C425.4,941.3 417.3,941.3 415,943C412.7,944.7 413.8,948.1 413.8,951.2C413.8,954.4 412.3,959 415,962C417.7,965 427.5,968.2 430,969.5L542.5,986.2C547.1,986.2 562.8,988.1 570,986.2C577.2,984.4 582.7,978.6 585.5,975C588.3,971.4 587.9,967.5 587,964.5C586.1,961.5 581.2,958.2 580,957Z"/>
<path class="l" d="M417.5,947C418.5,947.8 421.2,950.7 423.8,952C426.2,953.3 431,954.5 432.5,955" style="stroke-width:5.5"/>
<path class="l" d="M432.5,955L542.5,971.5" style="stroke-width:5.5"/>
<path class="l" d="M542.5,971.5C546.7,971.6 560.8,973.5 567.5,972C574.2,970.5 580.4,964.1 583,962.5" style="stroke-width:5.5"/>
<path class="l" d="M416.2,958C417.3,958.8 420,961.8 422.5,963C425,964.2 429.8,964.7 431.2,965"/>
<path class="l" d="M431.2,965L542.5,980.5"/>
<path class="l" d="M542.5,980.5C546.7,980.4 560.6,981.8 567.5,980C574.4,978.2 581,971.7 583.8,970"/>
<path class="l" d="M432.5,956.2L432.5,970"/>
<path class="l" d="M542.5,972.5L542.5,986.2"/>
<path class="l" d="M437.5,972L540,987.5" style="stroke-width:6"/>
<path class="w" d="M428.8,947.5L427.5,927C427.9,926.2 427.9,922.8 430,922C432.1,921.2 438.3,922.4 440,922.5L555,938L573.8,940L572.5,960C571.2,960.8 570,964.2 565,965C560,965.8 546.2,965 542.5,965Z"/>
<path class="l" d="M428.8,932C429.6,932.2 431.9,932.8 433.8,933C435.6,933.2 439,933 440,933"/>
<path class="l" d="M440,933L542.5,948"/>
<path class="l" d="M542.5,948C546.2,947.9 559.8,948.8 565,947.5C570.2,946.2 572.3,941.7 573.8,940.5"/>
<path class="l" d="M440,933L440,949.5"/>
<path class="l" d="M543.8,948L543.8,965"/>
<path class="w" d="M461.2,906.2L482.5,906.2L482.5,929.5L461.2,929.5Z"/>
<ellipse class="w" cx="471.8" cy="905.8" rx="10.5" ry="3.5" style="stroke-width:4.6"/>
<path class="l" d="M461.2,929.5C463,930 468.2,932.5 471.8,932.5C475.3,932.5 480.7,930 482.5,929.5"/>
<path class="n" d="M493.8,891.2L508.8,891.2L508.8,934.5L493.8,934.5Z"/>
<path class="l" d="M493.8,891.2L493.8,934.5"/>
<path class="l" d="M508.8,891.2L508.8,934.5"/>
<ellipse class="k" cx="501.2" cy="892" rx="7.5" ry="4"/>
<path class="w" d="M434.2,888.8L454.2,888.8L454.2,926.2L434.2,926.2Z"/>
<path class="l" d="M434.2,926.2C435.9,926.8 440.9,929.2 444.2,929.2C447.6,929.2 452.6,926.8 454.2,926.2"/>
<path class="l" d="M434.2,905C435.9,905.5 440.9,908 444.2,908C447.6,908 452.6,905.5 454.2,905"/>
<path class="l" d="M434.2,910C435.9,910.5 440.9,913 444.2,913C447.6,913 452.6,910.5 454.2,910" style="stroke-width:1.6"/>
<path class="k" d="M431.8,876.8C432.7,874.7 433.4,874.2 436.8,873.8C440.1,873.2 448.4,873.2 451.8,873.8C455.1,874.2 455.8,874.7 456.8,876.8C457.7,878.8 457.7,883.8 457.2,886.2C456.8,888.8 456.4,890.6 454.2,891.8C452.1,892.9 447.6,893.2 444.2,893.2C440.9,893.2 436.4,892.9 434.2,891.8C432.1,890.6 431.7,888.8 431.2,886.2C430.8,883.8 430.8,878.8 431.8,876.8Z"/>
<path class="l" d="M435.8,882.2C437.2,882.6 441.4,884.2 444.2,884.2C447.1,884.2 451.3,882.6 452.8,882.2" style="stroke:#fff;stroke-width:2"/>
<path class="l" d="M435.8,888.2C437.2,888.6 441.4,890.2 444.2,890.2C447.1,890.2 451.3,888.6 452.8,888.2" style="stroke:#fff;stroke-width:2"/>
<path class="w" d="M440,865L448.5,865L448.5,875.8L440,875.8Z"/>
<ellipse class="k" cx="444.2" cy="864.8" rx="5" ry="3.5"/>
<path class="w" d="M548.8,905L568.8,905L568.8,942L548.8,942Z"/>
<path class="l" d="M548.8,942C550.4,942.5 555.4,945 558.8,945C562.1,945 567.1,942.5 568.8,942"/>
<path class="l" d="M548.8,921.2C550.4,921.8 555.4,924.2 558.8,924.2C562.1,924.2 567.1,921.8 568.8,921.2"/>
<path class="l" d="M548.8,926.2C550.4,926.8 555.4,929.2 558.8,929.2C562.1,929.2 567.1,926.8 568.8,926.2" style="stroke-width:1.6"/>
<path class="k" d="M546.2,893C547.2,890.9 547.9,890.5 551.2,890C554.6,889.5 562.9,889.5 566.2,890C569.6,890.5 570.3,890.9 571.2,893C572.2,895.1 572.2,900 571.8,902.5C571.3,905 570.9,906.8 568.8,908C566.6,909.2 562.1,909.5 558.8,909.5C555.4,909.5 550.9,909.2 548.8,908C546.6,906.8 546.2,905 545.8,902.5C545.3,900 545.3,895.1 546.2,893Z"/>
<path class="l" d="M550.2,898.5C551.7,898.8 555.9,900.5 558.8,900.5C561.6,900.5 565.8,898.8 567.2,898.5" style="stroke:#fff;stroke-width:2"/>
<path class="l" d="M550.2,904.5C551.7,904.8 555.9,906.5 558.8,906.5C561.6,906.5 565.8,904.8 567.2,904.5" style="stroke:#fff;stroke-width:2"/>
<path class="w" d="M554.5,881.2L563,881.2L563,892L554.5,892Z"/>
<ellipse class="k" cx="558.8" cy="881" rx="5" ry="3.5"/>
<path class="l" d="M657.5,823.8L661.2,837.5L670,842.5L702.5,841.2L707.5,832.5L710,816.2"/>
<path class="l" d="M683.8,817.5L683.8,845" style="stroke-width:9;stroke-linecap:butt"/>
<path class="w" d="M667.5,872.5L687.5,872.5L687.5,936.2L667.5,936.2Z"/>
<path class="l" d="M667.5,936.2C669.2,936.8 674.2,939.2 677.5,939.2C680.8,939.2 685.8,936.8 687.5,936.2"/>
<path class="l" d="M667.5,888.8C669.2,889.2 674.2,891.8 677.5,891.8C680.8,891.8 685.8,889.2 687.5,888.8"/>
<path class="l" d="M667.5,893.8C669.2,894.2 674.2,896.8 677.5,896.8C680.8,896.8 685.8,894.2 687.5,893.8" style="stroke-width:1.6"/>
<path class="k" d="M665,860.5C665.9,858.4 666.7,858 670,857.5C673.3,857 681.7,857 685,857.5C688.3,858 689.1,858.4 690,860.5C690.9,862.6 690.9,867.5 690.5,870C690.1,872.5 689.7,874.3 687.5,875.5C685.3,876.7 680.8,877 677.5,877C674.2,877 669.7,876.7 667.5,875.5C665.3,874.3 664.9,872.5 664.5,870C664.1,867.5 664.1,862.6 665,860.5Z"/>
<path class="l" d="M669,866C670.4,866.3 674.7,868 677.5,868C680.3,868 684.6,866.3 686,866" style="stroke:#fff;stroke-width:2"/>
<path class="l" d="M669,872C670.4,872.3 674.7,874 677.5,874C680.3,874 684.6,872.3 686,872" style="stroke:#fff;stroke-width:2"/>
<path class="w" d="M673.2,848.8L681.8,848.8L681.8,859.5L673.2,859.5Z"/>
<ellipse class="k" cx="677.5" cy="848.5" rx="5" ry="3.5"/>
<path class="w" d="M672.5,903L692.5,903L692.5,936.2L672.5,936.2Z"/>
<path class="l" d="M672.5,936.2C674.2,936.8 679.2,939.2 682.5,939.2C685.8,939.2 690.8,936.8 692.5,936.2"/>
<path class="l" d="M672.5,919.2C674.2,919.8 679.2,922.2 682.5,922.2C685.8,922.2 690.8,919.8 692.5,919.2"/>
<path class="l" d="M672.5,924.2C674.2,924.8 679.2,927.2 682.5,927.2C685.8,927.2 690.8,924.8 692.5,924.2" style="stroke-width:1.6"/>
<path class="k" d="M670,891C670.9,888.9 671.7,888.5 675,888C678.3,887.5 686.7,887.5 690,888C693.3,888.5 694.1,888.9 695,891C695.9,893.1 695.9,898 695.5,900.5C695.1,903 694.7,904.8 692.5,906C690.3,907.2 685.8,907.5 682.5,907.5C679.2,907.5 674.7,907.2 672.5,906C670.3,904.8 669.9,903 669.5,900.5C669.1,898 669.1,893.1 670,891Z"/>
<path class="l" d="M674,896.5C675.4,896.8 679.7,898.5 682.5,898.5C685.3,898.5 689.6,896.8 691,896.5" style="stroke:#fff;stroke-width:2"/>
<path class="l" d="M674,902.5C675.4,902.8 679.7,904.5 682.5,904.5C685.3,904.5 689.6,902.8 691,902.5" style="stroke:#fff;stroke-width:2"/>
<path class="w" d="M678.2,879.2L686.8,879.2L686.8,890L678.2,890Z"/>
<ellipse class="k" cx="682.5" cy="879" rx="5" ry="3.5"/>
<path class="n" d="M645,923.8L647.5,920.2L656.2,917.5L656.9,903.1L660,900L677.5,898.8L696.2,900L699,903.1L701.2,917.5L709.4,920.2L710.6,923.8L715,957.5L715,968.8L712.5,975L697.5,980L682.5,981.9L666.2,980L652.5,976.2L650,970Z"/>
<path class="l" d="M656.2,917.5C654.8,918 649.4,919.2 647.5,920.2C645.6,921.3 645.4,923.2 645,923.8" style="stroke-width:3.6"/>
<path class="l" d="M645,923.8L650,970" style="stroke-width:3.6"/>
<path class="l" d="M650,970C650.4,971 649.8,974.6 652.5,976.2C655.2,977.9 661.2,979.1 666.2,980C671.2,980.9 677.3,981.9 682.5,981.9C687.7,981.9 692.5,981.1 697.5,980C702.5,978.9 709.6,976.9 712.5,975C715.4,973.1 714.6,969.8 715,968.8" style="stroke-width:3.6"/>
<path class="l" d="M715,968.8L715,957.5L710.6,923.8" style="stroke-width:3.6"/>
<path class="l" d="M710.6,923.8C710.4,923.2 710.9,921.3 709.4,920.2C707.8,919.2 702.6,918 701.2,917.5" style="stroke-width:3.6"/>
<path class="l" d="M648.1,925L653.1,960"/>
<path class="l" d="M654.4,922.5L660.6,956.2" style="stroke-width:4.6"/>
<path class="l" d="M706.9,925L711.9,957.5"/>
<path class="l" d="M703.8,923.8L706,955" style="stroke-width:4.6"/>
<path class="k" d="M652.5,957.5C654.8,958 661.2,959.6 666.2,960.2C671.2,960.9 677.3,961.5 682.5,961.5C687.7,961.5 692.6,961 697.5,960.2C702.4,959.5 709.5,957.4 711.9,956.9L712.8,962.8C710.2,963.4 702.5,965.7 697.5,966.5C692.5,967.3 687.7,967.8 682.5,967.8C677.3,967.8 671.4,967.3 666.2,966.5C661.1,965.7 654.3,963.4 651.9,962.8Z"/>
<path class="w" d="M663.8,955L656.9,903.1C657.4,902.6 656.6,900.7 660,900C663.4,899.3 671.5,898.8 677.5,898.8C683.5,898.8 692.7,899.3 696.2,900C699.8,900.7 698.5,902.6 699,903.1L701.2,955C698.1,955.8 688.8,960 682.5,960C676.2,960 666.9,955.8 663.8,955Z"/>
<path class="l" d="M663.8,935C666.8,936 675.8,941 681.9,941C688,941 697.2,936 700.2,935"/>
<path class="n" d="M670,895L693.2,895L693.5,935L681.9,938.8L670.6,936.2Z"/>
<path class="l" d="M670,895L670.6,936.2"/>
<path class="l" d="M673.8,896.2L673.8,937.2"/>
<path class="l" d="M690,896.2L690,937.2"/>
<path class="l" d="M693.2,895L693.5,935"/>
<path class="l" d="M670.6,913.1C672.5,913.6 678.1,916.3 681.9,916.2C685.6,916.2 691.4,913.3 693.2,912.8"/>
<path class="l" d="M670.6,936C672.5,936.5 678.1,939.2 681.9,939C685.7,938.8 691.6,935.7 693.5,935"/>
<path class="l" d="M657,903.8C658.1,904.3 661.6,906.2 663.8,906.9C665.9,907.5 668.8,907.6 669.8,907.8"/>
<path class="l" d="M693.5,907.8C694.1,907.5 696,907.2 696.9,906.5C697.8,905.8 698.6,904.2 699,903.8"/>
<path class="n" d="M673,982L693,982L693,1197L673,1197Z"/>
<path class="l" d="M673,982L673,1197"/>
<path class="l" d="M693,982L693,1197"/>
<path class="l" d="M673,982L673,1197" style="stroke-width:5.5"/>
<path class="l" d="M666.2,987.5C665.8,989.6 664.2,995.4 663.8,1000C663.3,1004.6 663.8,1012.5 663.8,1015"/>
<path class="l" d="M663.8,1015L663.8,1305"/>
<path class="l" d="M670,983.8C669.9,986 669.2,993.5 669.2,997.5C669.2,1001.5 669.9,1005.8 670,1007.5"/>
<path class="l" d="M670,1007.5L670,1305"/>
<path class="l" d="M663.8,1012.5L670,1016.2"/>
<path class="l" d="M663.8,1028.8L670,1030"/>
<path class="k" d="M666.2,979C669,979.3 677.3,980.8 682.5,980.8C687.7,980.8 695,979.3 697.5,979L693.5,984C691.7,984.1 686.6,984.8 682.5,984.8C678.4,984.7 671.2,983.7 669,983.5Z"/>
<path class="n" d="M673.8,1197.5L690,1197.5L690,1277.5L673.8,1277.5Z"/>
<path class="l" d="M673.8,1197.5L673.8,1277.5"/>
<path class="l" d="M690,1197.5L690,1277.5"/>
<path class="l" d="M673.8,1197.5C675.1,1197.9 679.2,1200.1 681.9,1200.1C684.6,1200.1 688.6,1197.9 690,1197.5"/>
<path class="l" d="M673.8,1215C675.1,1215.6 679.3,1218.8 682,1218.8C684.7,1218.8 688.7,1215.6 690,1215" style="stroke-width:4.6"/>
<path class="l" d="M673.8,1223.8C675.1,1224.4 679.3,1227.5 682,1227.5C684.7,1227.5 688.7,1224.4 690,1223.8"/>
<path class="w" d="M667.5,1272.5L671.2,1270L671.2,1280L691.2,1280L691.2,1270L695,1273.8L695.5,1300L667.5,1300Z"/>
<path class="l" d="M671.2,1280C672.9,1280.5 677.9,1283 681.2,1283C684.6,1283 689.6,1280.5 691.2,1280"/>
<path class="n" d="M433,970L455,970L455,1187L433,1187Z"/>
<path class="l" d="M433,970L433,1187"/>
<path class="l" d="M455,970L455,1187"/>
<path class="l" d="M437,970L437,1187"/>
<path class="w" d="M433,1186.2L455,1186.2L455,1197.5L461.2,1215L461.2,1226.2L445.5,1226.2L445.5,1215L436.2,1200Z"/>
<path class="l" d="M436.2,1187.5C437.8,1188 442.4,1190.5 445.5,1190.5C448.6,1190.5 453.4,1188 455,1187.5"/>
<path class="l" d="M442.5,1210L457.5,1199.5"/>
<path class="l" d="M440.5,1206.2L455.5,1195.5"/>
<path class="n" d="M445.5,1223.8L461.2,1223.8L461.2,1275L445.5,1275Z"/>
<path class="l" d="M445.5,1223.8L445.5,1275"/>
<path class="l" d="M461.2,1223.8L461.2,1275"/>
<path class="l" d="M445.5,1223.8C446.8,1224.2 450.8,1226.3 453.4,1226.3C456,1226.3 459.9,1224.2 461.2,1223.8"/>
<path class="n" d="M462.5,976.2L482.5,976.2L482.5,1275L462.5,1275Z"/>
<path class="l" d="M462.5,976.2L462.5,1275"/>
<path class="l" d="M482.5,976.2L482.5,1275"/>
<path class="l" d="M460,976.2L460,1185"/>
<path class="l" d="M455,992.5C455.5,992.2 457.1,991.2 458.1,990.6C459.2,990 460.7,989.3 461.2,989"/>
<path class="l" d="M455,1015.6C455.5,1015.4 457.1,1014.9 458.1,1014.4C459.2,1013.9 460.7,1013 461.2,1012.8"/>
<path class="l" d="M482.5,998.8C483.5,997.5 487.1,994 488.8,991.2C490.4,988.5 491.9,984 492.5,982.5"/>
<path class="w" d="M434.4,1002.5C431.8,1004 423.4,1007.1 418.8,1011.2C414.1,1015.4 409.1,1021 406.2,1027.5C403.4,1034 402.6,1046.2 401.9,1050L401.9,1121.2L421.2,1121.2L421.2,1050C421.8,1047.7 422.2,1040.2 424.4,1036.2C426.6,1032.3 432.7,1027.9 434.4,1026.2Z"/>
<path class="n" d="M401.9,1120L421.2,1120L421.2,1122.5L401.9,1122.5Z"/>
<path class="l" d="M402.5,1050.6C404.1,1051.1 408.8,1053.5 411.9,1053.5C414.9,1053.5 419.3,1051.1 420.8,1050.6"/>
<path class="l" d="M429.4,1006.9C429.8,1007.2 431.1,1008.1 431.9,1008.8C432.6,1009.4 433.4,1010.3 433.8,1010.6"/>
<path class="n" d="M402,1080L422,1080L422,1305L402,1305Z"/>
<path class="l" d="M402,1080L402,1305"/>
<path class="l" d="M422,1080L422,1305"/>
<path class="w" d="M441.2,1272L463.8,1276.2L480,1275.5L500,1278.8L500,1301.2L441.2,1300Z"/>
<path class="l" d="M444.5,1277.5L444.5,1300"/>
<path class="l" d="M451.2,1277.5L451.2,1300"/>
<path class="l" d="M466.2,1277.5L466.2,1300"/>
<path class="l" d="M475,1277.5L475,1300"/>
<path class="l" d="M480,1277.5L480,1300"/>
<path class="l" d="M488.8,1277.5L488.8,1300"/>
<path class="l" d="M463.8,1276.2C465,1276.7 468.1,1278.9 471.2,1278.8C474.4,1278.6 480.6,1276 482.5,1275.5"/>
<path class="w" d="M548.8,988.8L548.8,1010C549.8,1014 550.6,1026.9 555,1033.8C559.4,1040.6 565.8,1045.6 575,1051.2C584.2,1056.9 602.1,1063.1 610,1067.5C617.9,1071.9 619.5,1073.8 622.5,1077.5C625.5,1081.2 627.1,1085.8 628.1,1090C629.2,1094.2 628.6,1100.4 628.8,1102.5L650.6,1102.5C650.5,1100 650.9,1092.7 650,1087.5C649.1,1082.3 647.7,1076.2 645,1071.2C642.3,1066.2 638.3,1061 633.8,1057.5C629.2,1054 626,1054 617.5,1050C609,1046 589.8,1037.9 582.5,1033.8C575.2,1029.6 576,1029 573.8,1025C571.5,1021 569.6,1012.5 568.8,1010L568.8,988.8Z"/>
<path class="n" d="M548.8,987.5L568.8,987.5L568.8,990L548.8,990Z"/>
<path class="l" d="M549.4,1009.4C550.9,1009.7 555.6,1011.5 558.8,1011.5C561.9,1011.5 566.9,1009.7 568.5,1009.4"/>
<path class="l" d="M575,1049C575.3,1047.7 575.8,1043.5 576.9,1041.2C578,1039 580.7,1036.6 581.5,1035.6"/>
<path class="l" d="M611.2,1065.2C611.6,1064 612,1059.7 613.1,1057.5C614.2,1055.3 617,1052.8 617.8,1051.9"/>
<path class="l" d="M629,1096.2C630.6,1096.6 635.2,1098.5 638.8,1098.5C642.2,1098.5 648.1,1096.6 650,1096.2"/>
<path class="n" d="M627.5,1095L648.8,1095L648.8,1305L627.5,1305Z"/>
<path class="l" d="M627.5,1095L627.5,1305"/>
<path class="l" d="M648.8,1095L648.8,1305"/>
<path class="l" d="M627.5,1093.8C629.3,1094.3 634.6,1097.2 638.1,1097.2C641.7,1097.2 647,1094.3 648.8,1093.8"/>
<path class="n" d="M628,1090L648.2,1090L648.2,1097.5L628,1097.5Z"/>
<path class="l" d="M627.5,1093.8C629.2,1094.4 634.5,1097.5 638,1097.5C641.5,1097.5 647,1094.4 648.8,1093.8"/>
<path class="w" d="M545,1233L560,1230L560,1225L580,1227.5L601.2,1223L602,1292.5L580,1297L565,1302.5L545,1299.5Z"/>
<path class="l" d="M551.2,1230L551.2,1298"/>
<path class="l" d="M558,1230L558,1298"/>
<path class="l" d="M566.2,1230L566.2,1298"/>
<path class="l" d="M572.5,1230L572.5,1298"/>
<path class="l" d="M580,1230L580,1298"/>
<path class="l" d="M560,1230C561.7,1230.2 566.7,1231.8 570,1231.5C573.3,1231.2 578.3,1228.6 580,1228"/>
<!--RING7 front + lugs + screw-->
<path class="n" d="M808,1248.6L807.1,1253.8L804.4,1258.9L800,1264L793.8,1269L786,1273.7L776.5,1278.3L765.5,1282.7L753,1286.8L739.2,1290.7L724.1,1294.2L707.8,1297.3L690.5,1300.1L672.3,1302.5L653.4,1304.5L633.8,1306.1L613.8,1307.2L593.5,1307.9L573,1308.1L552.5,1307.9L532.2,1307.2L512.2,1306.1L492.6,1304.5L473.7,1302.5L455.5,1300.1L438.2,1297.3L421.9,1294.2L406.8,1290.7L393,1286.8L380.5,1282.7L369.5,1278.3L360,1273.7L352.2,1269L346,1264L341.6,1258.9L338.9,1253.8L338,1248.6L338,1295.6L338.9,1300.8L341.6,1305.9L346,1311L352.2,1316L360,1320.7L369.5,1325.3L380.5,1329.7L393,1333.8L406.8,1337.7L421.9,1341.2L438.2,1344.3L455.5,1347.1L473.7,1349.5L492.6,1351.5L512.2,1353.1L532.2,1354.2L552.5,1354.9L573,1355.1L593.5,1354.9L613.8,1354.2L633.8,1353.1L653.4,1351.5L672.3,1349.5L690.5,1347.1L707.8,1344.3L724.1,1341.2L739.2,1337.7L753,1333.8L765.5,1329.7L776.5,1325.3L786,1320.7L793.8,1316L800,1311L804.4,1305.9L807.1,1300.8L808,1295.6Z"/>
<path class="l" d="M808,1295.6C807.4,1297.3 806.8,1302.5 804.4,1305.9C802.1,1309.3 798.5,1312.7 793.8,1316C789.2,1319.2 783.3,1322.4 776.5,1325.3C769.7,1328.3 761.8,1331.2 753,1333.8C744.3,1336.5 734.5,1339 724.1,1341.2C713.6,1343.4 702.3,1345.4 690.5,1347.1C678.7,1348.9 666.2,1350.3 653.4,1351.5C640.6,1352.7 627.2,1353.6 613.8,1354.2C600.4,1354.8 586.6,1355.1 573,1355.1C559.4,1355.1 545.6,1354.8 532.2,1354.2C518.8,1353.6 505.4,1352.7 492.6,1351.5C479.8,1350.3 467.3,1348.9 455.5,1347.1C443.7,1345.4 432.4,1343.4 421.9,1341.2C411.5,1339 401.7,1336.5 393,1333.8C384.2,1331.2 376.3,1328.3 369.5,1325.3C362.7,1322.4 356.8,1319.2 352.2,1316C347.5,1312.7 343.9,1309.3 341.6,1305.9C339.2,1302.5 338.6,1297.3 338,1295.6"/>
<path class="l" d="M808,1248.6C807.4,1250.3 806.8,1255.5 804.4,1258.9C802.1,1262.3 798.5,1265.7 793.8,1269C789.2,1272.2 783.3,1275.4 776.5,1278.3C769.7,1281.3 761.8,1284.2 753,1286.8C744.3,1289.5 734.5,1292 724.1,1294.2C713.6,1296.4 702.3,1298.4 690.5,1300.1C678.7,1301.9 666.2,1303.3 653.4,1304.5C640.6,1305.7 627.2,1306.6 613.8,1307.2C600.4,1307.8 586.6,1308.1 573,1308.1C559.4,1308.1 545.6,1307.8 532.2,1307.2C518.8,1306.6 505.4,1305.7 492.6,1304.5C479.8,1303.3 467.3,1301.9 455.5,1300.1C443.7,1298.4 432.4,1296.4 421.9,1294.2C411.5,1292 401.7,1289.5 393,1286.8C384.2,1284.2 376.3,1281.3 369.5,1278.3C362.7,1275.4 356.8,1272.2 352.2,1269C347.5,1265.7 343.9,1262.3 341.6,1258.9C339.2,1255.5 338.6,1250.3 338,1248.6" style="stroke-width:5"/>
<path class="l" d="M792,1248.6C791.4,1250.2 790.9,1255 788.7,1258.2C786.5,1261.3 783.1,1264.4 778.8,1267.4C774.5,1270.4 769,1273.3 762.7,1276.1C756.3,1278.9 748.9,1281.5 740.8,1284C732.6,1286.4 723.5,1288.7 713.8,1290.7C704.1,1292.8 693.5,1294.6 682.5,1296.2C671.5,1297.8 659.8,1299.2 647.9,1300.3C636,1301.4 623.5,1302.2 611,1302.8C598.5,1303.3 585.7,1303.6 573,1303.6C560.3,1303.6 547.5,1303.3 535,1302.8C522.5,1302.2 510,1301.4 498.1,1300.3C486.2,1299.2 474.5,1297.8 463.5,1296.2C452.5,1294.6 441.9,1292.8 432.2,1290.7C422.5,1288.7 413.4,1286.4 405.2,1284C397.1,1281.5 389.7,1278.9 383.3,1276.1C377,1273.3 371.5,1270.4 367.2,1267.4C362.9,1264.4 359.5,1261.3 357.3,1258.2C355.1,1255 354.6,1250.2 354,1248.6" style="stroke-width:2"/>
<path class="l" d="M791.2,1243.8C791.3,1244.5 791.9,1246.7 792,1248.1C792,1249.6 791.9,1251 791.5,1252.4C791.1,1253.9 790.4,1255.3 789.6,1256.7C788.7,1258.2 787.7,1259.6 786.4,1261C785.1,1262.4 783.6,1263.8 781.9,1265.1C780.1,1266.5 777,1268.5 776.1,1269.2" style="stroke-width:5"/>
<path class="l" d="M776.1,1269.2C775.3,1269.6 773.1,1271 771.5,1271.8C769.9,1272.7 768.2,1273.6 766.4,1274.4C764.6,1275.3 762.7,1276.1 760.7,1276.9C758.8,1277.7 756.7,1278.6 754.6,1279.4C752.4,1280.2 750.2,1280.9 747.9,1281.7C745.6,1282.5 742,1283.6 740.8,1284" style="stroke-width:3.4"/>
<path class="l" d="M369.9,1269.2C369,1268.5 365.9,1266.5 364.1,1265.1C362.4,1263.8 360.9,1262.4 359.6,1261C358.3,1259.6 357.3,1258.2 356.4,1256.7C355.6,1255.3 354.9,1253.9 354.5,1252.4C354.1,1251 354,1249.6 354,1248.1C354.1,1246.7 354.7,1244.5 354.8,1243.8" style="stroke-width:5"/>
<path class="l" d="M405.2,1284C404,1283.6 400.4,1282.5 398.1,1281.7C395.8,1280.9 393.6,1280.2 391.4,1279.4C389.3,1278.6 387.2,1277.7 385.3,1276.9C383.3,1276.1 381.4,1275.3 379.6,1274.4C377.8,1273.6 376.1,1272.7 374.5,1271.8C372.9,1271 370.7,1269.6 369.9,1269.2" style="stroke-width:3.4"/>
<path class="w" d="M309.6,1266.9L316.2,1265.6L316.2,1285.9L314.2,1288.5L309.6,1284.6Z"/>
<path class="w" d="M316.2,1251.9L346.9,1251.9L347.3,1309.5L342.4,1314.7L331.9,1316L320.1,1314.7L316.2,1309.5Z" style="stroke-width:3.6"/>
<ellipse class="k" cx="331.6" cy="1251.9" rx="15.3" ry="5.2"/>
<ellipse class="n" cx="329.3" cy="1250.5" rx="5.2" ry="1"/>
<ellipse class="n" cx="340.4" cy="1250.8" rx="2.4" ry="0.8"/>
<path class="k" d="M316.2,1255.8L333.2,1257.1L333.2,1274.1L316.2,1275.4Z"/>
<path class="n" d="M321.4,1267.6L324.3,1267.6L324.3,1275.4L321.4,1275.4Z"/>
<path class="l" d="M316.2,1275.4C318.4,1275.1 324.5,1273.6 329.3,1273.5C334.1,1273.3 342.4,1274.5 345,1274.8" style="stroke-width:4.6"/>
<path class="l" d="M318.8,1295.1C320.5,1294.6 324.9,1292.5 329.3,1292.4C333.6,1292.3 342.4,1294.1 345,1294.4" style="stroke-width:4.6"/>
<path class="k" d="M316.2,1296.4L333.2,1295.1L333.2,1314.7L320.1,1314.7L316.2,1309.5Z"/>
<path class="n" d="M321.4,1299L324.3,1299L324.3,1308.1L321.4,1308.1Z"/>
<path class="l" d="M333.2,1309.5C334.3,1309.2 337.8,1308.1 339.7,1308.1C341.7,1308.1 344.1,1309.2 345,1309.5"/>
<path class="l" d="M346.9,1255.8L354.1,1255.1L358.1,1257.1"/>
<path class="l" d="M346.9,1259.1L355.5,1258.4"/>
<path class="w" d="M805.3,1230.6L806.5,1226L818.3,1223.5L830.1,1226L834,1233.6L833.8,1294L830.1,1297.4L818.3,1298.9L811.8,1298.2L809.1,1295.5L809.1,1242.8L805.3,1239.7Z" style="stroke-width:3.4"/>
<ellipse class="k" cx="818.3" cy="1230.6" rx="13.1" ry="7"/>
<path class="l" d="M809.1,1232.7C810.7,1233 815.2,1234.5 818.3,1234.5C821.4,1234.5 826.3,1233 827.9,1232.7" style="stroke:#fff;stroke-width:1.8"/>
<path class="l" d="M813.7,1228.4C814.5,1228.3 816.6,1228 818.3,1228C820,1228 822.8,1228.3 823.7,1228.4" style="stroke:#fff;stroke-width:1.4;stroke-dasharray:4 3"/>
<path class="k" d="M807.2,1241.6L813.3,1242.4L815.2,1245.8L815.2,1290.1L812.6,1292.8L809.5,1293.6L809.1,1242.8Z"/>
<path class="l" d="M815.2,1257.1C816.6,1257.1 820.5,1257.3 823.3,1256.9C826,1256.5 830.3,1255 831.7,1254.6" style="stroke-width:5.5"/>
<path class="l" d="M812.6,1276C814,1275.9 818,1274.8 821,1275.2C824,1275.7 828.9,1278.1 830.5,1278.7" style="stroke-width:5"/>
<path class="k" d="M827.1,1260.4L828.6,1258.1L834,1254.4L840.1,1259.4L840.1,1277.9L838.5,1279.4L828.6,1279.1L827.1,1277.9Z"/>
<path class="n" d="M832.8,1262.6L835.1,1262.6L835.1,1276.4L832.8,1276.4Z"/>
<path class="n" d="M825,1261.1L826.7,1261.1L826.7,1275.2L825,1275.2Z"/>
<path class="l" d="M821.6,1260.7L821.6,1275.2"/>
<path class="l" d="M830.1,1258.7C830.5,1258.4 831.5,1257.3 832.1,1257.3C832.6,1257.3 833.3,1258.4 833.6,1258.7" style="stroke:#fff;stroke-width:1.6"/>
<path class="l" d="M809.1,1295.5C808.9,1296.8 809.1,1300.5 807.6,1303.1C806.1,1305.7 801.6,1309.8 800.4,1311.2"/>
<path class="w" d="M324.3,1156.3L338.7,1156.3L338.7,1212.6L335.8,1215.2L327.3,1215.2L324.3,1212.6Z" style="stroke-width:3.6"/>
<path class="w" d="M315.1,1139.3L347.6,1139.3L347.6,1152.4L342.4,1155.6L331.6,1156.9L320.8,1155.6L315.1,1152.4Z" style="stroke-width:3.6"/>
<path class="k" d="M310.3,1128.1C311.2,1126 312.6,1123.9 316.2,1122.3C319.7,1120.6 326.5,1118.3 331.6,1118.3C336.8,1118.3 343.4,1120.6 346.9,1122.3C350.5,1123.9 351.9,1126 352.8,1128.1C353.8,1130.3 353.7,1133.5 352.6,1135.3C351.5,1137.2 349.8,1138.4 346.3,1139.3C342.8,1140.2 336.5,1140.8 331.6,1140.8C326.7,1140.8 320.3,1140.2 316.8,1139.3C313.3,1138.4 311.6,1137.2 310.6,1135.3C309.5,1133.5 309.4,1130.3 310.3,1128.1Z"/>
<path class="n" d="M316.8,1126.2C316.9,1125.4 321.6,1124.1 324,1123.6C326.5,1123 329,1122.9 331.6,1122.9C334.2,1122.9 337.3,1123 339.7,1123.6C342.2,1124.1 346.6,1125.4 346.6,1126.2C346.6,1127 341.5,1128.4 339.7,1128.5C338,1128.7 337.2,1127.7 335.8,1127.2C334.5,1126.8 333,1125.9 331.6,1125.9C330.2,1125.9 328.7,1126.8 327.3,1127.2C325.9,1127.7 325.1,1128.7 323.4,1128.5C321.6,1128.4 316.7,1127 316.8,1126.2Z"/>
<!--LID 16 + terminal block 4-->
<path class="n" d="M349.5,750L352,736.2L363.8,722L380,710.5L415,688L452.5,672L490,661.5L530,657L565,650L690,662.5L715,675L745,695L770,710L787.5,722.5L798.8,736.2L801.2,750L801.2,755L795,775L765,797.5L715,812.5L640,822.5L575.2,825L527.5,823.8L465,817.5L402.5,802.5L370,785L352,762.5L349.5,750Z"/>
<path class="l" d="M391.2,800L393.8,815L398.8,819.5L415,811.2"/>
<path class="l" d="M395.5,801.2L397,812.5" style="stroke-width:1.6"/>
<path class="l" d="M350,752.5C350.4,754.4 349.2,758.3 352.5,763.8C355.8,769.2 361.7,778.5 370,785C378.3,791.5 386.7,797.1 402.5,802.5C418.3,807.9 444.2,814 465,817.5C485.8,821 509.1,822.5 527.5,823.8C545.9,825 556.5,825.2 575.2,825C594,824.8 616.7,824.6 640,822.5C663.3,820.4 694.2,816.7 715,812.5C735.8,808.3 751.7,803.8 765,797.5C778.3,791.2 789,782.3 795,775C801,767.7 800.2,757.3 801.2,753.8"/>
<path class="l" d="M352,736.2C351.6,738.5 349,744.4 349.5,750C350,755.6 350.3,764.1 355,770C359.7,775.9 367.5,780.8 377.5,785.5C387.5,790.2 400.4,794.5 415,798C429.6,801.5 446.2,804.5 465,806.5C483.8,808.5 509.1,809.5 527.5,810.2C545.9,811 556.5,811.2 575.2,811C594,810.8 616.7,810.8 640,809C663.3,807.2 694.2,803.9 715,800C735.8,796.1 751.7,791.2 765,785.5C778.3,779.8 789,771.6 795,765.5C801,759.4 800.6,753.6 801.2,748.8C801.9,743.9 799.2,738.3 798.8,736.2"/>
<path class="l" d="M349.5,750C349.9,747.7 349.6,740.9 352,736.2C354.4,731.6 359.1,726.3 363.8,722C368.4,717.7 371.5,716.2 380,710.5C388.5,704.8 402.9,694.4 415,688C427.1,681.6 440,676.4 452.5,672C465,667.6 477.1,664 490,661.5C502.9,659 523.3,657.8 530,657"/>
<path class="l" d="M715,675C720,678.3 735.8,689.2 745,695C754.2,700.8 762.9,705.4 770,710C777.1,714.6 782.7,718.1 787.5,722.5C792.3,726.9 796.5,731.7 798.8,736.2C801,740.8 800.8,747.7 801.2,750"/>
<path class="l" d="M377.5,717.5C375.3,719.6 367.3,725 364.5,730C361.7,735 360.3,741.7 360.5,747.5C360.7,753.3 360.6,759.5 365.5,765C370.4,770.5 377.6,776.1 390,780.5C402.4,784.9 419.2,788.8 440,791.5C460.8,794.2 492.5,795.5 515,796.5C537.5,797.5 550.2,798 575.2,797.2C600.2,796.5 637.5,794.8 665,792C692.5,789.2 720.8,785 740,780.5C759.2,776 771.6,770.5 780,765C788.4,759.5 789.2,753.3 790.5,747.5C791.8,741.7 788,732.9 787.5,730"/>
<path class="l" d="M530,660C523.3,660.9 501.7,663 490,665.5C478.3,668 472.5,669.9 460,675C447.5,680.1 428.8,689.1 415,696.2C401.2,703.4 385.4,711.5 377.5,718C369.6,724.5 368.3,728.8 367.5,735C366.7,741.2 366.7,748.8 372.5,755C378.3,761.2 387.1,767.9 402.5,772.5C417.9,777.1 436.2,780.2 465,782.5C493.8,784.8 541.9,786.5 575.2,786.5C608.6,786.5 637.5,786 665,782.5C692.5,779 721.2,772.5 740,765.5C758.8,758.5 769.9,747.6 777.5,740.5C785.1,733.4 784.2,725.9 785.5,723" style="stroke-width:4.6"/>
<path class="l" d="M720,682.5C725,685.6 741.2,695.4 750,701.2C758.8,707.1 766.2,712.6 772.5,717.5C778.8,722.4 785.4,728.3 788,730.5"/>
<path class="n" d="M381.2,626.2L408.8,626.2L409.2,695L380,715Z"/>
<path class="l" d="M381.2,627L380,715.5"/>
<path class="l" d="M408.8,627L409.2,692"/>
<ellipse class="w" cx="395" cy="626.2" rx="13.8" ry="3.2" style="stroke-width:4.6"/>
<ellipse class="k" cx="395" cy="626.2" rx="7.5" ry="1.5"/>
<path class="l" d="M377.5,717.5L416.2,691.5" style="stroke-width:4.6"/>
<path class="l" d="M383,719.5L418,695.5" style="stroke-width:1.6"/>
<path class="l" d="M402.5,720.5C404.6,717.9 408.8,710.1 415,705C421.2,699.9 430.8,693.9 440,690C449.2,686.1 460.8,683.5 470,681.8C479.2,680 485,679.8 495,679.5C505,679.2 518.3,678.9 530,680C541.7,681.1 559.2,685.2 565,686.2" style="stroke-width:4.6"/>
<path class="l" d="M402.5,720.5C404.6,722.2 410.8,729.4 415,730.5C419.2,731.6 419.2,728.3 427.5,727C435.8,725.7 450.4,722.8 465,722.5C479.6,722.2 500.4,723.3 515,725C529.6,726.7 543.7,731 552.5,732.5C561.3,734 565.4,733.8 568,734" style="stroke-width:4.6"/>
<path class="l" d="M410.5,717.5C412.7,716.5 414.7,712.8 423.8,711.5C432.8,710.2 449.8,709 465,710C480.2,711 498.3,715 515,717.5C531.7,720 556.7,723.8 565,725"/>
<path class="l" d="M426.2,723.8C429.4,722.7 437.7,718.5 445,717.5C452.3,716.5 458.3,716.6 470,717.5C481.7,718.4 507.5,722.1 515,723" style="stroke-width:1.6"/>
<path class="l" d="M447.5,693L451.2,682.5L470,670L490,665.5" style="stroke-width:4.6"/>
<path class="l" d="M447.5,693L457.5,698L476.2,694.5L477,685L470,680.5L470,670"/>
<path class="l" d="M451.2,687.5L470,680.5"/>
<path class="l" d="M462.5,698L462.5,710"/>
<path class="l" d="M480,677.5L491.2,673L490,677.5" style="stroke-width:4.6"/>
<path class="l" d="M530,661.2C530.1,662.7 526.8,667.4 530.5,670C534.2,672.6 544.2,675.2 552.5,677C560.8,678.8 575.4,679.9 580,680.5"/>
<path class="l" d="M540,665.5C542.5,666.3 549.2,669.3 555,670.5C560.8,671.7 571.7,672.2 575,672.5" style="stroke-width:1.6"/>
<path class="l" d="M538.8,600L538.8,662.5"/>
<path class="l" d="M560,680C561.7,680.6 566.7,682.7 570,683.8C573.3,684.8 578.3,685.8 580,686.2" style="stroke-width:4.6"/>
<path class="w" d="M691.2,663.8L713.8,665.2L716.2,675L724,734L697.5,743.8L685.6,739L685.6,690L691.2,685Z"/>
<path class="l" d="M642.5,691.5C645.8,690.9 655,688.8 662.5,688.1C670,687.5 679.6,686.8 687.5,687.5C695.4,688.2 705.2,690.4 710,692.5C714.8,694.6 715.2,698.8 716.2,700" style="stroke-width:4.6"/>
<path class="l" d="M656.2,697.8C658.3,696.9 663.5,693.4 668.8,692.8C674,692.1 682.3,692.9 687.5,693.8C692.7,694.6 697.3,695.5 700,697.8C702.7,700 702.7,702.1 703.8,707.5C704.8,712.9 706.9,725.8 706.2,730C705.6,734.2 703.5,732.7 700,732.8C696.5,732.8 687.5,730.7 685,730.2" style="stroke-width:4.6"/>
<path class="l" d="M675,696.9C677.1,697.1 684,697.2 687.5,698.1C691,699.1 694.4,697.6 696.2,702.5C698.1,707.4 698.3,723.3 698.8,727.5"/>
<path class="l" d="M691.2,707.5L693.8,728.8"/>
<path class="l" d="M685.6,739L697.5,743.8L724,734" style="stroke-width:4.6"/>
<path class="l" d="M716.2,675L724,734" style="stroke-width:4.6"/>
<path class="w" d="M698.1,666.2L698.1,643.1L700,640L706.9,640L708.8,643.1L709,666.2Z"/>
<ellipse class="k" cx="703.5" cy="642.2" rx="4.8" ry="2.8"/>
<path class="l" d="M692.5,665L698.1,666.5L713.8,665.2" style="stroke-width:4.6"/>
<path class="l" d="M712.5,666.2L715,676.2"/>
<path class="w" d="M565,639.4L677.5,631.2L688.8,641.2L691.2,663.1L576.9,669.4L561.2,672.5L560.6,656.9L565.6,656.2Z"/>
<path class="l" d="M565,639.4L575,650L688.8,641.2"/>
<path class="l" d="M575,650L576.5,669"/>
<path class="l" d="M576.9,668.1L691,660.2"/>
<path class="l" d="M561.2,672.5L579.4,688.1" style="stroke-width:4.6"/>
<ellipse class="k" cx="614.4" cy="641.5" rx="7.8" ry="2.2"/>
<path class="w" d="M576.5,669L691,661.9L693.8,670L693.1,683.8L581.2,690Z"/>
<path class="l" d="M580,669.4L595.6,667.8L599.4,676.2L583.1,677.8Z"/>
<path class="l" d="M582.9,688.8L582.9,678.1L598.1,676.5L598.1,687.2" style="stroke-width:5"/>
<path class="l" d="M586.6,688.8L586.6,681.2L594.4,680L594.4,687.5" style="stroke-width:3.6"/>
<path class="l" d="M602.1,667.5L617.8,665.9L621.5,674.4L605.2,675.9Z"/>
<path class="l" d="M605,686.9L605,676.2L620.2,674.6L620.2,685.4" style="stroke-width:5"/>
<path class="l" d="M608.8,686.9L608.8,679.4L616.5,678.1L616.5,685.6" style="stroke-width:3.6"/>
<path class="l" d="M623.8,666.2L639.4,664.6L643.1,673.1L626.9,674.6Z"/>
<path class="l" d="M626.6,685.6L626.6,675L641.9,673.4L641.9,684.1" style="stroke-width:5"/>
<path class="l" d="M630.4,685.6L630.4,678.1L638.1,676.9L638.1,684.4" style="stroke-width:3.6"/>
<path class="l" d="M645.9,664.6L661.5,663L665.2,671.5L649,673Z"/>
<path class="l" d="M648.8,684L648.8,673.4L664,671.8L664,682.5" style="stroke-width:5"/>
<path class="l" d="M652.5,684L652.5,676.5L660.2,675.2L660.2,682.8" style="stroke-width:3.6"/>
<path class="l" d="M668.8,663.1L686.9,661.5L690.6,670L671.9,671.5Z"/>
<path class="l" d="M671.6,682.5L671.6,671.9L689.4,670.2L689.4,681" style="stroke-width:5"/>
<path class="l" d="M675.4,682.5L675.4,675L685.6,673.8L685.6,681.2" style="stroke-width:3.6"/>
<path class="w" d="M567.2,715.2L570.6,701.2L587.5,698.1L682.5,695L684.4,740L662.5,743.1L660,745L640,746.2L637.5,747.5L618.1,748.5L595,750L580,751L566.2,738.8Z" style="stroke-width:4.6"/>
<path class="k" d="M567.2,715.2L576.9,713.1L577.5,748.8L566.2,738.8Z"/>
<path class="k" d="M590.4,700L595.6,699.5L595.9,727.5L590.4,728Z"/>
<path class="k" d="M575.6,717.5L578.6,717.2L578.6,728.8L575.6,729Z"/>
<path class="l" d="M578.4,727.5L578.4,707.5L580,701.2L588.1,700.6L589.6,707.5L589.6,726.9" style="stroke-width:3.6"/>
<path class="l" d="M578.4,708.1C579.3,708.5 582.2,710.4 584.1,710.2C586,710.1 588.7,708 589.6,707.5" style="stroke-width:3.6"/>
<path class="l" d="M578.4,720C579.3,720.3 582.2,722 584.1,721.9C586,721.8 588.7,719.9 589.6,719.5" style="stroke-width:3.6"/>
<path class="k" d="M578.1,727.8L590.9,726.5L590.9,740.6L578.1,741.9Z"/>
<path class="n" d="M579.4,729L589.6,728L589.6,730.2L579.4,731.2Z"/>
<ellipse class="n" cx="584.6" cy="734.4" rx="1.6" ry="1.6"/>
<path class="w" d="M580.9,743.1L592.1,741.9L592.1,746.5L580.9,747.8Z" style="stroke-width:3.6"/>
<path class="k" d="M613.5,698.5L618.8,698L619,726L613.5,726.5Z"/>
<path class="k" d="M598.8,716L601.8,715.8L601.8,727.2L598.8,727.5Z"/>
<path class="l" d="M601.5,726L601.5,706L603.1,699.8L611.2,699.1L612.8,706L612.8,725.4" style="stroke-width:3.6"/>
<path class="l" d="M601.5,706.6C602.5,707 605.4,708.9 607.2,708.8C609.1,708.6 611.8,706.5 612.8,706" style="stroke-width:3.6"/>
<path class="l" d="M601.5,718.5C602.5,718.8 605.4,720.5 607.2,720.4C609.1,720.3 611.8,718.4 612.8,718" style="stroke-width:3.6"/>
<path class="k" d="M601.2,726.2L614,725L614,739.1L601.2,740.4Z"/>
<path class="n" d="M602.5,727.5L612.8,726.5L612.8,728.8L602.5,729.8Z"/>
<ellipse class="n" cx="607.8" cy="732.9" rx="1.6" ry="1.6"/>
<path class="w" d="M604,741.6L615.2,740.4L615.2,745L604,746.2Z" style="stroke-width:3.6"/>
<path class="k" d="M636,696.9L641.2,696.4L641.5,724.4L636,724.9Z"/>
<path class="k" d="M621.2,714.4L624.2,714.1L624.2,725.6L621.2,725.9Z"/>
<path class="l" d="M624,724.4L624,704.4L625.6,698.1L633.8,697.5L635.2,704.4L635.2,723.8" style="stroke-width:3.6"/>
<path class="l" d="M624,705C625,705.4 627.9,707.2 629.8,707.1C631.6,707 634.3,704.8 635.2,704.4" style="stroke-width:3.6"/>
<path class="l" d="M624,716.9C625,717.2 627.9,718.8 629.8,718.8C631.6,718.7 634.3,716.8 635.2,716.4" style="stroke-width:3.6"/>
<path class="k" d="M623.8,724.6L636.5,723.4L636.5,737.5L623.8,738.8Z"/>
<path class="n" d="M625,725.9L635.2,724.9L635.2,727.1L625,728.1Z"/>
<ellipse class="n" cx="630.2" cy="731.2" rx="1.6" ry="1.6"/>
<path class="w" d="M626.5,740L637.8,738.8L637.8,743.4L626.5,744.6Z" style="stroke-width:3.6"/>
<path class="k" d="M658.5,695.2L663.8,694.8L664,722.8L658.5,723.2Z"/>
<path class="k" d="M643.8,712.8L646.8,712.5L646.8,724L643.8,724.2Z"/>
<path class="l" d="M646.5,722.8L646.5,702.8L648.1,696.5L656.2,695.9L657.8,702.8L657.8,722.1" style="stroke-width:3.6"/>
<path class="l" d="M646.5,703.4C647.5,703.7 650.4,705.6 652.2,705.5C654.1,705.4 656.8,703.2 657.8,702.8" style="stroke-width:3.6"/>
<path class="l" d="M646.5,715.2C647.5,715.6 650.4,717.2 652.2,717.1C654.1,717 656.8,715.1 657.8,714.8" style="stroke-width:3.6"/>
<path class="k" d="M646.2,723L659,721.8L659,735.9L646.2,737.1Z"/>
<path class="n" d="M647.5,724.2L657.8,723.2L657.8,725.5L647.5,726.5Z"/>
<ellipse class="n" cx="652.8" cy="729.6" rx="1.6" ry="1.6"/>
<path class="w" d="M649,738.4L660.2,737.1L660.2,741.8L649,743Z" style="stroke-width:3.6"/>
<path class="k" d="M680.4,693.5L685.6,693L685.9,721L680.4,721.5Z"/>
<path class="k" d="M665.6,711L668.6,710.8L668.6,722.2L665.6,722.5Z"/>
<path class="l" d="M668.4,721L668.4,701L670,694.8L678.1,694.1L679.6,701L679.6,720.4" style="stroke-width:3.6"/>
<path class="l" d="M668.4,701.6C669.3,702 672.2,703.9 674.1,703.8C676,703.6 678.7,701.5 679.6,701" style="stroke-width:3.6"/>
<path class="l" d="M668.4,713.5C669.3,713.8 672.2,715.5 674.1,715.4C676,715.3 678.7,713.4 679.6,713" style="stroke-width:3.6"/>
<path class="k" d="M668.1,721.2L680.9,720L680.9,734.1L668.1,735.4Z"/>
<path class="n" d="M669.4,722.5L679.6,721.5L679.6,723.8L669.4,724.8Z"/>
<ellipse class="n" cx="674.6" cy="727.9" rx="1.6" ry="1.6"/>
<path class="w" d="M670.9,736.6L682.1,735.4L682.1,740L670.9,741.2Z" style="stroke-width:3.6"/>
<path class="w" d="M600.6,748.8L601.9,767.5C602.1,769.2 605.1,775.3 603.5,777.8C601.9,780.2 596,782 592.5,782C589,782 584.5,780.2 582.8,777.8C581,775.3 582,769.2 581.9,767.5L582.8,750Z"/>
<path class="l" d="M582.8,763.8C582.4,765.4 580.2,770.8 580.6,773.8C581,776.7 583,779.9 585,781.2C587,782.6 591.2,782 592.5,782.1" style="stroke-width:6"/>
<path class="w" d="M667.5,745L669.4,763.8C669.5,765.3 671.6,770.9 670.2,773.1C668.9,775.3 664.3,777.1 661.2,776.9C658.2,776.7 653.6,774.5 651.9,771.9C650.1,769.3 650.8,763 650.6,761.2L650,746.2Z"/>
<path class="l" d="M650,758.8C649.6,760 647.1,763.5 647.5,766.2C647.9,769 650.2,773.2 652.5,775C654.8,776.8 659.8,776.7 661.2,777" style="stroke-width:6"/>
<!--sensors, nuts, plates-->
<path class="l" d="M454.2,298.3C455.6,299.6 460.6,302.5 462.5,305.8C464.4,309.2 465.1,313.8 465.3,318.3C465.5,322.9 464.3,327.5 463.7,333.3C463.1,339.2 461,347.4 461.7,353.3C462.3,359.3 465.8,364.2 467.5,369.2C469.2,374.1 471.2,380.7 472,383" style="stroke-width:6.3"/>
<path class="w" d="M463.7,388.3L465.8,383.7L472,382.5L478.3,383.7L480.3,388.3L480.3,470.8L477.5,475L472,476L466.7,475L463.7,470.8Z"/>
<path class="l" d="M466.7,390C467.6,390.3 470.2,392 472,392C473.8,392 476.6,390.3 477.5,390"/>
<path class="l" d="M467.5,386.7C468.2,386.9 470.5,388 472,388C473.5,388 475.9,386.9 476.7,386.7" style="stroke-width:1.6"/>
<path class="k" d="M465.3,470L472,471.7L478.7,470L477.5,475L472,476L466.7,475Z"/>
<path class="l" d="M553.8,250.7C555.2,251.9 560.3,254.8 562.2,258.2C564,261.5 564.8,266.1 565,270.7C565.2,275.2 563.9,279.8 563.3,285.7C562.7,291.5 560.7,299.7 561.3,305.7C562,311.6 565.4,316.6 567.2,321.5C568.9,326.4 570.9,333 571.7,335.3" style="stroke-width:6.3"/>
<path class="w" d="M563.3,340.7L565.5,336L571.7,334.8L578,336L580,340.7L580,423.2L577.2,427.3L571.7,428.3L566.3,427.3L563.3,423.2Z"/>
<path class="l" d="M566.3,342.3C567.2,342.7 569.9,344.3 571.7,344.3C573.5,344.3 576.2,342.7 577.2,342.3"/>
<path class="l" d="M567.2,339C567.9,339.2 570.1,340.3 571.7,340.3C573.2,340.3 575.6,339.2 576.3,339" style="stroke-width:1.6"/>
<path class="k" d="M565,422.3L571.7,424L578.3,422.3L577.2,427.3L571.7,428.3L566.3,427.3Z"/>
<path class="l" d="M663,297C664.4,298.2 669.5,301.2 671.3,304.5C673.2,307.8 674,312.4 674.2,317C674.4,321.6 673.1,326.2 672.5,332C671.9,337.8 669.9,346 670.5,352C671.1,358 674.6,362.9 676.3,367.8C678.1,372.8 680.1,379.4 680.8,381.7" style="stroke-width:6.3"/>
<path class="w" d="M672.5,387L674.7,382.3L680.8,381.2L687.2,382.3L689.2,387L689.2,469.5L686.3,473.7L680.8,474.7L675.5,473.7L672.5,469.5Z"/>
<path class="l" d="M675.5,388.7C676.4,389 679,390.7 680.8,390.7C682.6,390.7 685.4,389 686.3,388.7"/>
<path class="l" d="M676.3,385.3C677.1,385.6 679.3,386.7 680.8,386.7C682.4,386.7 684.7,385.6 685.5,385.3" style="stroke-width:1.6"/>
<path class="k" d="M674.2,468.7L680.8,470.3L687.5,468.7L686.3,473.7L680.8,474.7L675.5,473.7Z"/>
<path class="w" d="M530.8,456.7C529.9,459.4 529.9,466.9 530.8,469.7C531.8,472.4 534.6,472.3 536.7,473C538.8,473.7 541.1,473.8 543.3,473.8C545.6,473.8 547.9,473.7 550,473C552.1,472.3 554.9,472.4 555.8,469.7C556.8,466.9 556.8,459.4 555.8,456.7C554.9,453.9 552.1,453.8 550,453C547.9,452.2 545.6,452.2 543.3,452.2C541.1,452.2 538.8,452.2 536.7,453C534.6,453.8 531.8,453.9 530.8,456.7Z" style="stroke-width:3.4"/>
<path class="k" d="M530.8,456.7C531.4,455.5 534.6,453.8 536.7,453C538.8,452.2 541.1,452.2 543.3,452.2C545.6,452.2 547.9,452.2 550,453C552.1,453.8 555.3,455.5 555.8,456.7C556.4,457.8 555.4,458.9 553.3,460C551.2,461.1 546.7,463 543.3,463C540,463 535.4,461.1 533.3,460C531.2,458.9 530.3,457.8 530.8,456.7Z"/>
<path class="l" d="M543.3,461.7L543.3,473" style="stroke-width:3.6"/>
<path class="w" d="M489.2,503C488.2,505.8 488.2,513.3 489.2,516C490.1,518.7 492.9,518.6 495,519.3C497.1,520 499.4,520.2 501.7,520.2C503.9,520.2 506.2,520 508.3,519.3C510.4,518.6 513.2,518.7 514.2,516C515.1,513.3 515.1,505.8 514.2,503C513.2,500.2 510.4,500.1 508.3,499.3C506.2,498.6 503.9,498.5 501.7,498.5C499.4,498.5 497.1,498.6 495,499.3C492.9,500.1 490.1,500.2 489.2,503Z" style="stroke-width:3.4"/>
<path class="k" d="M489.2,503C489.7,501.8 492.9,500.1 495,499.3C497.1,498.6 499.4,498.5 501.7,498.5C503.9,498.5 506.2,498.6 508.3,499.3C510.4,500.1 513.6,501.8 514.2,503C514.7,504.2 513.8,505.3 511.7,506.3C509.6,507.4 505,509.3 501.7,509.3C498.3,509.3 493.8,507.4 491.7,506.3C489.6,505.3 488.6,504.2 489.2,503Z"/>
<path class="l" d="M501.7,508L501.7,519.3" style="stroke-width:3.6"/>
<path class="w" d="M667.5,489.2C666.5,491.9 666.5,499.4 667.5,502.2C668.5,504.9 671.2,504.8 673.3,505.5C675.4,506.2 677.8,506.3 680,506.3C682.2,506.3 684.6,506.2 686.7,505.5C688.8,504.8 691.5,504.9 692.5,502.2C693.5,499.4 693.5,491.9 692.5,489.2C691.5,486.4 688.8,486.2 686.7,485.5C684.6,484.8 682.2,484.7 680,484.7C677.8,484.7 675.4,484.8 673.3,485.5C671.2,486.2 668.5,486.4 667.5,489.2Z" style="stroke-width:3.4"/>
<path class="k" d="M667.5,489.2C668.1,488 671.2,486.2 673.3,485.5C675.4,484.8 677.8,484.7 680,484.7C682.2,484.7 684.6,484.8 686.7,485.5C688.8,486.2 691.9,488 692.5,489.2C693.1,490.3 692.1,491.4 690,492.5C687.9,493.6 683.3,495.5 680,495.5C676.7,495.5 672.1,493.6 670,492.5C667.9,491.4 666.9,490.3 667.5,489.2Z"/>
<path class="l" d="M680,494.2L680,505.5" style="stroke-width:3.6"/>
<path class="n" d="M539.2,613.3L558.3,580.8L583.3,580L605,585L610.8,591.7L611.7,634.3L565,638L539.2,640Z"/>
<path class="l" d="M558.3,580.8C560.3,580.6 565.8,579.8 570,579.7C574.2,579.5 578.3,579.4 583.3,580C588.3,580.6 595.8,581.6 600,583C604.2,584.4 606.5,586.8 608.3,588.3C610.1,589.9 610.4,591.8 610.8,592.5" style="stroke-width:3.6"/>
<path class="l" d="M610.8,592.5L611.7,635.3"/>
<path class="l" d="M608,590L608.3,606.7" style="stroke-width:1.6"/>
<path class="l" d="M588.3,597.5C590.1,597 596.5,595.9 599.2,594.7C601.8,593.5 603.9,591.7 604.2,590.3C604.4,588.9 601.4,587 600.8,586.3"/>
<path class="w" d="M458.3,556.7C458.4,555.1 457.3,550.2 458.7,547.5C460.1,544.8 463.4,542.1 466.7,540.3C469.9,538.5 476.4,537.3 478.3,536.7L583.3,520C587.5,519.9 601.7,518.3 608.3,519.2C615,520 620,522.6 623.3,525C626.7,527.4 627.5,531.9 628.3,533.3L628.3,541.7C627.5,542.5 625.8,545.3 623.3,546.7C620.8,548.1 615,549.4 613.3,550L508.3,565.3C504.2,565.6 490.3,567.3 483.3,567C476.4,566.7 470.8,565.4 466.7,563.7C462.5,561.9 459.7,557.8 458.3,556.7Z"/>
<path class="l" d="M462,547.5C462.6,548.2 463.4,550.8 465.8,552C468.3,553.2 469.9,554.5 476.7,554.7C483.5,554.8 501.7,553.3 506.7,553"/>
<path class="l" d="M506.7,553L611.7,534.2"/>
<path class="l" d="M611.7,534.2C613.3,533.7 619.6,532.4 621.7,531.3C623.8,530.2 623.8,528.1 624.2,527.5"/>
<path class="l" d="M460,552C461.1,552.7 463.3,555.3 466.7,556.3C470,557.3 473.1,558.1 480,558C486.9,557.9 503.3,556.3 508,556"/>
<path class="l" d="M508,556L613,537"/>
<path class="l" d="M613,537C614.9,536.5 621.7,535.2 624.2,534.2C626.7,533.1 627.4,531.4 628,530.8"/>
<path class="l" d="M462,547.5C462.4,546.8 461.4,544.4 464.2,543C466.9,541.6 476,539.8 478.3,539.2"/>
<path class="l" d="M478.3,539.2L583.3,522.7"/>
<path class="l" d="M583.3,522.7C587.5,522.6 601.9,521.5 608.3,522C614.7,522.5 619,524.9 621.7,525.8C624.3,526.8 623.8,527.2 624.2,527.5"/>
<path class="l" d="M506.7,553.3L506.7,565.3"/>
<path class="l" d="M509.3,553L509.3,565"/>
<path class="l" d="M611.7,534.7L611.7,549.7"/>
<path class="l" d="M614.2,534.2L614.2,549.2"/>
<ellipse class="l" cx="488.3" cy="545" rx="15.3" ry="5"/>
<path class="l" d="M502.5,545.5C502.4,545.6 502,545.9 501.6,546.2C501.3,546.4 500.8,546.6 500.3,546.8C499.9,547 499.3,547.2 498.7,547.4C498.1,547.6 497.4,547.7 496.7,547.9C496.1,548 495.3,548.2 494.5,548.3C493.8,548.4 492.9,548.5 492.1,548.5C491.3,548.6 490.5,548.6 489.6,548.7C488.8,548.7 487.9,548.7 487.1,548.7C486.2,548.6 485.4,548.6 484.5,548.5C483.7,548.5 482.9,548.4 482.1,548.3C481.4,548.2 480.6,548 479.9,547.9C479.2,547.7 478.6,547.6 478,547.4C477.4,547.2 476.8,547 476.3,546.8C475.8,546.6 475.4,546.4 475,546.2C474.7,545.9 474.3,545.6 474.2,545.5" style="stroke-width:5"/>
<ellipse class="l" cx="542.5" cy="533.7" rx="14.7" ry="5.7"/>
<ellipse class="k" cx="542.5" cy="532" rx="10" ry="3"/>
<ellipse class="l" cx="570.8" cy="530.8" rx="10.8" ry="3.7"/>
<ellipse class="l" cx="598.3" cy="526" rx="15.3" ry="5"/>
<path class="l" d="M584.2,525.5C584.3,525.4 584.7,525.1 585,524.8C585.4,524.6 585.8,524.4 586.3,524.2C586.8,524 587.4,523.8 588,523.6C588.6,523.4 589.2,523.3 589.9,523.1C590.6,523 591.4,522.8 592.1,522.7C592.9,522.6 593.7,522.5 594.5,522.5C595.4,522.4 596.2,522.4 597.1,522.3C597.9,522.3 598.8,522.3 599.6,522.3C600.5,522.4 601.3,522.4 602.1,522.5C602.9,522.5 603.8,522.6 604.5,522.7C605.3,522.8 606.1,523 606.7,523.1C607.4,523.3 608.1,523.4 608.7,523.6C609.3,523.8 609.9,524 610.3,524.2C610.8,524.4 611.3,524.6 611.6,524.8C612,525.1 612.4,525.4 612.5,525.5" style="stroke-width:5"/>
<path class="w" d="M415,591.7C415,590 413.9,584.8 415,581.7C416.1,578.6 418.1,575.3 421.7,573C425.3,570.7 431.4,568.9 436.7,568C441.9,567.1 450.6,567.6 453.3,567.5L558.3,580.8C561.4,581.7 571.8,583.5 576.7,585.8C581.5,588.2 585.6,591.5 587.5,595C589.4,598.5 588.2,604.7 588.3,606.7C586.4,607.7 581.9,611.7 576.7,613C571.4,614.3 562.8,614.8 556.7,614.7C550.6,614.6 542.8,612.9 540,612.5L433.3,599.2C431.2,598.7 423.9,597.6 420.8,596.3C417.8,595.1 416,592.4 415,591.7Z"/>
<path class="l" d="M418,583C418.9,583.6 420.8,585.7 423.3,586.7C425.9,587.6 431.7,588.3 433.3,588.7"/>
<path class="l" d="M433.3,588.7L540,598"/>
<path class="l" d="M540,598C543.9,598.3 556.7,600 563.3,599.7C570,599.3 576.7,597.3 580,595.8C583.3,594.4 583.6,592.4 583.3,590.8C583.1,589.3 579.2,587.4 578.3,586.7"/>
<path class="l" d="M415.8,586.7C417.1,587.2 420.6,589.2 423.3,590C426.1,590.8 431,591.1 432.5,591.3"/>
<path class="l" d="M432.5,591.3L540.8,601.3"/>
<path class="l" d="M540.8,601.3C545.1,601.6 559.6,603.4 566.7,603C573.8,602.6 579.8,600.5 583.3,599.2C586.9,597.8 587.2,595.7 588,595"/>
<path class="l" d="M418,583C418.5,581.8 417.7,577.9 420.8,575.8C423.9,573.7 431.2,571.3 436.7,570.3C442.1,569.4 450.6,570.1 453.3,570"/>
<path class="l" d="M453.3,570L556.7,583.3"/>
<path class="l" d="M556.7,583.3C559.4,583.9 569.7,586.1 573.3,586.7C576.9,587.2 577.5,586.7 578.3,586.7"/>
<path class="l" d="M430.8,588.3L430.8,598.7"/>
<path class="l" d="M433.3,588.7L433.3,599.2"/>
<path class="l" d="M540,598.3L540,612.5"/>
<path class="l" d="M542.7,598.7L542.7,613"/>
<ellipse class="l" cx="444.2" cy="575" rx="15" ry="4.2"/>
<path class="l" d="M430.3,574.6C430.5,574.5 430.8,574.1 431.2,574C431.5,573.8 431.9,573.6 432.4,573.4C432.9,573.2 433.4,573.1 434,572.9C434.6,572.8 435.3,572.6 435.9,572.5C436.6,572.4 437.4,572.3 438.1,572.2C438.9,572.1 439.7,572 440.5,572C441.3,571.9 442.1,571.9 442.9,571.8C443.7,571.8 444.6,571.8 445.4,571.8C446.2,571.9 447.1,571.9 447.9,572C448.7,572 449.5,572.1 450.2,572.2C451,572.3 451.7,572.4 452.4,572.5C453.1,572.6 453.7,572.8 454.3,572.9C454.9,573.1 455.4,573.2 455.9,573.4C456.4,573.6 456.8,573.8 457.2,574C457.5,574.1 457.9,574.5 458,574.6" style="stroke-width:5"/>
<ellipse class="l" cx="471.7" cy="578" rx="10.8" ry="3.7"/>
<ellipse class="l" cx="501.3" cy="581.7" rx="14.3" ry="5.7"/>
<ellipse class="k" cx="501.3" cy="580" rx="10" ry="3"/>
<ellipse class="l" cx="558.3" cy="590.3" rx="15.3" ry="4.7"/>
<path class="l" d="M572.5,590.7C572.4,590.9 572,591.2 571.6,591.4C571.3,591.6 570.8,591.9 570.3,592.1C569.9,592.3 569.3,592.4 568.7,592.6C568.1,592.8 567.4,592.9 566.7,593.1C566.1,593.2 565.3,593.3 564.5,593.4C563.8,593.5 562.9,593.6 562.1,593.7C561.3,593.8 560.5,593.8 559.6,593.8C558.8,593.8 557.9,593.8 557.1,593.8C556.2,593.8 555.4,593.8 554.5,593.7C553.7,593.6 552.9,593.5 552.1,593.4C551.4,593.3 550.6,593.2 549.9,593.1C549.2,592.9 548.6,592.8 548,592.6C547.4,592.4 546.8,592.3 546.3,592.1C545.8,591.9 545.4,591.6 545,591.4C544.7,591.2 544.3,590.9 544.2,590.7" style="stroke-width:5"/>
<path class="l" d="M539.2,613.7L539.2,640"/>
<path class="w" d="M645,556.7C645.6,551.9 646.7,550.3 650,548.3C653.3,546.4 660,545.7 665,545C670,544.3 674.7,544.1 680,544.2C685.3,544.2 692.2,544.5 696.7,545.3C701.1,546.2 704.3,547.3 706.7,549.2C709,551.1 709.4,550.1 710.8,556.7C712.2,563.2 714.3,581.1 715,588.3C715.7,595.6 717.5,596.8 715,600C712.5,603.2 705.8,606 700,607.5C694.2,609 686.7,609.3 680,609.2C673.3,609 665.1,608.2 660,606.7C654.9,605.1 651.4,605 649.2,600C646.9,595 647.4,583.9 646.7,576.7C646,569.4 644.4,561.4 645,556.7Z" style="stroke-width:3.6"/>
<path class="l" d="M648.3,555L652,590"/>
<path class="l" d="M652.5,554.2L655.3,587.5"/>
<path class="l" d="M707,554.2L710.3,586.7"/>
<path class="l" d="M710,555.8L713.3,588.3"/>
<path class="l" d="M652,588.3C654.4,589.2 661.4,592.3 666.7,593.3C671.9,594.4 677.8,594.8 683.3,594.7C688.9,594.5 695.3,593.6 700,592.5C704.7,591.4 709.7,588.8 711.7,588"/>
<path class="l" d="M650,592C652.8,592.9 661.4,596.4 666.7,597.5C671.9,598.6 676.1,598.8 681.7,598.7C687.2,598.5 694.6,597.9 700,596.7C705.4,595.4 711.7,592.2 714,591.3"/>
<path class="l" d="M650,552.5C652.2,551.8 658.3,549 663.3,548C668.3,547 674.4,546.7 680,546.7C685.6,546.7 691.9,547 696.7,548C701.4,549 706.4,551.8 708.3,552.5" style="stroke-width:1.8"/>
<ellipse class="l" cx="677.5" cy="552.5" rx="15.8" ry="4.7"/>
<ellipse class="l" cx="680" cy="567.7" rx="15" ry="5.7" style="stroke-width:5"/>
<ellipse class="k" cx="680" cy="566" rx="9.2" ry="2.3"/>
<ellipse class="l" cx="680.8" cy="577" rx="12.5" ry="3.7" style="stroke-width:4"/>
<ellipse class="l" cx="681.7" cy="585.8" rx="15.8" ry="4.7" style="stroke-width:4"/>
<!--PART 1 caps-->
<path class="n" d="M449.4,120L449.8,110L452.5,101.2L461.2,95L477.5,90.2L525,82.5L561.9,76.2L590,71.9L606.2,71.2L621.2,76.2L632.5,83.8L635.6,92.5L638.1,127.5L640,165L635,175.6L630,178.5L608.1,183.8L597.8,182.5L552.5,177.5L449.4,152.5Z"/>
<path class="l" d="M449.4,120C449.4,118.3 449.2,113.1 449.8,110C450.3,106.9 450.6,103.8 452.5,101.2C454.4,98.8 457.1,96.8 461.2,95C465.4,93.2 474.8,91 477.5,90.2"/>
<path class="l" d="M477.5,90.2L526.2,82.5"/>
<path class="l" d="M561.5,76.2L590,71.9"/>
<path class="l" d="M590,71.9C592.7,71.8 601,70.5 606.2,71.2C611.5,72 616.9,74.2 621.2,76.2C625.6,78.3 630.1,81 632.5,83.8C634.9,86.5 635.1,91 635.6,92.5"/>
<path class="l" d="M635.6,92.5L638.1,127.5L640,165L643.1,195"/>
<path class="l" d="M461.2,98.1C462.2,99.1 463.1,102.5 466.9,103.8C470.6,105 480.9,105.3 483.8,105.6"/>
<path class="l" d="M518.8,102.1L612.5,83.8"/>
<path class="l" d="M612.5,83.8C614,83.4 619.1,82.5 621.2,81.9C623.4,81.2 624.6,80.1 625.2,79.8"/>
<path class="l" d="M451.9,112.5C453.5,113.4 456.7,116.6 461.9,117.8C467.1,118.9 479.6,119.3 483.1,119.6"/>
<path class="l" d="M519.4,115.9L615,100.2"/>
<path class="l" d="M615,100.2C617.1,99.7 624.3,98.2 627.5,96.9C630.7,95.5 633.2,93 634.4,92.2"/>
<path class="l" d="M612.5,86.5C613.3,87.5 616.4,89.8 617.5,92.5C618.6,95.2 618.8,100.8 619,102.5"/>
<path class="l" d="M619,102.5L620,113.1"/>
<path class="l" d="M596.2,151.2L607.5,149"/>
<path class="l" d="M597.8,182.5L607.2,181.2L608.1,183.8"/>
<path class="l" d="M608.1,183.8L608.8,126.2"/>
<path class="l" d="M608.8,126.2C609.1,124.6 608.9,119 611,116.5C613.1,114 618.3,111.5 621.2,111.2C624.2,111 627.1,112.5 628.8,115C630.4,117.5 630.8,124.4 631.2,126.2"/>
<path class="l" d="M631.2,126.2L635,175.6L630,178.5L627.5,176.9L623.8,120" style="stroke-width:3.4"/>
<path class="l" d="M610,163.1L620,165.6L621,115"/>
<path class="l" d="M615,164.4L616.5,117.5" style="stroke-width:1.6"/>
<path class="l" d="M633.1,146.2L638.1,143.1"/>
<path class="n" d="M526.2,83.1L526.9,56.2L530,52.2L540,50.6L551.9,51.2L552.5,56L560,55L561.5,76.2L562.2,90L552.5,94L540,94L532.5,91.2L527.5,90Z"/>
<path class="l" d="M526.2,83.1C526.3,80.9 526.5,74.5 526.6,70C526.7,65.5 526.4,59.2 526.9,56.2C527.3,53.3 527.2,53.4 529.4,52.5C531.6,51.6 536.2,50.8 540,50.6C543.8,50.4 549.9,51.1 551.9,51.2" style="stroke-width:3.2"/>
<path class="l" d="M551.9,51.2L552.5,56.2"/>
<path class="l" d="M556.2,55.8L560,55L561.2,76.2L562,90" style="stroke-width:3"/>
<path class="l" d="M532.5,90L536.2,60"/>
<path class="l" d="M536.2,60C537.9,60.2 542.7,61.7 546.2,61.5C549.8,61.3 555.6,59.2 557.5,58.8"/>
<path class="l" d="M557.5,58.8L559,90"/>
<path class="l" d="M532.8,90.6C534,91.1 537.1,93 540,93.5C542.9,94 546.8,94.1 550,93.5C553.2,92.9 557.8,90.6 559.4,90"/>
<path class="l" d="M530.2,88.1L531.9,56.9L548.1,54L548.1,57.8"/>
<path class="l" d="M528.5,85L529.5,57.5" style="stroke-width:1.6"/>
<path class="k" d="M517.2,90.6L525.2,85.2L527.5,86.5L528.1,90L535,92.5L527.5,95L521.2,93.1Z"/>
<path class="k" d="M562.5,81.9L569.5,87.5L566.5,91L561.9,92.5L559.4,90.6L563.1,88.8Z"/>
<path class="k" d="M529.4,83.8L535.6,84L536,91.2L531.2,90.6Z"/>
<path class="w" d="M404.5,221.2L403.5,186.2L406.6,137.5C407,136.1 406.9,131.7 409.1,129.4C411.3,127 415.7,125 419.8,123.5C423.8,122 428.5,120.7 433.5,120.2C438.5,119.8 447,120.6 449.8,120.6L483.5,126.2L519.8,130L571,138.1C573.1,138.9 580,140.5 583.5,142.5C587,144.5 590.2,147.1 592.2,150C594.3,152.9 595.4,158.3 596,160L598.5,202.5L597.5,237.5C596.2,238.8 593.8,243.4 589.8,245C585.8,246.6 578.7,246.9 573.5,247.2C568.3,247.6 561,247 558.5,247L541,244L426,228.5C423.5,228.1 414.6,227.2 411,226C407.4,224.8 405.6,222 404.5,221.2Z"/>
<path class="l" d="M417.2,127.8C417.9,128.5 419.1,131.3 421,132.5C422.9,133.7 427.5,134.6 428.8,135"/>
<path class="l" d="M428.8,135L543.5,151.2"/>
<path class="l" d="M543.5,151.2C547.7,151.6 562,153.6 568.5,153.1C575,152.6 579.4,149.7 582.2,148.1C585.1,146.6 585.6,145.1 585.4,143.8C585.2,142.4 581.7,140.6 581,140"/>
<path class="l" d="M406.6,142.5C407.8,143.2 410.3,145.7 413.5,146.9C416.7,148 423.9,149.1 426,149.5"/>
<path class="l" d="M426,149.5L539.8,164"/>
<path class="l" d="M539.8,164C544.5,164.4 559.3,167.3 568.5,166.2C577.7,165.2 590.6,159 595,157.5"/>
<path class="l" d="M430,135.6C429.4,136.6 427.3,138.9 426.6,141.2C426,143.6 426.1,148.5 426,150"/>
<path class="l" d="M426,150L424.1,193.8L426,228.2"/>
<path class="l" d="M546,151.5C545.3,152.4 542.8,154.6 542,156.9C541.2,159.1 541.2,163.6 541,165"/>
<path class="l" d="M541,165L539.1,210.2L541,244"/>
<path class="l" d="M405.4,188.8C406.3,189.6 407.8,192.5 411,193.8C414.2,195 422.5,195.8 424.8,196.2"/>
<path class="l" d="M424.8,196.2L539.1,210.6"/>
<path class="l" d="M539.1,210.6C544.4,211.1 561.3,214.9 571,213.8C580.7,212.6 593.1,205.2 597.5,203.5"/>
<path class="n" d="M483.1,130L483.8,103.1L486.9,99.1L496.9,97.5L508.8,98.1L509.4,102.9L516.9,101.9L518.4,123.1L519.1,136.9L509.4,140.9L496.9,140.9L489.4,138.1L484.4,136.9Z"/>
<path class="l" d="M483.1,130C483.2,127.8 483.4,121.4 483.5,116.9C483.6,112.4 483.3,106 483.8,103.1C484.2,100.2 484.1,100.3 486.2,99.4C488.4,98.4 493.1,97.7 496.9,97.5C500.6,97.3 506.8,98 508.8,98.1" style="stroke-width:3.2"/>
<path class="l" d="M508.8,98.1L509.4,103.1"/>
<path class="l" d="M513.1,102.6L516.9,101.9L518.1,123.1L518.9,136.9" style="stroke-width:3"/>
<path class="l" d="M489.4,136.9L493.1,106.9"/>
<path class="l" d="M493.1,106.9C494.8,107.1 499.6,108.6 503.1,108.4C506.7,108.2 512.5,106.1 514.4,105.6"/>
<path class="l" d="M514.4,105.6L515.9,136.9"/>
<path class="l" d="M489.6,137.5C490.8,138 494,139.9 496.9,140.4C499.8,140.9 503.6,141 506.9,140.4C510.1,139.8 514.7,137.5 516.2,136.9"/>
<path class="l" d="M487.1,135L488.8,103.8L505,100.9L505,104.6"/>
<path class="l" d="M485.4,131.9L486.4,104.4" style="stroke-width:1.6"/>
<path class="k" d="M474.1,137.5L482.1,132.1L484.4,133.4L485,136.9L491.9,139.4L484.4,141.9L478.1,140Z"/>
<path class="k" d="M519.4,128.8L526.4,134.4L523.4,137.9L518.8,139.4L516.2,137.5L520,135.6Z"/>
<path class="k" d="M486.2,130.6L492.5,130.9L492.9,138.1L488.1,137.5Z"/>
<path class="n" d="M639.4,122.5L641.2,110L650,103.5L662.5,99L697.5,99.5L712.5,104.4L716,115L720,145L723.1,195L722,231.2L717.5,236.9L699.4,240.6L697.5,190L695,177.5L683.1,170.8L671.9,177.5L669.4,190L667.5,241L647.5,236.2L644.4,229.4L641.9,228.8L637.5,195L639,165L641.2,145Z"/>
<path class="l" d="M639.4,123.8C639.4,122.1 638,117.1 639.8,113.8C641.5,110.4 646.2,106.2 650,103.8C653.8,101.3 660.4,99.8 662.5,99" style="stroke-width:3.2"/>
<path class="l" d="M697.5,99.5C699.8,100.3 708.2,101.8 711.2,104.4C714.3,107 714.9,113.2 715.6,115" style="stroke-width:3.2"/>
<path class="l" d="M715.6,115L720,145L723.1,195L722,231.2"/>
<path class="l" d="M722,231.2C721.2,232.2 721.3,235.3 717.5,236.9C713.7,238.4 702.4,240 699.4,240.6"/>
<path class="l" d="M699.4,240.6L697.2,188.8"/>
<path class="l" d="M697.2,188.8C696.9,186.7 697.4,179.2 695,176.2C692.6,173.2 687,170.8 683.1,170.8C679.2,170.8 673.8,173.2 671.5,176.2C669.2,179.2 669.7,186.7 669.4,188.8" style="stroke-width:3.2"/>
<path class="l" d="M669.4,188.8L667.5,241L647.5,236.2L645.6,201.2"/>
<path class="l" d="M645.6,201.2C646,196 648.1,176.4 648.1,170C648.1,163.6 646,164.3 645.6,163.1"/>
<path class="l" d="M645.6,163.1L645.2,150"/>
<path class="l" d="M639,120L641.2,145L638.8,165L637.5,195L641.9,228.8L644.8,229.2" style="stroke-width:3.2"/>
<path class="l" d="M642.5,117.5L645,140"/>
<path class="l" d="M643.8,165L643.1,195L644.8,229.2" style="stroke-width:1.8"/>
<path class="l" d="M645.2,150C645.6,148.8 645.9,144.4 647.5,142.5C649.1,140.6 653.8,139.4 655,138.8"/>
<path class="l" d="M708.8,138.1C709.9,138.8 714.1,140 715.6,141.9C717.1,143.8 717.4,148.1 717.8,149.4"/>
<path class="l" d="M646,150C647.5,151.2 648.9,155.8 655,157.5C661.1,159.2 673.3,160.2 682.5,160.2C691.7,160.2 704.1,159.3 710,157.5C715.9,155.7 716.5,150.7 717.8,149.4"/>
<path class="l" d="M655,120L657.8,139.5"/>
<path class="l" d="M703.5,119.8L708.5,138.1"/>
<path class="l" d="M655.6,139.8C657.2,140.6 660.5,143.9 665,145C669.5,146.1 676.7,146.5 682.5,146.5C688.3,146.5 695.7,146 700,144.8C704.3,143.5 707.1,140 708.5,139"/>
<ellipse class="w" cx="679.4" cy="122.5" rx="24.5" ry="6.5"/>
<path class="l" d="M650.6,106.9L655,120"/>
<path class="l" d="M704.8,107.5L708.5,137.5"/>
<path class="l" d="M701.9,103.8L703.8,119.4"/>
<path class="w" d="M661.9,122.5L663.1,88.8L666.2,85.2L672.5,84L678.5,120L670,125Z"/>
<path class="w" d="M696.9,122.5L696.9,88.8L693.1,84.8L686.2,83.5L681,120L687.5,125Z"/>
<path class="l" d="M664.8,91.9C665.4,92.3 667.5,94.6 668.8,94.4C670,94.2 671.7,91.2 672.2,90.6"/>
<path class="l" d="M687.2,91.2C687.8,91.7 689.2,93.8 690.6,94C692,94.2 694.8,92.5 695.6,92.2"/>
<path class="l" d="M670,93.1L674,118.8" style="stroke-width:1.8"/>
<path class="l" d="M689.4,93.8L686,118.8" style="stroke-width:3.4"/>
<path class="k" d="M671.5,117.5L678.1,116.9L678.5,128.8L672.5,129.8Z"/>
<path class="k" d="M683.5,117.2L689,116.9L689.5,128.8L684,129.8Z"/>
<path class="l" d="M655,123.1C656.7,124 660.8,127.4 665,128.5C669.2,129.6 675,129.8 680,129.8C685,129.7 691,129.2 695,128.1C699,127 702.3,124 703.8,123.1" style="stroke-width:3"/>
<path class="l" d="M648.1,201.2C649.7,202 654.2,205 657.5,206C660.8,207 666.4,207.2 668.1,207.5"/>
<path class="l" d="M699.4,207C701.6,206.6 709,205.9 712.5,204.8C716,203.6 719,200.8 720.2,200"/>
<path class="l" d="M671.9,190C673.6,189.5 678.4,187.1 682.5,187.2C686.6,187.4 694,190.2 696.2,190.8"/>
<path class="l" d="M673.1,179.5L677.5,179.5L677.5,175.2" style="stroke-width:3"/>
<path class="l" d="M683.1,175.2L683.1,179.5L687.8,177.5" style="stroke-width:3"/>
<g class="r">
<!--RIGHT ASSEMBLY-->
<path class="w" d="M1436,690L1436,1535C1437,1560 1480,1575 1530,1585C1620,1601 1720,1601 1810,1585C1860,1575 1902,1560 1903,1535L1903,812" style="stroke-width:4"/>
<path class="l" d="M1482.5,1575C1520,1600 1590,1624 1669,1624C1750,1624 1815,1600 1850,1576.5"/>
<path class="k" d="M1642.6,1620C1648,1629 1655,1630.8 1669,1630.8C1683,1630.8 1690,1629 1695.6,1620L1690,1621C1682,1625.5 1656,1625.5 1648,1621Z"/>
<path class="l" d="M1707.8,765L1707.8,1597" style="stroke-width:7.4;stroke-linecap:butt"/>
<path class="l" d="M1860.5,1121L1860.5,1211.5" style="stroke-width:4"/>
<ellipse class="l" cx="1860" cy="1483.5" rx="9" ry="17.5" transform="rotate(14 1860 1483.5)" style="stroke-width:3"/>
<ellipse class="l" cx="1668.9" cy="1757.7" rx="32.5" ry="11.2" style="stroke-width:3.6"/>
<path class="k" d="M1640,1761C1648,1772 1690,1772 1698,1761C1688,1766.5 1650,1766.5 1640,1761Z"/>
<ellipse class="l" cx="1671.6" cy="1756.4" rx="26.5" ry="7.2" style="stroke-width:2.2"/>
<ellipse class="l" cx="1669.9" cy="1757.2" rx="21.5" ry="4.6" style="stroke-width:3"/>
<path class="l" d="M1507.5,916.5C1522,922 1522,940 1518,962C1514,985 1524,995 1528,1003" style="stroke-width:4.5"/>
<path class="w" d="M1518,1006Q1518,1002 1525.5,1002Q1533,1002 1533,1006L1533,1089Q1533,1094 1525.5,1094Q1518,1094 1518,1089Z" style="stroke-width:2.6"/>
<path class="l" d="M1518,1007Q1525,1010 1533,1007" style="stroke-width:1.6"/>
<path class="l" d="M1518,1088Q1525,1092 1533,1088" style="stroke-width:3"/>
<path class="l" d="M1442.9,615C1443.5,613.2 1444.1,607.7 1446.3,604.1C1448.6,600.5 1452.1,596.9 1456.6,593.5C1461,590 1466.7,586.7 1473.2,583.5C1479.8,580.3 1487.5,577.3 1495.9,574.5C1504.3,571.7 1513.8,569.1 1523.8,566.7C1533.9,564.4 1544.8,562.3 1556.2,560.4C1567.5,558.6 1579.6,557 1591.9,555.8C1604.3,554.6 1617.2,553.6 1630.1,553C1643,552.3 1656.3,552 1669.4,552C1682.5,552 1695.8,552.3 1708.7,553C1721.6,553.6 1734.5,554.6 1746.9,555.8C1759.2,557 1771.3,558.6 1782.7,560.4C1794,562.3 1804.9,564.4 1815,566.7C1825,569.1 1834.5,571.7 1842.9,574.5C1851.3,577.3 1859,580.3 1865.6,583.5C1872.1,586.7 1877.8,590 1882.2,593.5C1886.7,596.9 1890.2,600.5 1892.5,604.1C1894.7,607.7 1895.3,613.2 1895.9,615"/>
<path class="l" d="M1451.4,615C1452,613.3 1452.5,608.1 1454.7,604.8C1456.9,601.4 1460.2,598 1464.5,594.8C1468.9,591.6 1474.3,588.5 1480.6,585.5C1486.9,582.5 1494.3,579.7 1502.4,577.1C1510.5,574.5 1519.6,572 1529.3,569.8C1538.9,567.6 1549.5,565.6 1560.4,563.9C1571.3,562.2 1583,560.7 1594.8,559.6C1606.7,558.4 1619.1,557.5 1631.5,556.9C1644,556.3 1656.8,556 1669.4,556C1682,556 1694.8,556.3 1707.3,556.9C1719.7,557.5 1732.1,558.4 1744,559.6C1755.8,560.7 1767.5,562.2 1778.4,563.9C1789.3,565.6 1799.9,567.6 1809.5,569.8C1819.2,572 1828.3,574.5 1836.4,577.1C1844.5,579.7 1851.9,582.5 1858.2,585.5C1864.5,588.5 1869.9,591.6 1874.3,594.8C1878.6,598 1881.9,601.4 1884.1,604.8C1886.3,608.1 1886.8,613.3 1887.4,615"/>
<path class="w" d="M1462.5,455L1462.5,628C1500,690 1840,690 1876.2,628L1876.2,455Z" style="stroke:none"/>
<path class="l" d="M1463.3,455L1463.3,628M1875.6,455L1875.6,628" style="stroke-width:3.8"/>
<ellipse class="w" cx="1669.4" cy="455" rx="206.5" ry="54.3" style="stroke-width:4"/>
<ellipse class="l" cx="1669.4" cy="455.5" rx="201.5" ry="51.5" style="stroke-width:1.1"/>
</g>
<g class="r">
<!--CLAMP / COLLAR-->
<path class="n" d="M1442,615L1445,666.2L1443,684.5L1443,733.8L1495,752.5L1560,764.5L1607,768.3L1665,772L1708,771L1780,764.6L1840,750L1881,737L1903,700L1896,615Z"/>
<path class="n" d="M1462.5,560L1462.5,628C1500,690 1840,690 1876.2,628L1876.2,560Z"/>
<path class="l" d="M1463.3,560L1463.3,628M1875.6,560L1875.6,628" style="stroke-width:3.8"/>
<path class="l" d="M1895.9,615C1895.3,616.8 1894.7,622.3 1892.5,625.9C1890.2,629.5 1886.7,633.1 1882.2,636.5C1877.8,640 1872.1,643.3 1865.6,646.5C1859,649.7 1851.3,652.7 1842.9,655.5C1834.5,658.3 1825,660.9 1815,663.3C1804.9,665.6 1794,667.7 1782.7,669.6C1771.3,671.4 1759.2,673 1746.9,674.2C1734.5,675.4 1721.6,676.4 1708.7,677C1695.8,677.7 1682.5,678 1669.4,678C1656.3,678 1643,677.7 1630.1,677C1617.2,676.4 1604.3,675.4 1591.9,674.2C1579.6,673 1567.5,671.4 1556.2,669.6C1544.8,667.7 1533.9,665.6 1523.8,663.3C1513.8,660.9 1504.3,658.3 1495.9,655.5C1487.5,652.7 1479.8,649.7 1473.2,646.5C1466.7,643.3 1461,640 1456.6,636.5C1452.1,633.1 1448.6,629.5 1446.3,625.9C1444.1,622.3 1443.5,616.8 1442.9,615"/>
<path class="l" d="M1887.4,615C1886.8,616.7 1886.3,622 1884.1,625.4C1881.9,628.8 1878.6,632.3 1874.3,635.5C1869.9,638.8 1864.5,642 1858.2,645C1851.9,648 1844.5,650.9 1836.4,653.6C1828.3,656.2 1819.2,658.7 1809.5,661C1799.9,663.2 1789.3,665.2 1778.4,667C1767.5,668.7 1755.8,670.2 1744,671.4C1732.1,672.6 1719.7,673.5 1707.3,674.1C1694.8,674.7 1682,675 1669.4,675C1656.8,675 1644,674.7 1631.5,674.1C1619.1,673.5 1606.7,672.6 1594.8,671.4C1583,670.2 1571.3,668.7 1560.4,667C1549.5,665.2 1538.9,663.2 1529.3,661C1519.6,658.7 1510.5,656.2 1502.4,653.6C1494.3,650.9 1486.9,648 1480.6,645C1474.3,642 1468.9,638.8 1464.5,635.5C1460.2,632.3 1456.9,628.8 1454.7,625.4C1452.5,622 1452,616.7 1451.4,615"/>
<path class="k" d="M1462.8,624L1463.9,628.8L1467.3,633.5L1472.9,638.1L1480.7,642.5L1490.5,646.8L1502.3,650.7L1515.9,654.4L1531.2,657.8L1548,660.8L1566.1,663.4L1585.4,665.6L1605.6,667.3L1626.4,668.5L1647.8,669.3L1669.4,669.5L1691,669.3L1712.4,668.5L1733.2,667.3L1753.4,665.6L1772.7,663.4L1790.8,660.8L1807.6,657.8L1822.9,654.4L1836.5,650.7L1848.3,646.8L1858.1,642.5L1865.9,638.1L1871.5,633.5L1874.9,628.8L1876,624L1876,624L1874.9,629.7L1871.5,635.3L1865.9,640.8L1858.1,646.2L1848.3,651.2L1836.5,656L1822.9,660.5L1807.6,664.5L1790.8,668.1L1772.7,671.2L1753.4,673.8L1733.2,675.8L1712.4,677.3L1691,678.2L1669.4,678.5L1647.8,678.2L1626.4,677.3L1605.6,675.8L1585.4,673.8L1566.1,671.2L1548,668.1L1531.2,664.5L1515.9,660.5L1502.3,656L1490.5,651.2L1480.7,646.2L1472.9,640.8L1467.3,635.3L1463.9,629.7L1462.8,624Z"/>
<path class="l" d="M1567.5,706.2C1576.2,707 1602.9,709.5 1620,710.5C1637.1,711.5 1651.2,712.8 1670,712.5C1688.8,712.2 1711.7,710.8 1732.5,708.8C1753.3,706.7 1777.1,703.5 1795,700C1812.9,696.5 1829.2,691.3 1840,688C1850.8,684.7 1854.6,682.5 1860,680C1865.4,677.5 1870.4,674.2 1872.5,673" style="stroke-width:4"/>
<path class="l" d="M1560,757.5C1567.8,757.8 1589.5,758.7 1607,759.2C1624.5,759.8 1648.2,760.7 1665,760.8C1681.8,760.9 1688.8,760.6 1708,759.6C1727.2,758.6 1759.7,757.6 1780,754.7C1800.3,751.8 1815.8,746.5 1830,742C1844.2,737.5 1859.6,730.3 1865.5,728"/>
<path class="l" d="M1560,764.5C1567.8,765.1 1589.5,767 1607,768.3C1624.5,769.5 1648.2,771.5 1665,772C1681.8,772.5 1688.8,772.2 1708,771C1727.2,769.8 1758,768.1 1780,764.6C1802,761.1 1823.2,754.6 1840,750C1856.8,745.4 1874.2,739.2 1881,737"/>
<path class="l" d="M1575,760C1580.3,760.4 1592,761.6 1607,762.5C1622,763.4 1648.2,765.1 1665,765.4C1681.8,765.7 1688.8,765.4 1708,764.2C1727.2,763 1759.7,761 1780,758C1800.3,755 1815.8,750.5 1830,746C1844.2,741.5 1859.2,733.5 1865,731" style="stroke-width:2.6"/>
<path class="l" d="M1442.5,696.2C1441.6,697.2 1438.1,699.2 1436.9,701.9C1435.6,704.6 1435.3,708.6 1435,712.5C1434.7,716.4 1435.1,722.9 1435.1,725"/>
<path class="l" d="M1436,720C1436.5,720.8 1437.6,723.5 1438.8,725C1439.9,726.5 1442.4,728.1 1443.1,728.8"/>
<path class="l" d="M1452.5,665L1445.6,665.6L1445.6,685"/>
<path class="l" d="M1448.1,668.1C1450.7,670.3 1456.8,677.3 1463.8,681.2C1470.7,685.2 1485.6,690.1 1490,691.9"/>
<path class="l" d="M1460,673.8C1462.3,675.3 1468.1,680.5 1473.8,683.1C1479.4,685.8 1490.4,688.6 1493.8,689.8" style="stroke-width:3.6"/>
<path class="k" d="M1458.1,645.6L1452.8,655L1452.8,665L1459.8,668.1L1463.1,675L1462.2,666.2L1460.2,660L1460.2,645.6Z"/>
<path class="w" d="M1443.1,685.2C1447.6,687.2 1461.6,694 1470,696.9C1478.4,699.7 1489.8,701.4 1493.8,702.2L1493.8,751.9L1493.8,751.9C1489.8,750.8 1478.4,748.4 1470,745.6C1461.6,742.8 1447.6,736.8 1443.1,735Z"/>
<path class="l" d="M1452.5,682.8C1455.8,684.3 1465.4,689.6 1472.5,692.2C1479.6,694.9 1491.2,697.7 1495,698.8"/>
<path class="l" d="M1443.1,685.2L1445.6,683.1L1452.5,682.8"/>
<path class="w" d="M1493.8,698.8L1493.8,689.8L1501.9,686.2L1566.2,700L1566.2,705L1558.8,708.8L1558.8,756.2L1566.2,761.2L1552.5,765L1517.5,764L1505,758.5L1493.8,759L1480.6,755.6L1480.6,751.9L1493.8,751.9Z"/>
<path class="l" d="M1495,699.4L1520,706.5L1551.2,707.8L1566.2,702.8"/>
<path class="l" d="M1493.8,700L1520,708.8L1550.6,710L1558.8,707.5"/>
<path class="l" d="M1493.8,700L1493.8,757.8"/>
<path class="l" d="M1496.2,700.8L1496.2,757.8"/>
<path class="l" d="M1504.4,703.2L1504.4,757.8"/>
<path class="l" d="M1506.9,703.9L1506.9,757.8"/>
<path class="l" d="M1519.4,708.5L1519.4,763.1"/>
<path class="l" d="M1521.9,708.5L1521.9,763.1"/>
<path class="l" d="M1550,710L1550,764"/>
<path class="l" d="M1552.5,710L1552.5,764"/>
<path class="l" d="M1493.8,751.9L1505,751.9L1520,757.5L1551.2,758.1L1558.8,756.2"/>
<path class="l" d="M1480.6,753.5L1493.8,757.2L1505,756.5"/>
<ellipse class="k" cx="1500" cy="696.9" rx="3.5" ry="1.8"/>
<ellipse class="k" cx="1522.5" cy="701.5" rx="3.5" ry="1.8"/>
<ellipse class="k" cx="1543.1" cy="700.2" rx="3.5" ry="1.8"/>
<path class="w" d="M1558.8,708.8C1561.7,708.5 1569.2,706.6 1576.2,707.2C1583.3,707.9 1593.5,710 1601.2,712.5C1609,715 1616.4,719.2 1622.5,722.5C1628.6,725.8 1634.9,729.8 1638.1,732.5C1641.4,735.2 1642,736.7 1641.9,738.8C1641.8,740.8 1641.1,742.4 1637.5,745C1633.9,747.6 1626,752.1 1620,754.4C1614,756.7 1607.5,757.9 1601.2,758.8C1595,759.6 1589.6,759.8 1582.5,759.4C1575.4,759 1562.7,756.8 1558.8,756.2Z"/>
<path class="l" d="M1576.2,707.2C1580.4,708.1 1593.5,710 1601.2,712.5C1609,715 1616.4,719.2 1622.5,722.5C1628.6,725.8 1634.9,729.8 1638.1,732.5C1641.4,735.2 1642,736.7 1641.9,738.8C1641.8,740.8 1638.2,744 1637.5,745" style="stroke-width:5.2"/>
<path class="l" d="M1576.2,707C1581.5,707.7 1596,710 1607.5,711C1619,712 1638.8,712.5 1645,712.8"/>
<path class="w" d="M1859.4,680.6L1859.4,653.2L1870.1,646.3L1874.7,643.2L1897.6,645.5L1897.6,673L1885.4,675.3L1873.2,674.5Z"/>
<path class="l" d="M1864,650.9L1864,678.4"/>
<path class="l" d="M1870.1,647L1870.1,674.5"/>
<path class="l" d="M1880,648.6L1880,674.8"/>
<path class="l" d="M1894.5,647.8L1894.5,673.8"/>
<path class="l" d="M1870.1,647.8C1871.9,648.2 1876.7,650.1 1880.8,650.1C1884.9,650.1 1893.5,648.9 1894.5,647.8C1895.6,646.7 1890.1,644.4 1886.9,643.7C1883.7,643 1877.4,643.7 1875.4,643.7" style="stroke-width:1.6"/>
<path class="l" d="M1884.6,677.6C1884.1,679.6 1883.7,686.4 1881.6,689.8C1879.4,693.2 1874.7,695.9 1871.6,698.2C1868.6,700.5 1864.6,702.7 1863.2,703.6"/>
<path class="l" d="M1863.2,703.6L1863.7,707.4" style="stroke-width:3.6"/>
<path class="l" d="M1866.7,705.1L1866.7,736.4"/>
<path class="l" d="M1863.2,728.8L1863.2,735.6"/>
<path class="l" d="M1895.6,618.8L1953.3,668.4" style="stroke-width:4.2"/>
<path class="l" d="M1953.3,668.4C1953.7,669.4 1955.2,671.2 1955.6,674.5C1956,677.8 1955.6,686 1955.6,688.3"/>
<path class="l" d="M1885.4,634.8L1951,689"/>
<path class="l" d="M1951.4,673L1952.3,688.3"/>
<path class="w" d="M1868.6,703.6L1909.8,709.7L1958.7,689.5L1959.4,781.4L1952.9,795.9L1911.3,814.3L1909,814.3L1909,709.7Z"/>
<path class="l" d="M1909,709.7L1909,813.5" style="stroke-width:6.5;stroke-linecap:butt"/>
<path class="l" d="M1880,809.2L1911.3,814.3" style="stroke-width:3"/>
<ellipse class="l" cx="1943.1" cy="719.1" rx="2.1" ry="3.4" transform="rotate(12 1943.1 719.1)" style="stroke-width:4.5"/>
<ellipse class="l" cx="1920.2" cy="729.2" rx="2.1" ry="3.4" transform="rotate(12 1920.2 729.2)" style="stroke-width:4.5"/>
<ellipse class="l" cx="1923.2" cy="752.7" rx="3.1" ry="6.4" transform="rotate(12 1923.2 752.7)" style="stroke-width:6"/>
<ellipse class="l" cx="1946.5" cy="775.6" rx="3.1" ry="6.4" transform="rotate(12 1946.5 775.6)" style="stroke-width:6"/>
</g>
<!--LABELS-->
<g class="t">
<text x="159" y="184.5">1</text>
<text x="160" y="447.5">2</text>
<text x="159" y="689">3</text>
<text x="133" y="912.5">16</text>
<text x="932" y="722.5">4</text>
<text x="942" y="952.5">5</text>
<text x="942" y="1439">7</text>
<text x="160" y="1473">8</text>
<text x="942" y="1660">6</text>
<text x="942" y="1872.5">9</text>
<text x="1228" y="480">15</text>
<text x="1219" y="722.5">14</text>
<text x="2014" y="610">11</text>
<text x="1218" y="1058">10</text>
<text x="2010" y="1346.5">13</text>
<text x="1218" y="1761">12</text>
</g>
<g class="ld">
<path d="M215,169.4L460,175"/>
<path d="M215,430.5L469,436.5"/>
<path d="M211,656L430,587.5"/>
<path d="M208.5,871.5L464,751.5"/>
<path d="M902.5,710.5L682.5,730"/>
<path d="M911.5,938.5L695,946.5"/>
<path d="M920,1391.5L789,1304"/>
<path d="M215,1456L370,1452.5"/>
<path d="M911.5,1640L745,1629"/>
<path d="M911.5,1859L747.5,1871.5"/>
<path d="M1295,499L1484,666"/>
<path d="M1300,707.5L1463.5,715"/>
<path d="M2007.5,582.5L1830,549"/>
<path d="M1298.5,1042.5L1525,1044"/>
<path d="M2006,1331L1843.5,1338"/>
<path d="M1298.5,1746L1637.5,1757.5"/>
</g>
<g fill="#000">
<circle cx="1484" cy="666" r="5.7"/><circle cx="1463.5" cy="715" r="5.7"/><circle cx="1830.7" cy="549.2" r="5.7"/>
<circle cx="1525" cy="1044" r="5.7"/><circle cx="1843.5" cy="1338" r="5.7"/>
</g>

</svg>
</body></html>
